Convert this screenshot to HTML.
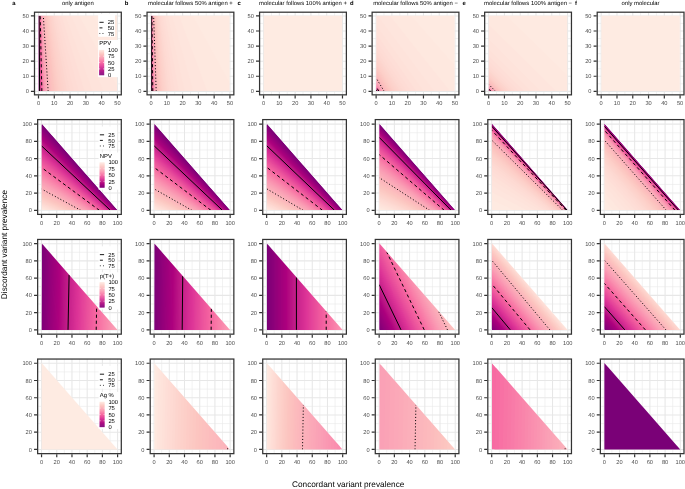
<!DOCTYPE html>
<html lang="en"><head><meta charset="utf-8"><title>Figure</title><style>html,body{margin:0;padding:0;background:#fff}svg{display:block;will-change:transform}</style></head><body>
<svg width="685" height="489" viewBox="0 0 685 489" font-family="'Liberation Sans', Arial, Helvetica, sans-serif" text-rendering="geometricPrecision">
<rect width="685" height="489" fill="#fff"/>
<g>
<path d="M46.39 12.2V94.85M62.17 12.2V94.85M77.95 12.2V94.85M93.73 12.2V94.85M109.51 12.2V94.85M34.5 83.8H121.3M34.5 68.72H121.3M34.5 53.62H121.3M34.5 38.54H121.3M34.5 23.45H121.3" stroke="#e9e9e9" stroke-width=".6" fill="none"/>
<path d="M38.5 12.2V94.85M54.28 12.2V94.85M70.06 12.2V94.85M85.84 12.2V94.85M101.62 12.2V94.85M117.4 12.2V94.85M34.5 91.35H121.3M34.5 76.26H121.3M34.5 61.17H121.3M34.5 46.08H121.3M34.5 30.99H121.3M34.5 15.9H121.3" stroke="#e7e7e7" stroke-width="1.05" fill="none"/>
<mask id="c1" maskUnits="userSpaceOnUse" x="34.5" y="12.2" width="86.8" height="82.65"><path d="M38.65 90.9L117.1 90.9L117.1 15.65L38.65 15.65z" fill="#fff"/></mask>
<g mask="url(#c1)">
<path d="M38.65 90.9L117.1 90.9L117.1 15.65L38.65 15.65z" fill="#7c0177"/>
<path d="M38.5 106.4L133.2 106.4L133.2 0.8L38.5 0.8z" fill="#7f0178"/>
<path d="M38.6 106.4L133.2 106.4L133.2 0.8L38.5 0.8z" fill="#820178"/>
<path d="M38.6 106.4L133.2 106.4L133.2 0.8L38.5 0.8z" fill="#850178"/>
<path d="M38.7 106.4L133.2 106.4L133.2 0.8L38.6 0.8z" fill="#880179"/>
<path d="M38.7 106.4L133.2 106.4L133.2 0.8L38.6 0.8z" fill="#8b0179"/>
<path d="M38.7 106.4L133.2 106.4L133.2 0.8L38.6 0.8z" fill="#8e017a"/>
<path d="M38.8 106.4L133.2 106.4L133.2 0.8L38.6 0.8z" fill="#92017a"/>
<path d="M38.8 106.4L133.2 106.4L133.2 0.8L38.6 0.8z" fill="#95007b"/>
<path d="M38.9 106.4L133.2 106.4L133.2 0.8L38.6 0.8z" fill="#98007b"/>
<path d="M38.9 106.4L133.2 106.4L133.2 0.8L38.7 0.8z" fill="#9b017b"/>
<path d="M39 106.4L133.2 106.4L133.2 0.8L38.7 0.8z" fill="#9e017c"/>
<path d="M39 106.4L133.2 106.4L133.2 0.8L38.7 0.8z" fill="#a1017c"/>
<path d="M39.1 106.4L133.2 106.4L133.2 0.8L38.7 0.8z" fill="#a4017d"/>
<path d="M39.1 106.4L133.2 106.4L133.2 0.8L38.7 0.8z" fill="#a7017d"/>
<path d="M39.2 106.4L133.2 106.4L133.2 0.8L38.7 0.8z" fill="#aa017e"/>
<path d="M39.2 106.4L133.2 106.4L133.2 0.8L38.8 0.8z" fill="#ad017e"/>
<path d="M39.3 106.4L133.2 106.4L133.2 0.8L38.8 0.8z" fill="#b0057f"/>
<path d="M39.3 106.4L133.2 106.4L133.2 0.8L38.8 0.8z" fill="#b30a81"/>
<path d="M39.4 106.4L133.2 106.4L133.2 0.8L38.8 0.8z" fill="#b60e82"/>
<path d="M39.4 106.4L133.2 106.4L133.2 0.8L38.8 0.8z" fill="#b91284"/>
<path d="M39.5 106.4L133.2 106.4L133.2 0.8L38.9 0.8z" fill="#bb1685"/>
<path d="M39.6 106.4L133.2 106.4L133.2 0.8L38.9 0.8z" fill="#be1987"/>
<path d="M39.6 106.4L133.2 106.4L133.2 0.8L38.9 0.8z" fill="#c11c88"/>
<path d="M39.7 106.4L133.2 106.4L133.2 0.8L38.9 0.8z" fill="#c41f8a"/>
<path d="M39.7 106.4L133.2 106.4L133.2 0.8L39 0.8z" fill="#c7218b"/>
<path d="M39.8 106.4L133.2 106.4L133.2 0.8L39 0.8z" fill="#ca248d"/>
<path d="M39.9 106.4L133.2 106.4L133.2 0.8L39 0.8z" fill="#cc268e"/>
<path d="M40 106.4L133.2 106.4L133.2 0.8L39 0.8z" fill="#cf2990"/>
<path d="M40 106.4L133.2 106.4L133.2 0.8L39.1 0.8z" fill="#d22b91"/>
<path d="M40.1 106.4L133.2 106.4L133.2 0.8L39.1 0.8z" fill="#d52e93"/>
<path d="M40.2 106.4L133.2 106.4L133.2 0.8L39.1 0.8z" fill="#d83094"/>
<path d="M40.3 106.4L133.2 106.4L133.2 0.8L39.1 0.8z" fill="#db3296"/>
<path d="M40.3 106.4L133.2 106.4L133.2 0.8L39.2 0.8z" fill="#dd3597"/>
<path d="M40.4 106.4L133.2 106.4L133.2 0.8L39.2 0.8z" fill="#df3898"/>
<path d="M40.5 106.4L133.2 106.4L133.2 0.8L39.2 0.8z" fill="#e03c98"/>
<path d="M40.6 106.4L133.2 106.4L133.2 0.8L39.3 0.8z" fill="#e24099"/>
<path d="M40.7 106.4L133.2 106.4L133.2 0.8L39.3 0.8z" fill="#e4439a"/>
<path d="M40.8 106.4L133.2 106.4L133.2 0.8L39.3 0.8z" fill="#e5469a"/>
<path d="M40.9 106.4L133.2 106.4L133.2 0.8L39.4 0.8z" fill="#e7499b"/>
<path d="M41 106.4L133.2 106.4L133.2 0.8L39.4 0.8z" fill="#e84d9b"/>
<path d="M41.1 106.4L133.2 106.4L133.2 0.8L39.4 0.8z" fill="#ea509c"/>
<path d="M41.2 106.4L133.2 106.4L133.2 0.8L39.5 0.8z" fill="#eb539d"/>
<path d="M41.3 106.4L133.2 106.4L133.2 0.8L39.5 0.8z" fill="#ed569d"/>
<path d="M41.4 106.4L133.2 106.4L133.2 0.8L39.6 0.8z" fill="#ef599e"/>
<path d="M41.5 106.4L133.2 106.4L133.2 0.8L39.6 0.8z" fill="#f05b9e"/>
<path d="M41.7 106.4L133.2 106.4L133.2 0.8L39.6 0.8z" fill="#f25e9f"/>
<path d="M41.8 106.4L133.2 106.4L133.2 0.8L39.7 0.8z" fill="#f361a0"/>
<path d="M41.9 106.4L133.2 106.4L133.2 0.8L39.7 0.8z" fill="#f564a0"/>
<path d="M42.1 106.4L133.2 106.4L133.2 0.8L39.8 0.8z" fill="#f667a1"/>
<path d="M42.2 106.4L133.2 106.4L133.2 0.8L39.8 0.8z" fill="#f76aa2"/>
<path d="M42.3 106.4L133.2 106.4L133.2 0.8L39.9 0.8z" fill="#f76da3"/>
<path d="M42.5 106.4L133.2 106.4L133.2 0.8L40 0.8z" fill="#f871a4"/>
<path d="M42.7 106.4L133.2 106.4L133.2 0.8L40 0.8z" fill="#f875a5"/>
<path d="M42.8 106.4L133.2 106.4L133.2 0.8L40.1 0.8z" fill="#f878a6"/>
<path d="M43 106.4L133.2 106.4L133.2 0.8L40.1 0.8z" fill="#f87ba8"/>
<path d="M43.2 106.4L133.2 106.4L133.2 0.8L40.2 0.8z" fill="#f97fa9"/>
<path d="M43.4 106.4L133.2 106.4L133.2 0.8L40.3 0.8z" fill="#f982aa"/>
<path d="M43.6 106.4L133.2 106.4L133.2 0.8L40.3 0.8z" fill="#f985ab"/>
<path d="M43.8 106.4L133.2 106.4L133.2 0.8L40.4 0.8z" fill="#f989ac"/>
<path d="M44 106.4L133.2 106.4L133.2 0.8L40.5 0.8z" fill="#f98cae"/>
<path d="M44.2 106.4L133.2 106.4L133.2 0.8L40.6 0.8z" fill="#fa8faf"/>
<path d="M44.4 106.4L133.2 106.4L133.2 0.8L40.7 0.8z" fill="#fa92b0"/>
<path d="M44.7 106.4L133.2 106.4L133.2 0.8L40.8 0.8z" fill="#fa95b1"/>
<path d="M45 106.4L133.2 106.4L133.2 0.8L40.8 0.8z" fill="#fa98b2"/>
<path d="M45.2 106.4L133.2 106.4L133.2 0.8L40.9 0.8z" fill="#fa9bb4"/>
<path d="M45.5 106.4L133.2 106.4L133.2 0.8L41.1 0.8z" fill="#fa9eb5"/>
<path d="M45.8 106.4L133.2 106.4L133.2 0.8L41.2 0.8z" fill="#faa1b6"/>
<path d="M46.2 106.4L133.2 106.4L133.2 0.8L41.3 0.8z" fill="#faa3b6"/>
<path d="M46.5 106.4L133.2 106.4L133.2 0.8L41.4 0.8z" fill="#fba6b7"/>
<path d="M46.9 106.4L133.2 106.4L133.2 0.8L41.5 0.8z" fill="#fba8b8"/>
<path d="M47.3 106.4L133.2 106.4L133.2 0.8L41.7 0.8z" fill="#fbaab8"/>
<path d="M47.7 106.4L133.2 106.4L133.2 0.8L41.8 0.8z" fill="#fbadb9"/>
<path d="M48.1 106.4L133.2 106.4L133.2 0.8L42 0.8z" fill="#fbafba"/>
<path d="M48.6 106.4L133.2 106.4L133.2 0.8L42.2 0.8z" fill="#fbb1ba"/>
<path d="M49.1 106.4L133.2 106.4L133.2 0.8L42.4 0.8z" fill="#fbb3bb"/>
<path d="M49.7 106.4L133.2 106.4L133.2 0.8L42.6 0.8z" fill="#fbb6bc"/>
<path d="M50.3 106.4L133.2 106.4L133.2 0.8L42.8 0.8z" fill="#fcb8bc"/>
<path d="M50.9 106.4L133.2 106.4L133.2 0.8L43 0.8z" fill="#fcbabd"/>
<path d="M51.6 106.4L133.2 106.4L133.2 0.8L43.3 0.8z" fill="#fcbcbd"/>
<path d="M52.4 106.4L133.2 106.4L133.2 0.8L43.5 0.8z" fill="#fcbfbe"/>
<path d="M53.2 106.4L133.2 106.4L133.2 0.8L43.9 0.8z" fill="#fcc1bf"/>
<path d="M54.1 106.4L133.2 106.4L133.2 0.8L44.2 0.8z" fill="#fcc3bf"/>
<path d="M55.2 106.4L133.2 106.4L133.2 0.8L44.6 0.8z" fill="#fcc5c0"/>
<path d="M56.3 106.4L133.2 106.4L133.2 0.8L45 0.8z" fill="#fcc8c2"/>
<path d="M57.5 106.4L133.2 106.4L133.2 0.8L45.4 0.8z" fill="#fccac4"/>
<path d="M58.9 106.4L133.2 106.4L133.2 0.8L45.9 0.8z" fill="#fdccc6"/>
<path d="M60.5 106.4L133.2 106.4L133.2 0.8L46.5 0.8z" fill="#fdcfc8"/>
<path d="M62.4 106.4L133.2 106.4L133.2 0.8L47.2 0.8z" fill="#fdd1ca"/>
<path d="M64.5 106.4L133.2 106.4L133.2 0.8L47.9 0.8z" fill="#fdd3cc"/>
<path d="M66.9 106.4L133.2 106.4L133.2 0.8L48.8 0.8z" fill="#fdd5ce"/>
<path d="M69.8 106.4L133.2 106.4L133.2 0.8L49.9 0.8z" fill="#fdd8d1"/>
<path d="M73.2 106.4L133.2 106.4L133.2 0.8L51.1 0.8z" fill="#fedad3"/>
<path d="M77.4 106.4L133.2 106.4L133.2 0.8L52.6 0.8z" fill="#fedcd5"/>
<path d="M82.6 106.4L133.2 106.4L133.2 0.8L54.5 0.8z" fill="#feded7"/>
<path d="M89.2 106.4L133.2 106.4L133.2 0.8L57 0.8z" fill="#fee1d9"/>
<path d="M98 106.4L133.2 106.4L133.2 0.8L60.1 0.8z" fill="#fee3db"/>
<path d="M110.1 106.4L133.2 106.4L133.2 0.8L64.6 0.8z" fill="#fee5dd"/>
<path d="M128 106.4L133.2 106.4L133.2 0.8L71.1 0.8z" fill="#fee8df"/>
<path d="M133.2 73.1L133.2 0.8L81.6 0.8z" fill="#feeae1"/>
</g>
<g mask="url(#c1)" stroke="#000" stroke-width="1" fill="none">
<path d="M39.64 91.35L39.07 15.9"/>
<path d="M41.86 91.35L40.18 15.9" stroke-dasharray="3.2 2.8"/>
<path d="M48.16 91.35L43.33 15.9" stroke-dasharray="1.05 2.1"/>
</g>
<path d="M38.5 95.35v3.1M54.28 95.35v3.1M70.06 95.35v3.1M85.84 95.35v3.1M101.62 95.35v3.1M117.4 95.35v3.1M34 91.35h-3.1M34 76.26h-3.1M34 61.17h-3.1M34 46.08h-3.1M34 30.99h-3.1M34 15.9h-3.1" stroke="#333" stroke-width="1.2" fill="none"/>
<g font-size="5.7" fill="#4d4d4d">
<g text-anchor="middle">
<text x="38.5" y="105.45">0</text>
<text x="54.28" y="105.45">10</text>
<text x="70.06" y="105.45">20</text>
<text x="85.84" y="105.45">30</text>
<text x="101.62" y="105.45">40</text>
<text x="117.4" y="105.45">50</text>
</g><g text-anchor="end">
<text x="28.8" y="93.4">0</text>
<text x="28.8" y="78.31">10</text>
<text x="28.8" y="63.22">20</text>
<text x="28.8" y="48.13">30</text>
<text x="28.8" y="33.04">40</text>
<text x="28.8" y="17.95">50</text>
</g></g>
<text x="77.9" y="4.5" font-size="5.9" text-anchor="middle">only antigen</text>
<text x="12.3" y="4.7" font-size="5.9" font-weight="bold">a</text>
<rect x="98.16" y="14.01" width="16.8" height="22.75" fill="#fff"/>
<rect x="98.16" y="39.96" width="23.14" height="37.2" fill="#fff"/>
<g stroke="#000" stroke-width=".9">
<path d="M99.46 22.31h4.2"/>
<path d="M99.46 27.89h4.2" stroke-dasharray="3 3"/>
<path d="M99.46 33.47h4.2" stroke-dasharray=".8 2.3"/>
</g>
<g font-size="5.8">
<text x="107.76" y="24.41">25</text>
<text x="107.76" y="29.99">50</text>
<text x="107.76" y="35.57">75</text>
<text x="99.36" y="45.46" font-size="5.9">PPV</text>
<text x="107.96" y="51.96">100</text>
<text x="107.96" y="58.31">75</text>
<text x="107.96" y="64.66">50</text>
<text x="107.96" y="71.01">25</text>
<text x="107.96" y="77.36">0</text>
</g>
<rect x="99.16" y="49.86" width="5" height="1.32" fill="#fee6de"/>
<rect x="99.16" y="50.88" width="5" height="1.32" fill="#feddd6"/>
<rect x="99.16" y="51.89" width="5" height="1.32" fill="#fdd4cd"/>
<rect x="99.16" y="52.91" width="5" height="1.32" fill="#fdcbc5"/>
<rect x="99.16" y="53.92" width="5" height="1.32" fill="#fcc2bf"/>
<rect x="99.16" y="54.94" width="5" height="1.32" fill="#fcb9bc"/>
<rect x="99.16" y="55.96" width="5" height="1.32" fill="#fbb0ba"/>
<rect x="99.16" y="56.97" width="5" height="1.32" fill="#fba7b7"/>
<rect x="99.16" y="57.99" width="5" height="1.32" fill="#fa9db4"/>
<rect x="99.16" y="59" width="5" height="1.32" fill="#fa91af"/>
<rect x="99.16" y="60.02" width="5" height="1.32" fill="#f984ab"/>
<rect x="99.16" y="61.04" width="5" height="1.32" fill="#f876a6"/>
<rect x="99.16" y="62.05" width="5" height="1.32" fill="#f768a1"/>
<rect x="99.16" y="63.07" width="5" height="1.32" fill="#f15d9f"/>
<rect x="99.16" y="64.08" width="5" height="1.32" fill="#eb519c"/>
<rect x="99.16" y="65.1" width="5" height="1.32" fill="#e4459a"/>
<rect x="99.16" y="66.12" width="5" height="1.32" fill="#de3797"/>
<rect x="99.16" y="67.13" width="5" height="1.32" fill="#d32c92"/>
<rect x="99.16" y="68.15" width="5" height="1.32" fill="#c8238c"/>
<rect x="99.16" y="69.16" width="5" height="1.32" fill="#bd1786"/>
<rect x="99.16" y="70.18" width="5" height="1.32" fill="#b20780"/>
<rect x="99.16" y="71.2" width="5" height="1.32" fill="#a6017d"/>
<rect x="99.16" y="72.21" width="5" height="1.32" fill="#99017b"/>
<rect x="99.16" y="73.23" width="5" height="1.32" fill="#8d017a"/>
<rect x="99.16" y="74.24" width="5" height="1.02" fill="#800178"/>
<path d="M99.16 56.21h1M103.16 56.21h1M99.16 62.56h1M103.16 62.56h1M99.16 68.91h1M103.16 68.91h1" stroke="#fff" stroke-width=".6"/>
<rect x="34.5" y="12.2" width="86.8" height="82.65" fill="none" stroke="#333" stroke-width="1.25"/>
</g>
<g>
<path d="M158.93 12.2V94.85M174.71 12.2V94.85M190.49 12.2V94.85M206.27 12.2V94.85M222.05 12.2V94.85M147.04 83.8H233.84M147.04 68.72H233.84M147.04 53.62H233.84M147.04 38.54H233.84M147.04 23.45H233.84" stroke="#e9e9e9" stroke-width=".6" fill="none"/>
<path d="M151.04 12.2V94.85M166.82 12.2V94.85M182.6 12.2V94.85M198.38 12.2V94.85M214.16 12.2V94.85M229.94 12.2V94.85M147.04 91.35H233.84M147.04 76.26H233.84M147.04 61.17H233.84M147.04 46.08H233.84M147.04 30.99H233.84M147.04 15.9H233.84" stroke="#e7e7e7" stroke-width="1.05" fill="none"/>
<mask id="c2" maskUnits="userSpaceOnUse" x="147.04" y="12.2" width="86.8" height="82.65"><path d="M151.19 90.9L229.64 90.9L229.64 15.65L151.19 15.65z" fill="#fff"/></mask>
<g mask="url(#c2)">
<path d="M151.19 90.9L229.64 90.9L229.64 15.65L151.19 15.65z" fill="#7c0177"/>
<path d="M151.1 106.4L245.7 106.4L245.7 0.8L151 0.8z" fill="#7f0178"/>
<path d="M151.1 106.4L245.7 106.4L245.7 0.8L151.1 0.8z" fill="#820178"/>
<path d="M151.1 106.4L245.7 106.4L245.7 0.8L151.1 0.8z" fill="#850178"/>
<path d="M151.1 106.4L245.7 106.4L245.7 0.8L151.1 0.8z" fill="#880179"/>
<path d="M151.1 106.4L245.7 106.4L245.7 0.8L151.1 0.8z" fill="#8b0179"/>
<path d="M151.2 106.4L245.7 106.4L245.7 0.8L151.1 0.8z" fill="#8e017a"/>
<path d="M151.2 106.4L245.7 106.4L245.7 0.8L151.1 0.8z" fill="#92017a"/>
<path d="M151.2 106.4L245.7 106.4L245.7 0.8L151.1 0.8z" fill="#95007b"/>
<path d="M151.2 106.4L245.7 106.4L245.7 0.8L151.1 0.8z" fill="#98007b"/>
<path d="M151.3 106.4L245.7 106.4L245.7 0.8L151.1 0.8z" fill="#9b017b"/>
<path d="M151.3 106.4L245.7 106.4L245.7 0.8L151.1 0.8z" fill="#9e017c"/>
<path d="M151.3 106.4L245.7 106.4L245.7 0.8L151.1 0.8z" fill="#a1017c"/>
<path d="M151.3 106.4L245.7 106.4L245.7 0.8L151.1 0.8z" fill="#a4017d"/>
<path d="M151.4 106.4L245.7 106.4L245.7 0.8L151.2 0.8z" fill="#a7017d"/>
<path d="M151.4 106.4L245.7 106.4L245.7 0.8L151.2 0.8z" fill="#aa017e"/>
<path d="M151.4 106.4L245.7 106.4L245.7 0.8L151.2 0.8z" fill="#ad017e"/>
<path d="M151.4 106.4L245.7 106.4L245.7 0.8L151.2 0.8z" fill="#b0057f"/>
<path d="M151.5 106.4L245.7 106.4L245.7 0.8L151.2 0.8z" fill="#b30a81"/>
<path d="M151.5 106.4L245.7 106.4L245.7 0.8L151.2 0.8z" fill="#b60e82"/>
<path d="M151.5 106.4L245.7 106.4L245.7 0.8L151.2 0.8z" fill="#b91284"/>
<path d="M151.6 106.4L245.7 106.4L245.7 0.8L151.2 0.8z" fill="#bb1685"/>
<path d="M151.6 106.4L245.7 106.4L245.7 0.8L151.2 0.8z" fill="#be1987"/>
<path d="M151.6 106.4L245.7 106.4L245.7 0.8L151.3 0.8z" fill="#c11c88"/>
<path d="M151.7 106.4L245.7 106.4L245.7 0.8L151.3 0.8z" fill="#c41f8a"/>
<path d="M151.7 106.4L245.7 106.4L245.7 0.8L151.3 0.8z" fill="#c7218b"/>
<path d="M151.7 106.4L245.7 106.4L245.7 0.8L151.3 0.8z" fill="#ca248d"/>
<path d="M151.8 106.4L245.7 106.4L245.7 0.8L151.3 0.8z" fill="#cc268e"/>
<path d="M151.8 106.4L245.7 106.4L245.7 0.8L151.3 0.8z" fill="#cf2990"/>
<path d="M151.8 106.4L245.7 106.4L245.7 0.8L151.3 0.8z" fill="#d22b91"/>
<path d="M151.9 106.4L245.7 106.4L245.7 0.8L151.3 0.8z" fill="#d52e93"/>
<path d="M151.9 106.4L245.7 106.4L245.7 0.8L151.4 0.8z" fill="#d83094"/>
<path d="M152 106.4L245.7 106.4L245.7 0.8L151.4 0.8z" fill="#db3296"/>
<path d="M152 106.4L245.7 106.4L245.7 0.8L151.4 0.8z" fill="#dd3597"/>
<path d="M152 106.4L245.7 106.4L245.7 0.8L151.4 0.8z" fill="#df3898"/>
<path d="M152.1 106.4L245.7 106.4L245.7 0.8L151.4 0.8z" fill="#e03c98"/>
<path d="M152.1 106.4L245.7 106.4L245.7 0.8L151.4 0.8z" fill="#e24099"/>
<path d="M152.2 106.4L245.7 106.4L245.7 0.8L151.5 0.8z" fill="#e4439a"/>
<path d="M152.2 106.4L245.7 106.4L245.7 0.8L151.5 0.8z" fill="#e5469a"/>
<path d="M152.3 106.4L245.7 106.4L245.7 0.8L151.5 0.8z" fill="#e7499b"/>
<path d="M152.3 106.4L245.7 106.4L245.7 0.8L151.5 0.8z" fill="#e84d9b"/>
<path d="M152.4 106.4L245.7 106.4L245.7 0.8L151.5 0.8z" fill="#ea509c"/>
<path d="M152.4 106.4L245.7 106.4L245.7 0.8L151.6 0.8z" fill="#eb539d"/>
<path d="M152.5 106.4L245.7 106.4L245.7 0.8L151.6 0.8z" fill="#ed569d"/>
<path d="M152.6 106.4L245.7 106.4L245.7 0.8L151.6 0.8z" fill="#ef599e"/>
<path d="M152.6 106.4L245.7 106.4L245.7 0.8L151.6 0.8z" fill="#f05b9e"/>
<path d="M152.7 106.4L245.7 106.4L245.7 0.8L151.6 0.8z" fill="#f25e9f"/>
<path d="M152.8 106.4L245.7 106.4L245.7 0.8L151.7 0.8z" fill="#f361a0"/>
<path d="M152.8 106.4L245.7 106.4L245.7 0.8L151.7 0.8z" fill="#f564a0"/>
<path d="M152.9 106.4L245.7 106.4L245.7 0.8L151.7 0.8z" fill="#f667a1"/>
<path d="M153 106.4L245.7 106.4L245.7 0.8L151.7 0.8z" fill="#f76aa2"/>
<path d="M153.1 106.4L245.7 106.4L245.7 0.8L151.8 0.8z" fill="#f76da3"/>
<path d="M153.1 106.4L245.7 106.4L245.7 0.8L151.8 0.8z" fill="#f871a4"/>
<path d="M153.2 106.4L245.7 106.4L245.7 0.8L151.8 0.8z" fill="#f875a5"/>
<path d="M153.3 106.4L245.7 106.4L245.7 0.8L151.9 0.8z" fill="#f878a6"/>
<path d="M153.4 106.4L245.7 106.4L245.7 0.8L151.9 0.8z" fill="#f87ba8"/>
<path d="M153.5 106.4L245.7 106.4L245.7 0.8L151.9 0.8z" fill="#f97fa9"/>
<path d="M153.6 106.4L245.7 106.4L245.7 0.8L152 0.8z" fill="#f982aa"/>
<path d="M153.7 106.4L245.7 106.4L245.7 0.8L152 0.8z" fill="#f985ab"/>
<path d="M153.8 106.4L245.7 106.4L245.7 0.8L152 0.8z" fill="#f989ac"/>
<path d="M153.9 106.4L245.7 106.4L245.7 0.8L152.1 0.8z" fill="#f98cae"/>
<path d="M154.1 106.4L245.7 106.4L245.7 0.8L152.1 0.8z" fill="#fa8faf"/>
<path d="M154.2 106.4L245.7 106.4L245.7 0.8L152.2 0.8z" fill="#fa92b0"/>
<path d="M154.3 106.4L245.7 106.4L245.7 0.8L152.2 0.8z" fill="#fa95b1"/>
<path d="M154.5 106.4L245.7 106.4L245.7 0.8L152.3 0.8z" fill="#fa98b2"/>
<path d="M154.6 106.4L245.7 106.4L245.7 0.8L152.3 0.8z" fill="#fa9bb4"/>
<path d="M154.8 106.4L245.7 106.4L245.7 0.8L152.4 0.8z" fill="#fa9eb5"/>
<path d="M154.9 106.4L245.7 106.4L245.7 0.8L152.5 0.8z" fill="#faa1b6"/>
<path d="M155.1 106.4L245.7 106.4L245.7 0.8L152.5 0.8z" fill="#faa3b6"/>
<path d="M155.3 106.4L245.7 106.4L245.7 0.8L152.6 0.8z" fill="#fba6b7"/>
<path d="M155.5 106.4L245.7 106.4L245.7 0.8L152.7 0.8z" fill="#fba8b8"/>
<path d="M155.7 106.4L245.7 106.4L245.7 0.8L152.7 0.8z" fill="#fbaab8"/>
<path d="M155.9 106.4L245.7 106.4L245.7 0.8L152.8 0.8z" fill="#fbadb9"/>
<path d="M156.2 106.4L245.7 106.4L245.7 0.8L152.9 0.8z" fill="#fbafba"/>
<path d="M156.4 106.4L245.7 106.4L245.7 0.8L153 0.8z" fill="#fbb1ba"/>
<path d="M156.7 106.4L245.7 106.4L245.7 0.8L153.1 0.8z" fill="#fbb3bb"/>
<path d="M157 106.4L245.7 106.4L245.7 0.8L153.2 0.8z" fill="#fbb6bc"/>
<path d="M157.4 106.4L245.7 106.4L245.7 0.8L153.3 0.8z" fill="#fcb8bc"/>
<path d="M157.7 106.4L245.7 106.4L245.7 0.8L153.5 0.8z" fill="#fcbabd"/>
<path d="M158.1 106.4L245.7 106.4L245.7 0.8L153.6 0.8z" fill="#fcbcbd"/>
<path d="M158.5 106.4L245.7 106.4L245.7 0.8L153.8 0.8z" fill="#fcbfbe"/>
<path d="M159 106.4L245.7 106.4L245.7 0.8L153.9 0.8z" fill="#fcc1bf"/>
<path d="M159.5 106.4L245.7 106.4L245.7 0.8L154.1 0.8z" fill="#fcc3bf"/>
<path d="M160.1 106.4L245.7 106.4L245.7 0.8L154.3 0.8z" fill="#fcc5c0"/>
<path d="M160.8 106.4L245.7 106.4L245.7 0.8L154.6 0.8z" fill="#fcc8c2"/>
<path d="M161.5 106.4L245.7 106.4L245.7 0.8L154.8 0.8z" fill="#fccac4"/>
<path d="M162.3 106.4L245.7 106.4L245.7 0.8L155.1 0.8z" fill="#fdccc6"/>
<path d="M163.2 106.4L245.7 106.4L245.7 0.8L155.5 0.8z" fill="#fdcfc8"/>
<path d="M164.3 106.4L245.7 106.4L245.7 0.8L155.9 0.8z" fill="#fdd1ca"/>
<path d="M165.6 106.4L245.7 106.4L245.7 0.8L156.3 0.8z" fill="#fdd3cc"/>
<path d="M167.1 106.4L245.7 106.4L245.7 0.8L156.9 0.8z" fill="#fdd5ce"/>
<path d="M168.8 106.4L245.7 106.4L245.7 0.8L157.5 0.8z" fill="#fdd8d1"/>
<path d="M171 106.4L245.7 106.4L245.7 0.8L158.3 0.8z" fill="#fedad3"/>
<path d="M173.7 106.4L245.7 106.4L245.7 0.8L159.3 0.8z" fill="#fedcd5"/>
<path d="M177.1 106.4L245.7 106.4L245.7 0.8L160.5 0.8z" fill="#feded7"/>
<path d="M181.7 106.4L245.7 106.4L245.7 0.8L162.2 0.8z" fill="#fee1d9"/>
<path d="M188.1 106.4L245.7 106.4L245.7 0.8L164.5 0.8z" fill="#fee3db"/>
<path d="M197.5 106.4L245.7 106.4L245.7 0.8L167.9 0.8z" fill="#fee5dd"/>
<path d="M212.9 106.4L245.7 106.4L245.7 0.8L173.5 0.8z" fill="#fee8df"/>
<path d="M242.7 106.4L245.7 106.4L245.7 0.8L184.4 0.8z" fill="#feeae1"/>
</g>
<g mask="url(#c2)" stroke="#000" stroke-width="1" fill="none">
<path d="M151.63 91.35L151.34 15.9"/>
<path d="M152.8 91.35L151.92 15.9" stroke-dasharray="3.2 2.8"/>
<path d="M156.21 91.35L153.63 15.9" stroke-dasharray="1.05 2.1"/>
</g>
<path d="M151.04 95.35v3.1M166.82 95.35v3.1M182.6 95.35v3.1M198.38 95.35v3.1M214.16 95.35v3.1M229.94 95.35v3.1M146.54 91.35h-3.1M146.54 76.26h-3.1M146.54 61.17h-3.1M146.54 46.08h-3.1M146.54 30.99h-3.1M146.54 15.9h-3.1" stroke="#333" stroke-width="1.2" fill="none"/>
<g font-size="5.7" fill="#4d4d4d">
<g text-anchor="middle">
<text x="151.04" y="105.45">0</text>
<text x="166.82" y="105.45">10</text>
<text x="182.6" y="105.45">20</text>
<text x="198.38" y="105.45">30</text>
<text x="214.16" y="105.45">40</text>
<text x="229.94" y="105.45">50</text>
</g><g text-anchor="end">
<text x="141.34" y="93.4">0</text>
<text x="141.34" y="78.31">10</text>
<text x="141.34" y="63.22">20</text>
<text x="141.34" y="48.13">30</text>
<text x="141.34" y="33.04">40</text>
<text x="141.34" y="17.95">50</text>
</g></g>
<text x="190.44" y="4.5" font-size="5.9" text-anchor="middle">molecular follows 50% antigen +</text>
<text x="124.84" y="4.7" font-size="5.9" font-weight="bold">b</text>
<rect x="147.04" y="12.2" width="86.8" height="82.65" fill="none" stroke="#333" stroke-width="1.25"/>
</g>
<g>
<path d="M271.47 12.2V94.85M287.25 12.2V94.85M303.03 12.2V94.85M318.81 12.2V94.85M334.59 12.2V94.85M259.58 83.8H346.38M259.58 68.72H346.38M259.58 53.62H346.38M259.58 38.54H346.38M259.58 23.45H346.38" stroke="#e9e9e9" stroke-width=".6" fill="none"/>
<path d="M263.58 12.2V94.85M279.36 12.2V94.85M295.14 12.2V94.85M310.92 12.2V94.85M326.7 12.2V94.85M342.48 12.2V94.85M259.58 91.35H346.38M259.58 76.26H346.38M259.58 61.17H346.38M259.58 46.08H346.38M259.58 30.99H346.38M259.58 15.9H346.38" stroke="#e7e7e7" stroke-width="1.05" fill="none"/>
<path d="M263.73 90.9L342.18 90.9L342.18 15.65L263.73 15.65z" fill="#feebe2"/>
<path d="M263.58 95.35v3.1M279.36 95.35v3.1M295.14 95.35v3.1M310.92 95.35v3.1M326.7 95.35v3.1M342.48 95.35v3.1M259.08 91.35h-3.1M259.08 76.26h-3.1M259.08 61.17h-3.1M259.08 46.08h-3.1M259.08 30.99h-3.1M259.08 15.9h-3.1" stroke="#333" stroke-width="1.2" fill="none"/>
<g font-size="5.7" fill="#4d4d4d">
<g text-anchor="middle">
<text x="263.58" y="105.45">0</text>
<text x="279.36" y="105.45">10</text>
<text x="295.14" y="105.45">20</text>
<text x="310.92" y="105.45">30</text>
<text x="326.7" y="105.45">40</text>
<text x="342.48" y="105.45">50</text>
</g><g text-anchor="end">
<text x="253.88" y="93.4">0</text>
<text x="253.88" y="78.31">10</text>
<text x="253.88" y="63.22">20</text>
<text x="253.88" y="48.13">30</text>
<text x="253.88" y="33.04">40</text>
<text x="253.88" y="17.95">50</text>
</g></g>
<text x="302.98" y="4.5" font-size="5.9" text-anchor="middle">molecular follows 100% antigen +</text>
<text x="237.38" y="4.7" font-size="5.9" font-weight="bold">c</text>
<rect x="259.58" y="12.2" width="86.8" height="82.65" fill="none" stroke="#333" stroke-width="1.25"/>
</g>
<g>
<path d="M384.01 12.2V94.85M399.79 12.2V94.85M415.57 12.2V94.85M431.35 12.2V94.85M447.13 12.2V94.85M372.12 83.8H458.92M372.12 68.72H458.92M372.12 53.62H458.92M372.12 38.54H458.92M372.12 23.45H458.92" stroke="#e9e9e9" stroke-width=".6" fill="none"/>
<path d="M376.12 12.2V94.85M391.9 12.2V94.85M407.68 12.2V94.85M423.46 12.2V94.85M439.24 12.2V94.85M455.02 12.2V94.85M372.12 91.35H458.92M372.12 76.26H458.92M372.12 61.17H458.92M372.12 46.08H458.92M372.12 30.99H458.92M372.12 15.9H458.92" stroke="#e7e7e7" stroke-width="1.05" fill="none"/>
<mask id="c3" maskUnits="userSpaceOnUse" x="372.12" y="12.2" width="86.8" height="82.65"><path d="M376.27 90.9L454.72 90.9L454.72 15.65L376.27 15.65z" fill="#fff"/></mask>
<g mask="url(#c3)">
<path d="M376.27 90.9L454.72 90.9L454.72 15.65L376.27 15.65z" fill="#7c0177"/>
<path d="M384.9 106.4L470.8 106.4L470.8 0.8L360.3 0.8L360.3 64.1z" fill="#7f0178"/>
<path d="M384.9 106.4L470.8 106.4L470.8 0.8L360.3 0.8L360.3 64.1z" fill="#820178"/>
<path d="M385 106.4L470.8 106.4L470.8 0.8L360.3 0.8L360.3 64z" fill="#850178"/>
<path d="M385 106.4L470.8 106.4L470.8 0.8L360.3 0.8L360.3 64z" fill="#880179"/>
<path d="M385 106.4L470.8 106.4L470.8 0.8L360.3 0.8L360.3 63.9z" fill="#8b0179"/>
<path d="M385.1 106.4L470.8 106.4L470.8 0.8L360.3 0.8L360.3 63.9z" fill="#8e017a"/>
<path d="M385.1 106.4L470.8 106.4L470.8 0.8L360.3 0.8L360.3 63.8z" fill="#92017a"/>
<path d="M385.1 106.4L470.8 106.4L470.8 0.8L360.3 0.8L360.3 63.8z" fill="#95007b"/>
<path d="M385.2 106.4L470.8 106.4L470.8 0.8L360.3 0.8L360.3 63.7z" fill="#98007b"/>
<path d="M385.2 106.4L470.8 106.4L470.8 0.8L360.3 0.8L360.3 63.7z" fill="#9b017b"/>
<path d="M385.2 106.4L470.8 106.4L470.8 0.8L360.3 0.8L360.3 63.6z" fill="#9e017c"/>
<path d="M385.3 106.4L470.8 106.4L470.8 0.8L360.3 0.8L360.3 63.5z" fill="#a1017c"/>
<path d="M385.3 106.4L470.8 106.4L470.8 0.8L360.3 0.8L360.3 63.5z" fill="#a4017d"/>
<path d="M385.4 106.4L470.8 106.4L470.8 0.8L360.3 0.8L360.3 63.4z" fill="#a7017d"/>
<path d="M385.4 106.4L470.8 106.4L470.8 0.8L360.3 0.8L360.3 63.4z" fill="#aa017e"/>
<path d="M385.4 106.4L470.8 106.4L470.8 0.8L360.3 0.8L360.3 63.3z" fill="#ad017e"/>
<path d="M385.5 106.4L470.8 106.4L470.8 0.8L360.3 0.8L360.3 63.2z" fill="#b0057f"/>
<path d="M385.5 106.4L470.8 106.4L470.8 0.8L360.3 0.8L360.3 63.2z" fill="#b30a81"/>
<path d="M385.6 106.4L470.8 106.4L470.8 0.8L360.3 0.8L360.3 63.1z" fill="#b60e82"/>
<path d="M385.6 106.4L470.8 106.4L470.8 0.8L360.3 0.8L360.3 63z" fill="#b91284"/>
<path d="M385.7 106.4L470.8 106.4L470.8 0.8L360.3 0.8L360.3 63z" fill="#bb1685"/>
<path d="M385.7 106.4L470.8 106.4L470.8 0.8L360.3 0.8L360.3 62.9z" fill="#be1987"/>
<path d="M385.8 106.4L470.8 106.4L470.8 0.8L360.3 0.8L360.3 62.8z" fill="#c11c88"/>
<path d="M385.8 106.4L470.8 106.4L470.8 0.8L360.3 0.8L360.3 62.8z" fill="#c41f8a"/>
<path d="M385.9 106.4L470.8 106.4L470.8 0.8L360.3 0.8L360.3 62.7z" fill="#c7218b"/>
<path d="M385.9 106.4L470.8 106.4L470.8 0.8L360.3 0.8L360.3 62.6z" fill="#ca248d"/>
<path d="M386 106.4L470.8 106.4L470.8 0.8L360.3 0.8L360.3 62.5z" fill="#cc268e"/>
<path d="M386 106.4L470.8 106.4L470.8 0.8L360.3 0.8L360.3 62.4z" fill="#cf2990"/>
<path d="M386.1 106.4L470.8 106.4L470.8 0.8L360.3 0.8L360.3 62.3z" fill="#d22b91"/>
<path d="M386.1 106.4L470.8 106.4L470.8 0.8L360.3 0.8L360.3 62.3z" fill="#d52e93"/>
<path d="M386.2 106.4L470.8 106.4L470.8 0.8L360.3 0.8L360.3 62.2z" fill="#d83094"/>
<path d="M386.3 106.4L470.8 106.4L470.8 0.8L360.3 0.8L360.3 62.1z" fill="#db3296"/>
<path d="M386.3 106.4L470.8 106.4L470.8 0.8L360.3 0.8L360.3 62z" fill="#dd3597"/>
<path d="M386.4 106.4L470.8 106.4L470.8 0.8L360.3 0.8L360.3 61.9z" fill="#df3898"/>
<path d="M386.5 106.4L470.8 106.4L470.8 0.8L360.3 0.8L360.3 61.8z" fill="#e03c98"/>
<path d="M386.5 106.4L470.8 106.4L470.8 0.8L360.3 0.8L360.3 61.7z" fill="#e24099"/>
<path d="M386.6 106.4L470.8 106.4L470.8 0.8L360.3 0.8L360.3 61.6z" fill="#e4439a"/>
<path d="M386.7 106.4L470.8 106.4L470.8 0.8L360.3 0.8L360.3 61.5z" fill="#e5469a"/>
<path d="M386.8 106.4L470.8 106.4L470.8 0.8L360.3 0.8L360.3 61.3z" fill="#e7499b"/>
<path d="M386.8 106.4L470.8 106.4L470.8 0.8L360.3 0.8L360.3 61.2z" fill="#e84d9b"/>
<path d="M386.9 106.4L470.8 106.4L470.8 0.8L360.3 0.8L360.3 61.1z" fill="#ea509c"/>
<path d="M387 106.4L470.8 106.4L470.8 0.8L360.3 0.8L360.3 61z" fill="#eb539d"/>
<path d="M387.1 106.4L470.8 106.4L470.8 0.8L360.3 0.8L360.3 60.8z" fill="#ed569d"/>
<path d="M387.2 106.4L470.8 106.4L470.8 0.8L360.3 0.8L360.3 60.7z" fill="#ef599e"/>
<path d="M387.3 106.4L470.8 106.4L470.8 0.8L360.3 0.8L360.3 60.6z" fill="#f05b9e"/>
<path d="M387.4 106.4L470.8 106.4L470.8 0.8L360.3 0.8L360.3 60.4z" fill="#f25e9f"/>
<path d="M387.5 106.4L470.8 106.4L470.8 0.8L360.3 0.8L360.3 60.3z" fill="#f361a0"/>
<path d="M387.6 106.4L470.8 106.4L470.8 0.8L360.3 0.8L360.3 60.1z" fill="#f564a0"/>
<path d="M387.7 106.4L470.8 106.4L470.8 0.8L360.3 0.8L360.3 60z" fill="#f667a1"/>
<path d="M387.8 106.4L470.8 106.4L470.8 0.8L360.3 0.8L360.3 59.8z" fill="#f76aa2"/>
<path d="M387.9 106.4L470.8 106.4L470.8 0.8L360.3 0.8L360.3 59.6z" fill="#f76da3"/>
<path d="M388 106.4L470.8 106.4L470.8 0.8L360.3 0.8L360.3 59.4z" fill="#f871a4"/>
<path d="M388.2 106.4L470.8 106.4L470.8 0.8L360.3 0.8L360.3 59.3z" fill="#f875a5"/>
<path d="M388.3 106.4L470.8 106.4L470.8 0.8L360.3 0.8L360.3 59.1z" fill="#f878a6"/>
<path d="M388.4 106.4L470.8 106.4L470.8 0.8L360.3 0.8L360.3 58.9z" fill="#f87ba8"/>
<path d="M388.6 106.4L470.8 106.4L470.8 0.8L360.3 0.8L360.3 58.7z" fill="#f97fa9"/>
<path d="M388.7 106.4L470.8 106.4L470.8 0.8L360.3 0.8L360.3 58.4z" fill="#f982aa"/>
<path d="M388.9 106.4L470.8 106.4L470.8 0.8L360.3 0.8L360.3 58.2z" fill="#f985ab"/>
<path d="M389 106.4L470.8 106.4L470.8 0.8L360.3 0.8L360.3 58z" fill="#f989ac"/>
<path d="M389.2 106.4L470.8 106.4L470.8 0.8L360.3 0.8L360.3 57.7z" fill="#f98cae"/>
<path d="M389.4 106.4L470.8 106.4L470.8 0.8L360.3 0.8L360.3 57.5z" fill="#fa8faf"/>
<path d="M389.6 106.4L470.8 106.4L470.8 0.8L360.3 0.8L360.3 57.2z" fill="#fa92b0"/>
<path d="M389.8 106.4L470.8 106.4L470.8 0.8L360.3 0.8L360.3 56.9z" fill="#fa95b1"/>
<path d="M390 106.4L470.8 106.4L470.8 0.8L360.3 0.8L360.3 56.6z" fill="#fa98b2"/>
<path d="M390.2 106.4L470.8 106.4L470.8 0.8L360.3 0.8L360.3 56.3z" fill="#fa9bb4"/>
<path d="M390.4 106.4L470.8 106.4L470.8 0.8L360.3 0.8L360.3 55.9z" fill="#fa9eb5"/>
<path d="M390.7 106.4L470.8 106.4L470.8 0.8L360.3 0.8L360.3 55.6z" fill="#faa1b6"/>
<path d="M390.9 106.4L470.8 106.4L470.8 0.8L360.3 0.8L360.3 55.2z" fill="#faa3b6"/>
<path d="M391.2 106.4L470.8 106.4L470.8 0.8L360.3 0.8L360.3 54.8z" fill="#fba6b7"/>
<path d="M391.5 106.4L470.8 106.4L470.8 0.8L360.3 0.8L360.3 54.4z" fill="#fba8b8"/>
<path d="M391.8 106.4L470.8 106.4L470.8 0.8L360.3 0.8L360.3 53.9z" fill="#fbaab8"/>
<path d="M392.2 106.4L470.8 106.4L470.8 0.8L360.3 0.8L360.3 53.5z" fill="#fbadb9"/>
<path d="M392.5 106.4L470.8 106.4L470.8 0.8L360.3 0.8L360.3 53z" fill="#fbafba"/>
<path d="M392.9 106.4L470.8 106.4L470.8 0.8L360.3 0.8L360.3 52.4z" fill="#fbb1ba"/>
<path d="M393.3 106.4L470.8 106.4L470.8 0.8L360.3 0.8L360.3 51.9z" fill="#fbb3bb"/>
<path d="M393.8 106.4L470.8 106.4L470.8 0.8L360.3 0.8L360.3 51.2z" fill="#fbb6bc"/>
<path d="M394.2 106.4L470.8 106.4L470.8 0.8L360.3 0.8L360.3 50.6z" fill="#fcb8bc"/>
<path d="M394.8 106.4L470.8 106.4L470.8 0.8L360.3 0.8L360.3 49.8z" fill="#fcbabd"/>
<path d="M395.3 106.4L470.8 106.4L470.8 0.8L360.3 0.8L360.3 49.1z" fill="#fcbcbd"/>
<path d="M395.9 106.4L470.8 106.4L470.8 0.8L360.3 0.8L360.3 48.2z" fill="#fcbfbe"/>
<path d="M396.6 106.4L470.8 106.4L470.8 0.8L360.3 0.8L360.3 47.3z" fill="#fcc1bf"/>
<path d="M397.4 106.4L470.8 106.4L470.8 0.8L360.3 0.8L360.3 46.3z" fill="#fcc3bf"/>
<path d="M398.2 106.4L470.8 106.4L470.8 0.8L360.3 0.8L360.3 45.2z" fill="#fcc5c0"/>
<path d="M399.1 106.4L470.8 106.4L470.8 0.8L360.3 0.8L360.3 44z" fill="#fcc8c2"/>
<path d="M400.1 106.4L470.8 106.4L470.8 0.8L360.3 0.8L360.3 42.6z" fill="#fccac4"/>
<path d="M401.3 106.4L470.8 106.4L470.8 0.8L360.3 0.8L360.3 41.1z" fill="#fdccc6"/>
<path d="M402.6 106.4L470.8 106.4L470.8 0.8L360.3 0.8L360.3 39.4z" fill="#fdcfc8"/>
<path d="M404.1 106.4L470.8 106.4L470.8 0.8L360.3 0.8L360.3 37.5z" fill="#fdd1ca"/>
<path d="M405.8 106.4L470.8 106.4L470.8 0.8L360.3 0.8L360.3 35.3z" fill="#fdd3cc"/>
<path d="M407.9 106.4L470.8 106.4L470.8 0.8L360.3 0.8L360.3 32.8z" fill="#fdd5ce"/>
<path d="M410.3 106.4L470.8 106.4L470.8 0.8L360.3 0.8L360.3 29.9z" fill="#fdd8d1"/>
<path d="M413.1 106.4L470.8 106.4L470.8 0.8L360.3 0.8L360.3 26.5z" fill="#fedad3"/>
<path d="M416.7 106.4L470.8 106.4L470.8 0.8L360.3 0.8L360.3 22.4z" fill="#fedcd5"/>
<path d="M421.1 106.4L470.8 106.4L470.8 0.8L360.3 0.8L360.3 17.4z" fill="#feded7"/>
<path d="M426.9 106.4L470.8 106.4L470.8 0.8L360.3 0.8L360.3 11.2z" fill="#fee1d9"/>
<path d="M434.6 106.4L470.8 106.4L470.8 0.8L360.3 0.8L360.3 3.4z" fill="#fee3db"/>
<path d="M445.5 106.4L470.8 106.4L470.8 0.8L366.1 0.8z" fill="#fee5dd"/>
<path d="M462.1 106.4L470.8 106.4L470.8 0.8L377.8 0.8z" fill="#fee8df"/>
<path d="M470.8 84.1L470.8 0.8L397.7 0.8z" fill="#feeae1"/>
</g>
<g mask="url(#c3)" stroke="#000" stroke-width="1" fill="none">
<path d="M377.06 91.35L376.12 89.74"/>
<path d="M378.91 91.35L376.12 86.61" stroke-dasharray="3.2 2.8"/>
<path d="M384.2 91.35L376.12 77.97" stroke-dasharray="1.05 2.1"/>
</g>
<path d="M376.12 95.35v3.1M391.9 95.35v3.1M407.68 95.35v3.1M423.46 95.35v3.1M439.24 95.35v3.1M455.02 95.35v3.1M371.62 91.35h-3.1M371.62 76.26h-3.1M371.62 61.17h-3.1M371.62 46.08h-3.1M371.62 30.99h-3.1M371.62 15.9h-3.1" stroke="#333" stroke-width="1.2" fill="none"/>
<g font-size="5.7" fill="#4d4d4d">
<g text-anchor="middle">
<text x="376.12" y="105.45">0</text>
<text x="391.9" y="105.45">10</text>
<text x="407.68" y="105.45">20</text>
<text x="423.46" y="105.45">30</text>
<text x="439.24" y="105.45">40</text>
<text x="455.02" y="105.45">50</text>
</g><g text-anchor="end">
<text x="366.42" y="93.4">0</text>
<text x="366.42" y="78.31">10</text>
<text x="366.42" y="63.22">20</text>
<text x="366.42" y="48.13">30</text>
<text x="366.42" y="33.04">40</text>
<text x="366.42" y="17.95">50</text>
</g></g>
<text x="415.52" y="4.5" font-size="5.9" text-anchor="middle">molecular follows 50% antigen −</text>
<text x="349.92" y="4.7" font-size="5.9" font-weight="bold">d</text>
<rect x="372.12" y="12.2" width="86.8" height="82.65" fill="none" stroke="#333" stroke-width="1.25"/>
</g>
<g>
<path d="M496.55 12.2V94.85M512.33 12.2V94.85M528.11 12.2V94.85M543.89 12.2V94.85M559.67 12.2V94.85M484.66 83.8H571.46M484.66 68.72H571.46M484.66 53.62H571.46M484.66 38.54H571.46M484.66 23.45H571.46" stroke="#e9e9e9" stroke-width=".6" fill="none"/>
<path d="M488.66 12.2V94.85M504.44 12.2V94.85M520.22 12.2V94.85M536 12.2V94.85M551.78 12.2V94.85M567.56 12.2V94.85M484.66 91.35H571.46M484.66 76.26H571.46M484.66 61.17H571.46M484.66 46.08H571.46M484.66 30.99H571.46M484.66 15.9H571.46" stroke="#e7e7e7" stroke-width="1.05" fill="none"/>
<mask id="c4" maskUnits="userSpaceOnUse" x="484.66" y="12.2" width="86.8" height="82.65"><path d="M488.81 90.9L567.26 90.9L567.26 15.65L488.81 15.65z" fill="#fff"/></mask>
<g mask="url(#c4)">
<path d="M488.81 90.9L567.26 90.9L567.26 15.65L488.81 15.65z" fill="#7c0177"/>
<path d="M503.6 106.4L583.3 106.4L583.3 0.8L472.9 0.8L472.9 75.4z" fill="#7f0178"/>
<path d="M503.7 106.4L583.3 106.4L583.3 0.8L472.9 0.8L472.9 75.4z" fill="#820178"/>
<path d="M503.7 106.4L583.3 106.4L583.3 0.8L472.9 0.8L472.9 75.3z" fill="#850178"/>
<path d="M503.7 106.4L583.3 106.4L583.3 0.8L472.9 0.8L472.9 75.3z" fill="#880179"/>
<path d="M503.7 106.4L583.3 106.4L583.3 0.8L472.9 0.8L472.9 75.3z" fill="#8b0179"/>
<path d="M503.8 106.4L583.3 106.4L583.3 0.8L472.9 0.8L472.9 75.3z" fill="#8e017a"/>
<path d="M503.8 106.4L583.3 106.4L583.3 0.8L472.9 0.8L472.9 75.2z" fill="#92017a"/>
<path d="M503.8 106.4L583.3 106.4L583.3 0.8L472.9 0.8L472.9 75.2z" fill="#95007b"/>
<path d="M503.8 106.4L583.3 106.4L583.3 0.8L472.9 0.8L472.9 75.2z" fill="#98007b"/>
<path d="M503.9 106.4L583.3 106.4L583.3 0.8L472.9 0.8L472.9 75.1z" fill="#9b017b"/>
<path d="M503.9 106.4L583.3 106.4L583.3 0.8L472.9 0.8L472.9 75.1z" fill="#9e017c"/>
<path d="M503.9 106.4L583.3 106.4L583.3 0.8L472.9 0.8L472.9 75.1z" fill="#a1017c"/>
<path d="M504 106.4L583.3 106.4L583.3 0.8L472.9 0.8L472.9 75.1z" fill="#a4017d"/>
<path d="M504 106.4L583.3 106.4L583.3 0.8L472.9 0.8L472.9 75z" fill="#a7017d"/>
<path d="M504 106.4L583.3 106.4L583.3 0.8L472.9 0.8L472.9 75z" fill="#aa017e"/>
<path d="M504.1 106.4L583.3 106.4L583.3 0.8L472.9 0.8L472.9 75z" fill="#ad017e"/>
<path d="M504.1 106.4L583.3 106.4L583.3 0.8L472.9 0.8L472.9 74.9z" fill="#b0057f"/>
<path d="M504.1 106.4L583.3 106.4L583.3 0.8L472.9 0.8L472.9 74.9z" fill="#b30a81"/>
<path d="M504.2 106.4L583.3 106.4L583.3 0.8L472.9 0.8L472.9 74.8z" fill="#b60e82"/>
<path d="M504.2 106.4L583.3 106.4L583.3 0.8L472.9 0.8L472.9 74.8z" fill="#b91284"/>
<path d="M504.2 106.4L583.3 106.4L583.3 0.8L472.9 0.8L472.9 74.8z" fill="#bb1685"/>
<path d="M504.3 106.4L583.3 106.4L583.3 0.8L472.9 0.8L472.9 74.7z" fill="#be1987"/>
<path d="M504.3 106.4L583.3 106.4L583.3 0.8L472.9 0.8L472.9 74.7z" fill="#c11c88"/>
<path d="M504.4 106.4L583.3 106.4L583.3 0.8L472.9 0.8L472.9 74.7z" fill="#c41f8a"/>
<path d="M504.4 106.4L583.3 106.4L583.3 0.8L472.9 0.8L472.9 74.6z" fill="#c7218b"/>
<path d="M504.5 106.4L583.3 106.4L583.3 0.8L472.9 0.8L472.9 74.6z" fill="#ca248d"/>
<path d="M504.5 106.4L583.3 106.4L583.3 0.8L472.9 0.8L472.9 74.5z" fill="#cc268e"/>
<path d="M504.5 106.4L583.3 106.4L583.3 0.8L472.9 0.8L472.9 74.5z" fill="#cf2990"/>
<path d="M504.6 106.4L583.3 106.4L583.3 0.8L472.9 0.8L472.9 74.4z" fill="#d22b91"/>
<path d="M504.6 106.4L583.3 106.4L583.3 0.8L472.9 0.8L472.9 74.4z" fill="#d52e93"/>
<path d="M504.7 106.4L583.3 106.4L583.3 0.8L472.9 0.8L472.9 74.3z" fill="#d83094"/>
<path d="M504.7 106.4L583.3 106.4L583.3 0.8L472.9 0.8L472.9 74.3z" fill="#db3296"/>
<path d="M504.8 106.4L583.3 106.4L583.3 0.8L472.9 0.8L472.9 74.2z" fill="#dd3597"/>
<path d="M504.8 106.4L583.3 106.4L583.3 0.8L472.9 0.8L472.9 74.2z" fill="#df3898"/>
<path d="M504.9 106.4L583.3 106.4L583.3 0.8L472.9 0.8L472.9 74.1z" fill="#e03c98"/>
<path d="M505 106.4L583.3 106.4L583.3 0.8L472.9 0.8L472.9 74.1z" fill="#e24099"/>
<path d="M505 106.4L583.3 106.4L583.3 0.8L472.9 0.8L472.9 74z" fill="#e4439a"/>
<path d="M505.1 106.4L583.3 106.4L583.3 0.8L472.9 0.8L472.9 73.9z" fill="#e5469a"/>
<path d="M505.1 106.4L583.3 106.4L583.3 0.8L472.9 0.8L472.9 73.9z" fill="#e7499b"/>
<path d="M505.2 106.4L583.3 106.4L583.3 0.8L472.9 0.8L472.9 73.8z" fill="#e84d9b"/>
<path d="M505.3 106.4L583.3 106.4L583.3 0.8L472.9 0.8L472.9 73.7z" fill="#ea509c"/>
<path d="M505.3 106.4L583.3 106.4L583.3 0.8L472.9 0.8L472.9 73.7z" fill="#eb539d"/>
<path d="M505.4 106.4L583.3 106.4L583.3 0.8L472.9 0.8L472.9 73.6z" fill="#ed569d"/>
<path d="M505.5 106.4L583.3 106.4L583.3 0.8L472.9 0.8L472.9 73.5z" fill="#ef599e"/>
<path d="M505.6 106.4L583.3 106.4L583.3 0.8L472.9 0.8L472.9 73.5z" fill="#f05b9e"/>
<path d="M505.7 106.4L583.3 106.4L583.3 0.8L472.9 0.8L472.9 73.4z" fill="#f25e9f"/>
<path d="M505.7 106.4L583.3 106.4L583.3 0.8L472.9 0.8L472.9 73.3z" fill="#f361a0"/>
<path d="M505.8 106.4L583.3 106.4L583.3 0.8L472.9 0.8L472.9 73.2z" fill="#f564a0"/>
<path d="M505.9 106.4L583.3 106.4L583.3 0.8L472.9 0.8L472.9 73.1z" fill="#f667a1"/>
<path d="M506 106.4L583.3 106.4L583.3 0.8L472.9 0.8L472.9 73z" fill="#f76aa2"/>
<path d="M506.1 106.4L583.3 106.4L583.3 0.8L472.9 0.8L472.9 72.9z" fill="#f76da3"/>
<path d="M506.2 106.4L583.3 106.4L583.3 0.8L472.9 0.8L472.9 72.8z" fill="#f871a4"/>
<path d="M506.3 106.4L583.3 106.4L583.3 0.8L472.9 0.8L472.9 72.7z" fill="#f875a5"/>
<path d="M506.4 106.4L583.3 106.4L583.3 0.8L472.9 0.8L472.9 72.6z" fill="#f878a6"/>
<path d="M506.5 106.4L583.3 106.4L583.3 0.8L472.9 0.8L472.9 72.5z" fill="#f87ba8"/>
<path d="M506.6 106.4L583.3 106.4L583.3 0.8L472.9 0.8L472.9 72.4z" fill="#f97fa9"/>
<path d="M506.8 106.4L583.3 106.4L583.3 0.8L472.9 0.8L472.9 72.3z" fill="#f982aa"/>
<path d="M506.9 106.4L583.3 106.4L583.3 0.8L472.9 0.8L472.9 72.1z" fill="#f985ab"/>
<path d="M507 106.4L583.3 106.4L583.3 0.8L472.9 0.8L472.9 72z" fill="#f989ac"/>
<path d="M507.2 106.4L583.3 106.4L583.3 0.8L472.9 0.8L472.9 71.9z" fill="#f98cae"/>
<path d="M507.3 106.4L583.3 106.4L583.3 0.8L472.9 0.8L472.9 71.7z" fill="#fa8faf"/>
<path d="M507.5 106.4L583.3 106.4L583.3 0.8L472.9 0.8L472.9 71.5z" fill="#fa92b0"/>
<path d="M507.6 106.4L583.3 106.4L583.3 0.8L472.9 0.8L472.9 71.4z" fill="#fa95b1"/>
<path d="M507.8 106.4L583.3 106.4L583.3 0.8L472.9 0.8L472.9 71.2z" fill="#fa98b2"/>
<path d="M508 106.4L583.3 106.4L583.3 0.8L472.9 0.8L472.9 71z" fill="#fa9bb4"/>
<path d="M508.2 106.4L583.3 106.4L583.3 0.8L472.9 0.8L472.9 70.8z" fill="#fa9eb5"/>
<path d="M508.4 106.4L583.3 106.4L583.3 0.8L472.9 0.8L472.9 70.6z" fill="#faa1b6"/>
<path d="M508.6 106.4L583.3 106.4L583.3 0.8L472.9 0.8L472.9 70.4z" fill="#faa3b6"/>
<path d="M508.8 106.4L583.3 106.4L583.3 0.8L472.9 0.8L472.9 70.2z" fill="#fba6b7"/>
<path d="M509.1 106.4L583.3 106.4L583.3 0.8L472.9 0.8L472.9 69.9z" fill="#fba8b8"/>
<path d="M509.4 106.4L583.3 106.4L583.3 0.8L472.9 0.8L472.9 69.7z" fill="#fbaab8"/>
<path d="M509.6 106.4L583.3 106.4L583.3 0.8L472.9 0.8L472.9 69.4z" fill="#fbadb9"/>
<path d="M509.9 106.4L583.3 106.4L583.3 0.8L472.9 0.8L472.9 69.1z" fill="#fbafba"/>
<path d="M510.2 106.4L583.3 106.4L583.3 0.8L472.9 0.8L472.9 68.8z" fill="#fbb1ba"/>
<path d="M510.6 106.4L583.3 106.4L583.3 0.8L472.9 0.8L472.9 68.5z" fill="#fbb3bb"/>
<path d="M511 106.4L583.3 106.4L583.3 0.8L472.9 0.8L472.9 68.1z" fill="#fbb6bc"/>
<path d="M511.4 106.4L583.3 106.4L583.3 0.8L472.9 0.8L472.9 67.7z" fill="#fcb8bc"/>
<path d="M511.8 106.4L583.3 106.4L583.3 0.8L472.9 0.8L472.9 67.3z" fill="#fcbabd"/>
<path d="M512.3 106.4L583.3 106.4L583.3 0.8L472.9 0.8L472.9 66.8z" fill="#fcbcbd"/>
<path d="M512.8 106.4L583.3 106.4L583.3 0.8L472.9 0.8L472.9 66.3z" fill="#fcbfbe"/>
<path d="M513.4 106.4L583.3 106.4L583.3 0.8L472.9 0.8L472.9 65.7z" fill="#fcc1bf"/>
<path d="M514 106.4L583.3 106.4L583.3 0.8L472.9 0.8L472.9 65.1z" fill="#fcc3bf"/>
<path d="M514.7 106.4L583.3 106.4L583.3 0.8L472.9 0.8L472.9 64.4z" fill="#fcc5c0"/>
<path d="M515.4 106.4L583.3 106.4L583.3 0.8L472.9 0.8L472.9 63.6z" fill="#fcc8c2"/>
<path d="M516.3 106.4L583.3 106.4L583.3 0.8L472.9 0.8L472.9 62.8z" fill="#fccac4"/>
<path d="M517.3 106.4L583.3 106.4L583.3 0.8L472.9 0.8L472.9 61.8z" fill="#fdccc6"/>
<path d="M518.4 106.4L583.3 106.4L583.3 0.8L472.9 0.8L472.9 60.7z" fill="#fdcfc8"/>
<path d="M519.7 106.4L583.3 106.4L583.3 0.8L472.9 0.8L472.9 59.5z" fill="#fdd1ca"/>
<path d="M521.1 106.4L583.3 106.4L583.3 0.8L472.9 0.8L472.9 58z" fill="#fdd3cc"/>
<path d="M522.9 106.4L583.3 106.4L583.3 0.8L472.9 0.8L472.9 56.3z" fill="#fdd5ce"/>
<path d="M524.9 106.4L583.3 106.4L583.3 0.8L472.9 0.8L472.9 54.3z" fill="#fdd8d1"/>
<path d="M527.4 106.4L583.3 106.4L583.3 0.8L472.9 0.8L472.9 51.8z" fill="#fedad3"/>
<path d="M530.5 106.4L583.3 106.4L583.3 0.8L472.9 0.8L472.9 48.8z" fill="#fedcd5"/>
<path d="M534.4 106.4L583.3 106.4L583.3 0.8L472.9 0.8L472.9 45z" fill="#feded7"/>
<path d="M539.4 106.4L583.3 106.4L583.3 0.8L472.9 0.8L472.9 40.1z" fill="#fee1d9"/>
<path d="M546.3 106.4L583.3 106.4L583.3 0.8L472.9 0.8L472.9 33.4z" fill="#fee3db"/>
<path d="M556.2 106.4L583.3 106.4L583.3 0.8L472.9 0.8L472.9 23.8z" fill="#fee5dd"/>
<path d="M571.7 106.4L583.3 106.4L583.3 0.8L472.9 0.8L472.9 9z" fill="#fee8df"/>
<path d="M583.3 90.9L583.3 0.8L491.2 0.8z" fill="#feeae1"/>
</g>
<g mask="url(#c4)" stroke="#000" stroke-width="1" fill="none">
<path d="M489.46 91.35L488.66 90.54"/>
<path d="M491.05 91.35L488.66 88.94" stroke-dasharray="3.2 2.8"/>
<path d="M495.61 91.35L488.66 84.35" stroke-dasharray="1.05 2.1"/>
</g>
<path d="M488.66 95.35v3.1M504.44 95.35v3.1M520.22 95.35v3.1M536 95.35v3.1M551.78 95.35v3.1M567.56 95.35v3.1M484.16 91.35h-3.1M484.16 76.26h-3.1M484.16 61.17h-3.1M484.16 46.08h-3.1M484.16 30.99h-3.1M484.16 15.9h-3.1" stroke="#333" stroke-width="1.2" fill="none"/>
<g font-size="5.7" fill="#4d4d4d">
<g text-anchor="middle">
<text x="488.66" y="105.45">0</text>
<text x="504.44" y="105.45">10</text>
<text x="520.22" y="105.45">20</text>
<text x="536" y="105.45">30</text>
<text x="551.78" y="105.45">40</text>
<text x="567.56" y="105.45">50</text>
</g><g text-anchor="end">
<text x="478.96" y="93.4">0</text>
<text x="478.96" y="78.31">10</text>
<text x="478.96" y="63.22">20</text>
<text x="478.96" y="48.13">30</text>
<text x="478.96" y="33.04">40</text>
<text x="478.96" y="17.95">50</text>
</g></g>
<text x="528.06" y="4.5" font-size="5.9" text-anchor="middle">molecular follows 100% antigen −</text>
<text x="462.46" y="4.7" font-size="5.9" font-weight="bold">e</text>
<rect x="484.66" y="12.2" width="86.8" height="82.65" fill="none" stroke="#333" stroke-width="1.25"/>
</g>
<g>
<path d="M609.09 12.2V94.85M624.87 12.2V94.85M640.65 12.2V94.85M656.43 12.2V94.85M672.21 12.2V94.85M597.2 83.8H684M597.2 68.72H684M597.2 53.62H684M597.2 38.54H684M597.2 23.45H684" stroke="#e9e9e9" stroke-width=".6" fill="none"/>
<path d="M601.2 12.2V94.85M616.98 12.2V94.85M632.76 12.2V94.85M648.54 12.2V94.85M664.32 12.2V94.85M680.1 12.2V94.85M597.2 91.35H684M597.2 76.26H684M597.2 61.17H684M597.2 46.08H684M597.2 30.99H684M597.2 15.9H684" stroke="#e7e7e7" stroke-width="1.05" fill="none"/>
<path d="M601.35 90.9L679.8 90.9L679.8 15.65L601.35 15.65z" fill="#feebe2"/>
<path d="M601.2 95.35v3.1M616.98 95.35v3.1M632.76 95.35v3.1M648.54 95.35v3.1M664.32 95.35v3.1M680.1 95.35v3.1M596.7 91.35h-3.1M596.7 76.26h-3.1M596.7 61.17h-3.1M596.7 46.08h-3.1M596.7 30.99h-3.1M596.7 15.9h-3.1" stroke="#333" stroke-width="1.2" fill="none"/>
<g font-size="5.7" fill="#4d4d4d">
<g text-anchor="middle">
<text x="601.2" y="105.45">0</text>
<text x="616.98" y="105.45">10</text>
<text x="632.76" y="105.45">20</text>
<text x="648.54" y="105.45">30</text>
<text x="664.32" y="105.45">40</text>
<text x="680.1" y="105.45">50</text>
</g><g text-anchor="end">
<text x="591.5" y="93.4">0</text>
<text x="591.5" y="78.31">10</text>
<text x="591.5" y="63.22">20</text>
<text x="591.5" y="48.13">30</text>
<text x="591.5" y="33.04">40</text>
<text x="591.5" y="17.95">50</text>
</g></g>
<text x="640.6" y="4.5" font-size="5.9" text-anchor="middle">only molecular</text>
<text x="575" y="4.7" font-size="5.9" font-weight="bold">f</text>
<rect x="597.2" y="12.2" width="86.8" height="82.65" fill="none" stroke="#333" stroke-width="1.25"/>
</g>
<g>
<path d="M49.15 119.6V214.4M64.36 119.6V214.4M79.57 119.6V214.4M94.78 119.6V214.4M109.99 119.6V214.4M37.65 201.68H121.3M37.65 184.44H121.3M37.65 167.2H121.3M37.65 149.96H121.3M37.65 132.72H121.3" stroke="#e9e9e9" stroke-width=".6" fill="none"/>
<path d="M41.55 119.6V214.4M56.76 119.6V214.4M71.97 119.6V214.4M87.18 119.6V214.4M102.39 119.6V214.4M117.6 119.6V214.4M37.65 210.3H121.3M37.65 193.06H121.3M37.65 175.82H121.3M37.65 158.58H121.3M37.65 141.34H121.3M37.65 124.1H121.3" stroke="#e7e7e7" stroke-width="1.05" fill="none"/>
<mask id="c5" maskUnits="userSpaceOnUse" x="37.65" y="119.6" width="83.65" height="94.8"><path d="M41.7 210L117.54 210L41.7 123.4z" fill="#fff"/></mask>
<g mask="url(#c5)">
<path d="M41.7 210L117.54 210L41.7 123.4z" fill="#7c0177"/>
<path d="M33.9 218.9L125 218.9L33.9 116.4z" fill="#7f0178"/>
<path d="M33.9 218.9L124.8 218.9L33.9 117.4z" fill="#820178"/>
<path d="M33.9 218.9L124.6 218.9L33.9 118.3z" fill="#850178"/>
<path d="M33.9 218.9L124.4 218.9L33.9 119.2z" fill="#880179"/>
<path d="M33.9 218.9L124.2 218.9L33.9 120.2z" fill="#8b0179"/>
<path d="M33.9 218.9L124 218.9L33.9 121.1z" fill="#8e017a"/>
<path d="M33.9 218.9L123.8 218.9L33.9 122z" fill="#92017a"/>
<path d="M33.9 218.9L123.6 218.9L33.9 123z" fill="#95007b"/>
<path d="M33.9 218.9L123.4 218.9L33.9 123.9z" fill="#98007b"/>
<path d="M33.9 218.9L123.2 218.9L33.9 124.8z" fill="#9b017b"/>
<path d="M33.9 218.9L123 218.9L33.9 125.8z" fill="#9e017c"/>
<path d="M33.9 218.9L122.8 218.9L33.9 126.7z" fill="#a1017c"/>
<path d="M33.9 218.9L122.5 218.9L33.9 127.6z" fill="#a4017d"/>
<path d="M33.9 218.9L122.3 218.9L33.9 128.5z" fill="#a7017d"/>
<path d="M33.9 218.9L122.1 218.9L33.9 129.5z" fill="#aa017e"/>
<path d="M33.9 218.9L121.9 218.9L33.9 130.4z" fill="#ad017e"/>
<path d="M33.9 218.9L121.6 218.9L33.9 131.3z" fill="#b0057f"/>
<path d="M33.9 218.9L121.4 218.9L33.9 132.3z" fill="#b30a81"/>
<path d="M33.9 218.9L121.1 218.9L33.9 133.2z" fill="#b60e82"/>
<path d="M33.9 218.9L120.9 218.9L33.9 134.1z" fill="#b91284"/>
<path d="M33.9 218.9L120.6 218.9L33.9 135.1z" fill="#bb1685"/>
<path d="M33.9 218.9L120.4 218.9L33.9 136z" fill="#be1987"/>
<path d="M33.9 218.9L120.1 218.9L33.9 136.9z" fill="#c11c88"/>
<path d="M33.9 218.9L119.9 218.9L33.9 137.9z" fill="#c41f8a"/>
<path d="M33.9 218.9L119.6 218.9L33.9 138.8z" fill="#c7218b"/>
<path d="M33.9 218.9L119.3 218.9L33.9 139.7z" fill="#ca248d"/>
<path d="M33.9 218.9L119 218.9L33.9 140.6z" fill="#cc268e"/>
<path d="M33.9 218.9L118.8 218.9L33.9 141.6z" fill="#cf2990"/>
<path d="M33.9 218.9L118.5 218.9L33.9 142.5z" fill="#d22b91"/>
<path d="M33.9 218.9L118.2 218.9L33.9 143.4z" fill="#d52e93"/>
<path d="M33.9 218.9L117.9 218.9L33.9 144.3z" fill="#d83094"/>
<path d="M33.9 218.9L117.6 218.9L33.9 145.3z" fill="#db3296"/>
<path d="M33.9 218.9L117.3 218.9L33.9 146.2z" fill="#dd3597"/>
<path d="M33.9 218.9L117 218.9L33.9 147.1z" fill="#df3898"/>
<path d="M33.9 218.9L116.6 218.9L33.9 148z" fill="#e03c98"/>
<path d="M33.9 218.9L116.3 218.9L33.9 149z" fill="#e24099"/>
<path d="M33.9 218.9L116 218.9L33.9 149.9z" fill="#e4439a"/>
<path d="M33.9 218.9L115.6 218.9L33.9 150.8z" fill="#e5469a"/>
<path d="M33.9 218.9L115.3 218.9L33.9 151.7z" fill="#e7499b"/>
<path d="M33.9 218.9L115 218.9L33.9 152.7z" fill="#e84d9b"/>
<path d="M33.9 218.9L114.6 218.9L33.9 153.6z" fill="#ea509c"/>
<path d="M33.9 218.9L114.2 218.9L33.9 154.5z" fill="#eb539d"/>
<path d="M33.9 218.9L113.9 218.9L33.9 155.4z" fill="#ed569d"/>
<path d="M33.9 218.9L113.5 218.9L33.9 156.4z" fill="#ef599e"/>
<path d="M33.9 218.9L113.1 218.9L33.9 157.3z" fill="#f05b9e"/>
<path d="M33.9 218.9L112.7 218.9L33.9 158.2z" fill="#f25e9f"/>
<path d="M33.9 218.9L112.3 218.9L33.9 159.1z" fill="#f361a0"/>
<path d="M33.9 218.9L111.9 218.9L33.9 160.1z" fill="#f564a0"/>
<path d="M33.9 218.9L111.5 218.9L33.9 161z" fill="#f667a1"/>
<path d="M33.9 218.9L111.1 218.9L33.9 161.9z" fill="#f76aa2"/>
<path d="M33.9 218.9L110.6 218.9L33.9 162.8z" fill="#f76da3"/>
<path d="M33.9 218.9L110.2 218.9L33.9 163.7z" fill="#f871a4"/>
<path d="M33.9 218.9L109.7 218.9L33.9 164.7z" fill="#f875a5"/>
<path d="M33.9 218.9L109.3 218.9L33.9 165.6z" fill="#f878a6"/>
<path d="M33.9 218.9L108.8 218.9L33.9 166.5z" fill="#f87ba8"/>
<path d="M33.9 218.9L108.3 218.9L33.9 167.4z" fill="#f97fa9"/>
<path d="M33.9 218.9L107.8 218.9L33.9 168.3z" fill="#f982aa"/>
<path d="M33.9 218.9L107.3 218.9L33.9 169.3z" fill="#f985ab"/>
<path d="M33.9 218.9L106.8 218.9L33.9 170.2z" fill="#f989ac"/>
<path d="M33.9 218.9L106.2 218.9L33.9 171.1z" fill="#f98cae"/>
<path d="M33.9 218.9L105.7 218.9L33.9 172z" fill="#fa8faf"/>
<path d="M33.9 218.9L105.1 218.9L33.9 172.9z" fill="#fa92b0"/>
<path d="M33.9 218.9L104.6 218.9L33.9 173.9z" fill="#fa95b1"/>
<path d="M33.9 218.9L104 218.9L33.9 174.8z" fill="#fa98b2"/>
<path d="M33.9 218.9L103.4 218.9L33.9 175.7z" fill="#fa9bb4"/>
<path d="M33.9 218.9L102.8 218.9L33.9 176.6z" fill="#fa9eb5"/>
<path d="M33.9 218.9L102.2 218.9L33.9 177.5z" fill="#faa1b6"/>
<path d="M33.9 218.9L101.5 218.9L33.9 178.4z" fill="#faa3b6"/>
<path d="M33.9 218.9L100.8 218.9L33.9 179.4z" fill="#fba6b7"/>
<path d="M33.9 218.9L100.2 218.9L33.9 180.3z" fill="#fba8b8"/>
<path d="M33.9 218.9L99.5 218.9L33.9 181.2z" fill="#fbaab8"/>
<path d="M33.9 218.9L98.8 218.9L33.9 182.1z" fill="#fbadb9"/>
<path d="M33.9 218.9L98 218.9L33.9 183z" fill="#fbafba"/>
<path d="M33.9 218.9L97.3 218.9L33.9 183.9z" fill="#fbb1ba"/>
<path d="M33.9 218.9L96.5 218.9L33.9 184.9z" fill="#fbb3bb"/>
<path d="M33.9 218.9L95.7 218.9L33.9 185.8z" fill="#fbb6bc"/>
<path d="M33.9 218.9L94.9 218.9L33.9 186.7z" fill="#fcb8bc"/>
<path d="M33.9 218.9L94 218.9L33.9 187.6z" fill="#fcbabd"/>
<path d="M33.9 218.9L93.2 218.9L33.9 188.5z" fill="#fcbcbd"/>
<path d="M33.9 218.9L92.3 218.9L33.9 189.4z" fill="#fcbfbe"/>
<path d="M33.9 218.9L91.3 218.9L33.9 190.3z" fill="#fcc1bf"/>
<path d="M33.9 218.9L90.4 218.9L33.9 191.2z" fill="#fcc3bf"/>
<path d="M33.9 218.9L89.4 218.9L33.9 192.2z" fill="#fcc5c0"/>
<path d="M33.9 218.9L88.4 218.9L33.9 193.1z" fill="#fcc8c2"/>
<path d="M33.9 218.9L87.3 218.9L33.9 194z" fill="#fccac4"/>
<path d="M33.9 218.9L86.2 218.9L33.9 194.9z" fill="#fdccc6"/>
<path d="M33.9 218.9L85.1 218.9L33.9 195.8z" fill="#fdcfc8"/>
<path d="M33.9 218.9L84 218.9L33.9 196.7z" fill="#fdd1ca"/>
<path d="M33.9 218.9L82.8 218.9L33.9 197.6z" fill="#fdd3cc"/>
<path d="M33.9 218.9L81.5 218.9L33.9 198.5z" fill="#fdd5ce"/>
<path d="M33.9 218.9L80.2 218.9L33.9 199.4z" fill="#fdd8d1"/>
<path d="M33.9 218.9L78.9 218.9L33.9 200.4z" fill="#fedad3"/>
<path d="M33.9 218.9L77.5 218.9L33.9 201.3z" fill="#fedcd5"/>
<path d="M33.9 218.9L76.1 218.9L33.9 202.2z" fill="#feded7"/>
<path d="M33.9 218.9L74.6 218.9L33.9 203.1z" fill="#fee1d9"/>
<path d="M33.9 218.9L73 218.9L33.9 204z" fill="#fee3db"/>
<path d="M33.9 218.9L71.4 218.9L33.9 204.9z" fill="#fee5dd"/>
<path d="M33.9 218.9L69.7 218.9L33.9 205.8z" fill="#fee8df"/>
<path d="M33.9 218.9L67.9 218.9L33.9 206.7z" fill="#feeae1"/>
</g>
<g mask="url(#c5)" stroke="#000" stroke-width="1" fill="none">
<path d="M110.38 210.3L41.55 145.9"/>
<path d="M99.39 210.3L41.55 167.53" stroke-dasharray="3.2 2.8"/>
<path d="M80.67 210.3L41.55 188.99" stroke-dasharray="1.05 2.1"/>
</g>
<path d="M41.55 214.9v3.1M56.76 214.9v3.1M71.97 214.9v3.1M87.18 214.9v3.1M102.39 214.9v3.1M117.6 214.9v3.1M37.15 210.3h-3.1M37.15 193.06h-3.1M37.15 175.82h-3.1M37.15 158.58h-3.1M37.15 141.34h-3.1M37.15 124.1h-3.1" stroke="#333" stroke-width="1.2" fill="none"/>
<g font-size="5.7" fill="#4d4d4d">
<g text-anchor="middle">
<text x="41.55" y="225">0</text>
<text x="56.76" y="225">20</text>
<text x="71.97" y="225">40</text>
<text x="87.18" y="225">60</text>
<text x="102.39" y="225">80</text>
<text x="117.6" y="225">100</text>
</g><g text-anchor="end">
<text x="31.95" y="212.35">0</text>
<text x="31.95" y="195.11">20</text>
<text x="31.95" y="177.87">40</text>
<text x="31.95" y="160.63">60</text>
<text x="31.95" y="143.39">80</text>
<text x="31.95" y="126.15">100</text>
</g></g>
<rect x="98.59" y="126.52" width="18.6" height="22.75" fill="#fff"/>
<rect x="98.59" y="152.47" width="22.71" height="37.2" fill="#fff"/>
<g stroke="#000" stroke-width=".9">
<path d="M99.89 134.82h4.2"/>
<path d="M99.89 140.4h4.2" stroke-dasharray="3 3"/>
<path d="M99.89 145.98h4.2" stroke-dasharray=".8 2.3"/>
</g>
<g font-size="5.8">
<text x="108.19" y="136.92">25</text>
<text x="108.19" y="142.5">50</text>
<text x="108.19" y="148.08">75</text>
<text x="99.79" y="157.97" font-size="5.9">NPV</text>
<text x="108.39" y="164.47">100</text>
<text x="108.39" y="170.82">75</text>
<text x="108.39" y="177.17">50</text>
<text x="108.39" y="183.52">25</text>
<text x="108.39" y="189.87">0</text>
</g>
<rect x="99.59" y="162.37" width="5" height="1.32" fill="#fee6de"/>
<rect x="99.59" y="163.39" width="5" height="1.32" fill="#feddd6"/>
<rect x="99.59" y="164.4" width="5" height="1.32" fill="#fdd4cd"/>
<rect x="99.59" y="165.42" width="5" height="1.32" fill="#fdcbc5"/>
<rect x="99.59" y="166.43" width="5" height="1.32" fill="#fcc2bf"/>
<rect x="99.59" y="167.45" width="5" height="1.32" fill="#fcb9bc"/>
<rect x="99.59" y="168.47" width="5" height="1.32" fill="#fbb0ba"/>
<rect x="99.59" y="169.48" width="5" height="1.32" fill="#fba7b7"/>
<rect x="99.59" y="170.5" width="5" height="1.32" fill="#fa9db4"/>
<rect x="99.59" y="171.51" width="5" height="1.32" fill="#fa91af"/>
<rect x="99.59" y="172.53" width="5" height="1.32" fill="#f984ab"/>
<rect x="99.59" y="173.55" width="5" height="1.32" fill="#f876a6"/>
<rect x="99.59" y="174.56" width="5" height="1.32" fill="#f768a1"/>
<rect x="99.59" y="175.58" width="5" height="1.32" fill="#f15d9f"/>
<rect x="99.59" y="176.59" width="5" height="1.32" fill="#eb519c"/>
<rect x="99.59" y="177.61" width="5" height="1.32" fill="#e4459a"/>
<rect x="99.59" y="178.63" width="5" height="1.32" fill="#de3797"/>
<rect x="99.59" y="179.64" width="5" height="1.32" fill="#d32c92"/>
<rect x="99.59" y="180.66" width="5" height="1.32" fill="#c8238c"/>
<rect x="99.59" y="181.67" width="5" height="1.32" fill="#bd1786"/>
<rect x="99.59" y="182.69" width="5" height="1.32" fill="#b20780"/>
<rect x="99.59" y="183.71" width="5" height="1.32" fill="#a6017d"/>
<rect x="99.59" y="184.72" width="5" height="1.32" fill="#99017b"/>
<rect x="99.59" y="185.74" width="5" height="1.32" fill="#8d017a"/>
<rect x="99.59" y="186.75" width="5" height="1.02" fill="#800178"/>
<path d="M99.59 168.72h1M103.59 168.72h1M99.59 175.07h1M103.59 175.07h1M99.59 181.42h1M103.59 181.42h1" stroke="#fff" stroke-width=".6"/>
<rect x="37.65" y="119.6" width="83.65" height="94.8" fill="none" stroke="#333" stroke-width="1.25"/>
</g>
<g>
<path d="M161.69 119.6V214.4M176.91 119.6V214.4M192.12 119.6V214.4M207.32 119.6V214.4M222.53 119.6V214.4M150.19 201.68H233.84M150.19 184.44H233.84M150.19 167.2H233.84M150.19 149.96H233.84M150.19 132.72H233.84" stroke="#e9e9e9" stroke-width=".6" fill="none"/>
<path d="M154.09 119.6V214.4M169.3 119.6V214.4M184.51 119.6V214.4M199.72 119.6V214.4M214.93 119.6V214.4M230.14 119.6V214.4M150.19 210.3H233.84M150.19 193.06H233.84M150.19 175.82H233.84M150.19 158.58H233.84M150.19 141.34H233.84M150.19 124.1H233.84" stroke="#e7e7e7" stroke-width="1.05" fill="none"/>
<mask id="c6" maskUnits="userSpaceOnUse" x="150.19" y="119.6" width="83.65" height="94.8"><path d="M154.24 210L230.08 210L154.24 123.4z" fill="#fff"/></mask>
<g mask="url(#c6)">
<path d="M154.24 210L230.08 210L154.24 123.4z" fill="#7c0177"/>
<path d="M146.5 218.9L237.5 218.9L146.5 116.4z" fill="#7f0178"/>
<path d="M146.5 218.9L237.3 218.9L146.5 117.3z" fill="#820178"/>
<path d="M146.5 218.9L237.1 218.9L146.5 118.3z" fill="#850178"/>
<path d="M146.5 218.9L236.9 218.9L146.5 119.2z" fill="#880179"/>
<path d="M146.5 218.9L236.7 218.9L146.5 120.1z" fill="#8b0179"/>
<path d="M146.5 218.9L236.5 218.9L146.5 121z" fill="#8e017a"/>
<path d="M146.5 218.9L236.2 218.9L146.5 122z" fill="#92017a"/>
<path d="M146.5 218.9L236 218.9L146.5 122.9z" fill="#95007b"/>
<path d="M146.5 218.9L235.8 218.9L146.5 123.8z" fill="#98007b"/>
<path d="M146.5 218.9L235.5 218.9L146.5 124.7z" fill="#9b017b"/>
<path d="M146.5 218.9L235.3 218.9L146.5 125.7z" fill="#9e017c"/>
<path d="M146.5 218.9L235.1 218.9L146.5 126.6z" fill="#a1017c"/>
<path d="M146.5 218.9L234.8 218.9L146.5 127.5z" fill="#a4017d"/>
<path d="M146.5 218.9L234.6 218.9L146.5 128.4z" fill="#a7017d"/>
<path d="M146.5 218.9L234.3 218.9L146.5 129.4z" fill="#aa017e"/>
<path d="M146.5 218.9L234.1 218.9L146.5 130.3z" fill="#ad017e"/>
<path d="M146.5 218.9L233.8 218.9L146.5 131.2z" fill="#b0057f"/>
<path d="M146.5 218.9L233.5 218.9L146.5 132.1z" fill="#b30a81"/>
<path d="M146.5 218.9L233.3 218.9L146.5 133.1z" fill="#b60e82"/>
<path d="M146.5 218.9L233 218.9L146.5 134z" fill="#b91284"/>
<path d="M146.5 218.9L232.7 218.9L146.5 134.9z" fill="#bb1685"/>
<path d="M146.5 218.9L232.4 218.9L146.5 135.8z" fill="#be1987"/>
<path d="M146.5 218.9L232.1 218.9L146.5 136.7z" fill="#c11c88"/>
<path d="M146.5 218.9L231.9 218.9L146.5 137.7z" fill="#c41f8a"/>
<path d="M146.5 218.9L231.6 218.9L146.5 138.6z" fill="#c7218b"/>
<path d="M146.5 218.9L231.3 218.9L146.5 139.5z" fill="#ca248d"/>
<path d="M146.5 218.9L231 218.9L146.5 140.4z" fill="#cc268e"/>
<path d="M146.5 218.9L230.6 218.9L146.5 141.4z" fill="#cf2990"/>
<path d="M146.5 218.9L230.3 218.9L146.5 142.3z" fill="#d22b91"/>
<path d="M146.5 218.9L230 218.9L146.5 143.2z" fill="#d52e93"/>
<path d="M146.5 218.9L229.7 218.9L146.5 144.1z" fill="#d83094"/>
<path d="M146.5 218.9L229.4 218.9L146.5 145z" fill="#db3296"/>
<path d="M146.5 218.9L229 218.9L146.5 146z" fill="#dd3597"/>
<path d="M146.5 218.9L228.7 218.9L146.5 146.9z" fill="#df3898"/>
<path d="M146.5 218.9L228.3 218.9L146.5 147.8z" fill="#e03c98"/>
<path d="M146.5 218.9L228 218.9L146.5 148.7z" fill="#e24099"/>
<path d="M146.5 218.9L227.6 218.9L146.5 149.7z" fill="#e4439a"/>
<path d="M146.5 218.9L227.3 218.9L146.5 150.6z" fill="#e5469a"/>
<path d="M146.5 218.9L226.9 218.9L146.5 151.5z" fill="#e7499b"/>
<path d="M146.5 218.9L226.5 218.9L146.5 152.4z" fill="#e84d9b"/>
<path d="M146.5 218.9L226.1 218.9L146.5 153.3z" fill="#ea509c"/>
<path d="M146.5 218.9L225.7 218.9L146.5 154.3z" fill="#eb539d"/>
<path d="M146.5 218.9L225.3 218.9L146.5 155.2z" fill="#ed569d"/>
<path d="M146.5 218.9L224.9 218.9L146.5 156.1z" fill="#ef599e"/>
<path d="M146.5 218.9L224.5 218.9L146.5 157z" fill="#f05b9e"/>
<path d="M146.5 218.9L224.1 218.9L146.5 157.9z" fill="#f25e9f"/>
<path d="M146.5 218.9L223.7 218.9L146.5 158.9z" fill="#f361a0"/>
<path d="M146.5 218.9L223.2 218.9L146.5 159.8z" fill="#f564a0"/>
<path d="M146.5 218.9L222.8 218.9L146.5 160.7z" fill="#f667a1"/>
<path d="M146.5 218.9L222.3 218.9L146.5 161.6z" fill="#f76aa2"/>
<path d="M146.5 218.9L221.9 218.9L146.5 162.5z" fill="#f76da3"/>
<path d="M146.5 218.9L221.4 218.9L146.5 163.5z" fill="#f871a4"/>
<path d="M146.5 218.9L220.9 218.9L146.5 164.4z" fill="#f875a5"/>
<path d="M146.5 218.9L220.4 218.9L146.5 165.3z" fill="#f878a6"/>
<path d="M146.5 218.9L219.9 218.9L146.5 166.2z" fill="#f87ba8"/>
<path d="M146.5 218.9L219.4 218.9L146.5 167.1z" fill="#f97fa9"/>
<path d="M146.5 218.9L218.9 218.9L146.5 168z" fill="#f982aa"/>
<path d="M146.5 218.9L218.3 218.9L146.5 169z" fill="#f985ab"/>
<path d="M146.5 218.9L217.8 218.9L146.5 169.9z" fill="#f989ac"/>
<path d="M146.5 218.9L217.2 218.9L146.5 170.8z" fill="#f98cae"/>
<path d="M146.5 218.9L216.6 218.9L146.5 171.7z" fill="#fa8faf"/>
<path d="M146.5 218.9L216 218.9L146.5 172.6z" fill="#fa92b0"/>
<path d="M146.5 218.9L215.4 218.9L146.5 173.6z" fill="#fa95b1"/>
<path d="M146.5 218.9L214.8 218.9L146.5 174.5z" fill="#fa98b2"/>
<path d="M146.5 218.9L214.2 218.9L146.5 175.4z" fill="#fa9bb4"/>
<path d="M146.5 218.9L213.6 218.9L146.5 176.3z" fill="#fa9eb5"/>
<path d="M146.5 218.9L212.9 218.9L146.5 177.2z" fill="#faa1b6"/>
<path d="M146.5 218.9L212.2 218.9L146.5 178.1z" fill="#faa3b6"/>
<path d="M146.5 218.9L211.5 218.9L146.5 179.1z" fill="#fba6b7"/>
<path d="M146.5 218.9L210.8 218.9L146.5 180z" fill="#fba8b8"/>
<path d="M146.5 218.9L210.1 218.9L146.5 180.9z" fill="#fbaab8"/>
<path d="M146.5 218.9L209.4 218.9L146.5 181.8z" fill="#fbadb9"/>
<path d="M146.5 218.9L208.6 218.9L146.5 182.7z" fill="#fbafba"/>
<path d="M146.5 218.9L207.8 218.9L146.5 183.6z" fill="#fbb1ba"/>
<path d="M146.5 218.9L207 218.9L146.5 184.6z" fill="#fbb3bb"/>
<path d="M146.5 218.9L206.2 218.9L146.5 185.5z" fill="#fbb6bc"/>
<path d="M146.5 218.9L205.3 218.9L146.5 186.4z" fill="#fcb8bc"/>
<path d="M146.5 218.9L204.5 218.9L146.5 187.3z" fill="#fcbabd"/>
<path d="M146.5 218.9L203.6 218.9L146.5 188.2z" fill="#fcbcbd"/>
<path d="M146.5 218.9L202.7 218.9L146.5 189.1z" fill="#fcbfbe"/>
<path d="M146.5 218.9L201.7 218.9L146.5 190z" fill="#fcc1bf"/>
<path d="M146.5 218.9L200.7 218.9L146.5 191z" fill="#fcc3bf"/>
<path d="M146.5 218.9L199.7 218.9L146.5 191.9z" fill="#fcc5c0"/>
<path d="M146.5 218.9L198.7 218.9L146.5 192.8z" fill="#fcc8c2"/>
<path d="M146.5 218.9L197.6 218.9L146.5 193.7z" fill="#fccac4"/>
<path d="M146.5 218.9L196.5 218.9L146.5 194.6z" fill="#fdccc6"/>
<path d="M146.5 218.9L195.4 218.9L146.5 195.5z" fill="#fdcfc8"/>
<path d="M146.5 218.9L194.3 218.9L146.5 196.4z" fill="#fdd1ca"/>
<path d="M146.5 218.9L193.1 218.9L146.5 197.4z" fill="#fdd3cc"/>
<path d="M146.5 218.9L191.8 218.9L146.5 198.3z" fill="#fdd5ce"/>
<path d="M146.5 218.9L190.5 218.9L146.5 199.2z" fill="#fdd8d1"/>
<path d="M146.5 218.9L189.2 218.9L146.5 200.1z" fill="#fedad3"/>
<path d="M146.5 218.9L187.8 218.9L146.5 201z" fill="#fedcd5"/>
<path d="M146.5 218.9L186.4 218.9L146.5 201.9z" fill="#feded7"/>
<path d="M146.5 218.9L184.9 218.9L146.5 202.8z" fill="#fee1d9"/>
<path d="M146.5 218.9L183.4 218.9L146.5 203.8z" fill="#fee3db"/>
<path d="M146.5 218.9L181.8 218.9L146.5 204.7z" fill="#fee5dd"/>
<path d="M146.5 218.9L180.2 218.9L146.5 205.6z" fill="#fee8df"/>
<path d="M146.5 218.9L178.5 218.9L146.5 206.5z" fill="#feeae1"/>
</g>
<g mask="url(#c6)" stroke="#000" stroke-width="1" fill="none">
<path d="M222.43 210.3L154.09 145.77"/>
<path d="M210.91 210.3L154.09 167.36" stroke-dasharray="3.2 2.8"/>
<path d="M191.83 210.3L154.09 188.87" stroke-dasharray="1.05 2.1"/>
</g>
<path d="M154.09 214.9v3.1M169.3 214.9v3.1M184.51 214.9v3.1M199.72 214.9v3.1M214.93 214.9v3.1M230.14 214.9v3.1M149.69 210.3h-3.1M149.69 193.06h-3.1M149.69 175.82h-3.1M149.69 158.58h-3.1M149.69 141.34h-3.1M149.69 124.1h-3.1" stroke="#333" stroke-width="1.2" fill="none"/>
<g font-size="5.7" fill="#4d4d4d">
<g text-anchor="middle">
<text x="154.09" y="225">0</text>
<text x="169.3" y="225">20</text>
<text x="184.51" y="225">40</text>
<text x="199.72" y="225">60</text>
<text x="214.93" y="225">80</text>
<text x="230.14" y="225">100</text>
</g><g text-anchor="end">
<text x="144.49" y="212.35">0</text>
<text x="144.49" y="195.11">20</text>
<text x="144.49" y="177.87">40</text>
<text x="144.49" y="160.63">60</text>
<text x="144.49" y="143.39">80</text>
<text x="144.49" y="126.15">100</text>
</g></g>
<rect x="150.19" y="119.6" width="83.65" height="94.8" fill="none" stroke="#333" stroke-width="1.25"/>
</g>
<g>
<path d="M274.24 119.6V214.4M289.44 119.6V214.4M304.65 119.6V214.4M319.87 119.6V214.4M335.07 119.6V214.4M262.73 201.68H346.38M262.73 184.44H346.38M262.73 167.2H346.38M262.73 149.96H346.38M262.73 132.72H346.38" stroke="#e9e9e9" stroke-width=".6" fill="none"/>
<path d="M266.63 119.6V214.4M281.84 119.6V214.4M297.05 119.6V214.4M312.26 119.6V214.4M327.47 119.6V214.4M342.68 119.6V214.4M262.73 210.3H346.38M262.73 193.06H346.38M262.73 175.82H346.38M262.73 158.58H346.38M262.73 141.34H346.38M262.73 124.1H346.38" stroke="#e7e7e7" stroke-width="1.05" fill="none"/>
<mask id="c7" maskUnits="userSpaceOnUse" x="262.73" y="119.6" width="83.65" height="94.8"><path d="M266.78 210L342.62 210L266.78 123.4z" fill="#fff"/></mask>
<g mask="url(#c7)">
<path d="M266.78 210L342.62 210L266.78 123.4z" fill="#7c0177"/>
<path d="M259 218.9L350.1 218.9L259 116.4z" fill="#7f0178"/>
<path d="M259 218.9L349.8 218.9L259 117.3z" fill="#820178"/>
<path d="M259 218.9L349.6 218.9L259 118.2z" fill="#850178"/>
<path d="M259 218.9L349.4 218.9L259 119.1z" fill="#880179"/>
<path d="M259 218.9L349.1 218.9L259 120.1z" fill="#8b0179"/>
<path d="M259 218.9L348.9 218.9L259 121z" fill="#8e017a"/>
<path d="M259 218.9L348.6 218.9L259 121.9z" fill="#92017a"/>
<path d="M259 218.9L348.4 218.9L259 122.8z" fill="#95007b"/>
<path d="M259 218.9L348.1 218.9L259 123.7z" fill="#98007b"/>
<path d="M259 218.9L347.9 218.9L259 124.7z" fill="#9b017b"/>
<path d="M259 218.9L347.6 218.9L259 125.6z" fill="#9e017c"/>
<path d="M259 218.9L347.3 218.9L259 126.5z" fill="#a1017c"/>
<path d="M259 218.9L347.1 218.9L259 127.4z" fill="#a4017d"/>
<path d="M259 218.9L346.8 218.9L259 128.3z" fill="#a7017d"/>
<path d="M259 218.9L346.5 218.9L259 129.2z" fill="#aa017e"/>
<path d="M259 218.9L346.2 218.9L259 130.2z" fill="#ad017e"/>
<path d="M259 218.9L346 218.9L259 131.1z" fill="#b0057f"/>
<path d="M259 218.9L345.7 218.9L259 132z" fill="#b30a81"/>
<path d="M259 218.9L345.4 218.9L259 132.9z" fill="#b60e82"/>
<path d="M259 218.9L345.1 218.9L259 133.8z" fill="#b91284"/>
<path d="M259 218.9L344.8 218.9L259 134.7z" fill="#bb1685"/>
<path d="M259 218.9L344.5 218.9L259 135.7z" fill="#be1987"/>
<path d="M259 218.9L344.2 218.9L259 136.6z" fill="#c11c88"/>
<path d="M259 218.9L343.9 218.9L259 137.5z" fill="#c41f8a"/>
<path d="M259 218.9L343.5 218.9L259 138.4z" fill="#c7218b"/>
<path d="M259 218.9L343.2 218.9L259 139.3z" fill="#ca248d"/>
<path d="M259 218.9L342.9 218.9L259 140.2z" fill="#cc268e"/>
<path d="M259 218.9L342.6 218.9L259 141.2z" fill="#cf2990"/>
<path d="M259 218.9L342.2 218.9L259 142.1z" fill="#d22b91"/>
<path d="M259 218.9L341.9 218.9L259 143z" fill="#d52e93"/>
<path d="M259 218.9L341.5 218.9L259 143.9z" fill="#d83094"/>
<path d="M259 218.9L341.2 218.9L259 144.8z" fill="#db3296"/>
<path d="M259 218.9L340.8 218.9L259 145.7z" fill="#dd3597"/>
<path d="M259 218.9L340.4 218.9L259 146.7z" fill="#df3898"/>
<path d="M259 218.9L340.1 218.9L259 147.6z" fill="#e03c98"/>
<path d="M259 218.9L339.7 218.9L259 148.5z" fill="#e24099"/>
<path d="M259 218.9L339.3 218.9L259 149.4z" fill="#e4439a"/>
<path d="M259 218.9L338.9 218.9L259 150.3z" fill="#e5469a"/>
<path d="M259 218.9L338.5 218.9L259 151.2z" fill="#e7499b"/>
<path d="M259 218.9L338.1 218.9L259 152.2z" fill="#e84d9b"/>
<path d="M259 218.9L337.7 218.9L259 153.1z" fill="#ea509c"/>
<path d="M259 218.9L337.3 218.9L259 154z" fill="#eb539d"/>
<path d="M259 218.9L336.9 218.9L259 154.9z" fill="#ed569d"/>
<path d="M259 218.9L336.4 218.9L259 155.8z" fill="#ef599e"/>
<path d="M259 218.9L336 218.9L259 156.7z" fill="#f05b9e"/>
<path d="M259 218.9L335.5 218.9L259 157.7z" fill="#f25e9f"/>
<path d="M259 218.9L335.1 218.9L259 158.6z" fill="#f361a0"/>
<path d="M259 218.9L334.6 218.9L259 159.5z" fill="#f564a0"/>
<path d="M259 218.9L334.1 218.9L259 160.4z" fill="#f667a1"/>
<path d="M259 218.9L333.6 218.9L259 161.3z" fill="#f76aa2"/>
<path d="M259 218.9L333.2 218.9L259 162.2z" fill="#f76da3"/>
<path d="M259 218.9L332.7 218.9L259 163.2z" fill="#f871a4"/>
<path d="M259 218.9L332.1 218.9L259 164.1z" fill="#f875a5"/>
<path d="M259 218.9L331.6 218.9L259 165z" fill="#f878a6"/>
<path d="M259 218.9L331.1 218.9L259 165.9z" fill="#f87ba8"/>
<path d="M259 218.9L330.5 218.9L259 166.8z" fill="#f97fa9"/>
<path d="M259 218.9L330 218.9L259 167.7z" fill="#f982aa"/>
<path d="M259 218.9L329.4 218.9L259 168.7z" fill="#f985ab"/>
<path d="M259 218.9L328.8 218.9L259 169.6z" fill="#f989ac"/>
<path d="M259 218.9L328.3 218.9L259 170.5z" fill="#f98cae"/>
<path d="M259 218.9L327.7 218.9L259 171.4z" fill="#fa8faf"/>
<path d="M259 218.9L327 218.9L259 172.3z" fill="#fa92b0"/>
<path d="M259 218.9L326.4 218.9L259 173.3z" fill="#fa95b1"/>
<path d="M259 218.9L325.8 218.9L259 174.2z" fill="#fa98b2"/>
<path d="M259 218.9L325.1 218.9L259 175.1z" fill="#fa9bb4"/>
<path d="M259 218.9L324.4 218.9L259 176z" fill="#fa9eb5"/>
<path d="M259 218.9L323.8 218.9L259 176.9z" fill="#faa1b6"/>
<path d="M259 218.9L323.1 218.9L259 177.8z" fill="#faa3b6"/>
<path d="M259 218.9L322.3 218.9L259 178.8z" fill="#fba6b7"/>
<path d="M259 218.9L321.6 218.9L259 179.7z" fill="#fba8b8"/>
<path d="M259 218.9L320.9 218.9L259 180.6z" fill="#fbaab8"/>
<path d="M259 218.9L320.1 218.9L259 181.5z" fill="#fbadb9"/>
<path d="M259 218.9L319.3 218.9L259 182.4z" fill="#fbafba"/>
<path d="M259 218.9L318.5 218.9L259 183.3z" fill="#fbb1ba"/>
<path d="M259 218.9L317.7 218.9L259 184.3z" fill="#fbb3bb"/>
<path d="M259 218.9L316.8 218.9L259 185.2z" fill="#fbb6bc"/>
<path d="M259 218.9L316 218.9L259 186.1z" fill="#fcb8bc"/>
<path d="M259 218.9L315.1 218.9L259 187z" fill="#fcbabd"/>
<path d="M259 218.9L314.2 218.9L259 187.9z" fill="#fcbcbd"/>
<path d="M259 218.9L313.2 218.9L259 188.8z" fill="#fcbfbe"/>
<path d="M259 218.9L312.3 218.9L259 189.8z" fill="#fcc1bf"/>
<path d="M259 218.9L311.3 218.9L259 190.7z" fill="#fcc3bf"/>
<path d="M259 218.9L310.3 218.9L259 191.6z" fill="#fcc5c0"/>
<path d="M259 218.9L309.3 218.9L259 192.5z" fill="#fcc8c2"/>
<path d="M259 218.9L308.2 218.9L259 193.4z" fill="#fccac4"/>
<path d="M259 218.9L307.1 218.9L259 194.3z" fill="#fdccc6"/>
<path d="M259 218.9L306 218.9L259 195.3z" fill="#fdcfc8"/>
<path d="M259 218.9L304.8 218.9L259 196.2z" fill="#fdd1ca"/>
<path d="M259 218.9L303.6 218.9L259 197.1z" fill="#fdd3cc"/>
<path d="M259 218.9L302.4 218.9L259 198z" fill="#fdd5ce"/>
<path d="M259 218.9L301.1 218.9L259 198.9z" fill="#fdd8d1"/>
<path d="M259 218.9L299.8 218.9L259 199.8z" fill="#fedad3"/>
<path d="M259 218.9L298.4 218.9L259 200.8z" fill="#fedcd5"/>
<path d="M259 218.9L297 218.9L259 201.7z" fill="#feded7"/>
<path d="M259 218.9L295.6 218.9L259 202.6z" fill="#fee1d9"/>
<path d="M259 218.9L294.1 218.9L259 203.5z" fill="#fee3db"/>
<path d="M259 218.9L292.6 218.9L259 204.4z" fill="#fee5dd"/>
<path d="M259 218.9L291 218.9L259 205.3z" fill="#fee8df"/>
<path d="M259 218.9L289.4 218.9L259 206.3z" fill="#feeae1"/>
</g>
<g mask="url(#c7)" stroke="#000" stroke-width="1" fill="none">
<path d="M334.5 210.3L266.63 145.65"/>
<path d="M322.48 210.3L266.63 167.2" stroke-dasharray="3.2 2.8"/>
<path d="M303.1 210.3L266.63 188.75" stroke-dasharray="1.05 2.1"/>
</g>
<path d="M266.63 214.9v3.1M281.84 214.9v3.1M297.05 214.9v3.1M312.26 214.9v3.1M327.47 214.9v3.1M342.68 214.9v3.1M262.23 210.3h-3.1M262.23 193.06h-3.1M262.23 175.82h-3.1M262.23 158.58h-3.1M262.23 141.34h-3.1M262.23 124.1h-3.1" stroke="#333" stroke-width="1.2" fill="none"/>
<g font-size="5.7" fill="#4d4d4d">
<g text-anchor="middle">
<text x="266.63" y="225">0</text>
<text x="281.84" y="225">20</text>
<text x="297.05" y="225">40</text>
<text x="312.26" y="225">60</text>
<text x="327.47" y="225">80</text>
<text x="342.68" y="225">100</text>
</g><g text-anchor="end">
<text x="257.03" y="212.35">0</text>
<text x="257.03" y="195.11">20</text>
<text x="257.03" y="177.87">40</text>
<text x="257.03" y="160.63">60</text>
<text x="257.03" y="143.39">80</text>
<text x="257.03" y="126.15">100</text>
</g></g>
<rect x="262.73" y="119.6" width="83.65" height="94.8" fill="none" stroke="#333" stroke-width="1.25"/>
</g>
<g>
<path d="M386.78 119.6V214.4M401.99 119.6V214.4M417.19 119.6V214.4M432.41 119.6V214.4M447.62 119.6V214.4M375.27 201.68H458.92M375.27 184.44H458.92M375.27 167.2H458.92M375.27 149.96H458.92M375.27 132.72H458.92" stroke="#e9e9e9" stroke-width=".6" fill="none"/>
<path d="M379.17 119.6V214.4M394.38 119.6V214.4M409.59 119.6V214.4M424.8 119.6V214.4M440.01 119.6V214.4M455.22 119.6V214.4M375.27 210.3H458.92M375.27 193.06H458.92M375.27 175.82H458.92M375.27 158.58H458.92M375.27 141.34H458.92M375.27 124.1H458.92" stroke="#e7e7e7" stroke-width="1.05" fill="none"/>
<mask id="c8" maskUnits="userSpaceOnUse" x="375.27" y="119.6" width="83.65" height="94.8"><path d="M379.32 210L455.16 210L379.32 123.4z" fill="#fff"/></mask>
<g mask="url(#c8)">
<path d="M379.32 210L455.16 210L379.32 123.4z" fill="#7c0177"/>
<path d="M371.6 218.9L462.7 218.9L371.6 116z" fill="#7f0178"/>
<path d="M371.6 218.9L462.6 218.9L371.6 116.5z" fill="#820178"/>
<path d="M371.6 218.9L462.5 218.9L371.6 117z" fill="#850178"/>
<path d="M371.6 218.9L462.4 218.9L371.6 117.5z" fill="#880179"/>
<path d="M371.6 218.9L462.3 218.9L371.6 118.1z" fill="#8b0179"/>
<path d="M371.6 218.9L462.2 218.9L371.6 118.6z" fill="#8e017a"/>
<path d="M371.6 218.9L462.1 218.9L371.6 119.1z" fill="#92017a"/>
<path d="M371.6 218.9L462 218.9L371.6 119.7z" fill="#95007b"/>
<path d="M371.6 218.9L461.9 218.9L371.6 120.2z" fill="#98007b"/>
<path d="M371.6 218.9L461.7 218.9L371.6 120.7z" fill="#9b017b"/>
<path d="M371.6 218.9L461.6 218.9L371.6 121.3z" fill="#9e017c"/>
<path d="M371.6 218.9L461.5 218.9L371.6 121.9z" fill="#a1017c"/>
<path d="M371.6 218.9L461.4 218.9L371.6 122.4z" fill="#a4017d"/>
<path d="M371.6 218.9L461.2 218.9L371.6 123z" fill="#a7017d"/>
<path d="M371.6 218.9L461.1 218.9L371.6 123.6z" fill="#aa017e"/>
<path d="M371.6 218.9L461 218.9L371.6 124.2z" fill="#ad017e"/>
<path d="M371.6 218.9L460.8 218.9L371.6 124.7z" fill="#b0057f"/>
<path d="M371.6 218.9L460.7 218.9L371.6 125.3z" fill="#b30a81"/>
<path d="M371.6 218.9L460.6 218.9L371.6 125.9z" fill="#b60e82"/>
<path d="M371.6 218.9L460.4 218.9L371.6 126.5z" fill="#b91284"/>
<path d="M371.6 218.9L460.3 218.9L371.6 127.2z" fill="#bb1685"/>
<path d="M371.6 218.9L460.1 218.9L371.6 127.8z" fill="#be1987"/>
<path d="M371.6 218.9L460 218.9L371.6 128.4z" fill="#c11c88"/>
<path d="M371.6 218.9L459.8 218.9L371.6 129z" fill="#c41f8a"/>
<path d="M371.6 218.9L459.7 218.9L371.6 129.7z" fill="#c7218b"/>
<path d="M371.6 218.9L459.5 218.9L371.6 130.3z" fill="#ca248d"/>
<path d="M371.6 218.9L459.3 218.9L371.6 131z" fill="#cc268e"/>
<path d="M371.6 218.9L459.2 218.9L371.6 131.6z" fill="#cf2990"/>
<path d="M371.6 218.9L459 218.9L371.6 132.3z" fill="#d22b91"/>
<path d="M371.6 218.9L458.8 218.9L371.6 132.9z" fill="#d52e93"/>
<path d="M371.6 218.9L458.6 218.9L371.6 133.6z" fill="#d83094"/>
<path d="M371.6 218.9L458.5 218.9L371.6 134.3z" fill="#db3296"/>
<path d="M371.6 218.9L458.3 218.9L371.6 135z" fill="#dd3597"/>
<path d="M371.6 218.9L458.1 218.9L371.6 135.7z" fill="#df3898"/>
<path d="M371.6 218.9L457.9 218.9L371.6 136.4z" fill="#e03c98"/>
<path d="M371.6 218.9L457.7 218.9L371.6 137.1z" fill="#e24099"/>
<path d="M371.6 218.9L457.5 218.9L371.6 137.8z" fill="#e4439a"/>
<path d="M371.6 218.9L457.3 218.9L371.6 138.6z" fill="#e5469a"/>
<path d="M371.6 218.9L457.1 218.9L371.6 139.3z" fill="#e7499b"/>
<path d="M371.6 218.9L456.8 218.9L371.6 140.1z" fill="#e84d9b"/>
<path d="M371.6 218.9L456.6 218.9L371.6 140.8z" fill="#ea509c"/>
<path d="M371.6 218.9L456.4 218.9L371.6 141.6z" fill="#eb539d"/>
<path d="M371.6 218.9L456.1 218.9L371.6 142.4z" fill="#ed569d"/>
<path d="M371.6 218.9L455.9 218.9L371.6 143.1z" fill="#ef599e"/>
<path d="M371.6 218.9L455.6 218.9L371.6 143.9z" fill="#f05b9e"/>
<path d="M371.6 218.9L455.4 218.9L371.6 144.7z" fill="#f25e9f"/>
<path d="M371.6 218.9L455.1 218.9L371.6 145.5z" fill="#f361a0"/>
<path d="M371.6 218.9L454.8 218.9L371.6 146.3z" fill="#f564a0"/>
<path d="M371.6 218.9L454.6 218.9L371.6 147.2z" fill="#f667a1"/>
<path d="M371.6 218.9L454.3 218.9L371.6 148z" fill="#f76aa2"/>
<path d="M371.6 218.9L454 218.9L371.6 148.9z" fill="#f76da3"/>
<path d="M371.6 218.9L453.7 218.9L371.6 149.7z" fill="#f871a4"/>
<path d="M371.6 218.9L453.4 218.9L371.6 150.6z" fill="#f875a5"/>
<path d="M371.6 218.9L453 218.9L371.6 151.5z" fill="#f878a6"/>
<path d="M371.6 218.9L452.7 218.9L371.6 152.3z" fill="#f87ba8"/>
<path d="M371.6 218.9L452.4 218.9L371.6 153.2z" fill="#f97fa9"/>
<path d="M371.6 218.9L452 218.9L371.6 154.2z" fill="#f982aa"/>
<path d="M371.6 218.9L451.6 218.9L371.6 155.1z" fill="#f985ab"/>
<path d="M371.6 218.9L451.3 218.9L371.6 156z" fill="#f989ac"/>
<path d="M371.6 218.9L450.9 218.9L371.6 157z" fill="#f98cae"/>
<path d="M371.6 218.9L450.5 218.9L371.6 157.9z" fill="#fa8faf"/>
<path d="M371.6 218.9L450 218.9L371.6 158.9z" fill="#fa92b0"/>
<path d="M371.6 218.9L449.6 218.9L371.6 159.9z" fill="#fa95b1"/>
<path d="M371.6 218.9L449.2 218.9L371.6 160.9z" fill="#fa98b2"/>
<path d="M371.6 218.9L448.7 218.9L371.6 161.9z" fill="#fa9bb4"/>
<path d="M371.6 218.9L448.2 218.9L371.6 162.9z" fill="#fa9eb5"/>
<path d="M371.6 218.9L447.7 218.9L371.6 163.9z" fill="#faa1b6"/>
<path d="M371.6 218.9L447.2 218.9L371.6 165z" fill="#faa3b6"/>
<path d="M371.6 218.9L446.7 218.9L371.6 166z" fill="#fba6b7"/>
<path d="M371.6 218.9L446.1 218.9L371.6 167.1z" fill="#fba8b8"/>
<path d="M371.6 218.9L445.5 218.9L371.6 168.2z" fill="#fbaab8"/>
<path d="M371.6 218.9L444.9 218.9L371.6 169.3z" fill="#fbadb9"/>
<path d="M371.6 218.9L444.3 218.9L371.6 170.4z" fill="#fbafba"/>
<path d="M371.6 218.9L443.6 218.9L371.6 171.5z" fill="#fbb1ba"/>
<path d="M371.6 218.9L442.9 218.9L371.6 172.7z" fill="#fbb3bb"/>
<path d="M371.6 218.9L442.2 218.9L371.6 173.8z" fill="#fbb6bc"/>
<path d="M371.6 218.9L441.4 218.9L371.6 175z" fill="#fcb8bc"/>
<path d="M371.6 218.9L440.7 218.9L371.6 176.2z" fill="#fcbabd"/>
<path d="M371.6 218.9L439.8 218.9L371.6 177.4z" fill="#fcbcbd"/>
<path d="M371.6 218.9L439 218.9L371.6 178.7z" fill="#fcbfbe"/>
<path d="M371.6 218.9L438.1 218.9L371.6 179.9z" fill="#fcc1bf"/>
<path d="M371.6 218.9L437.1 218.9L371.6 181.2z" fill="#fcc3bf"/>
<path d="M371.6 218.9L436.1 218.9L371.6 182.5z" fill="#fcc5c0"/>
<path d="M371.6 218.9L435 218.9L371.6 183.8z" fill="#fcc8c2"/>
<path d="M371.6 218.9L433.9 218.9L371.6 185.1z" fill="#fccac4"/>
<path d="M371.6 218.9L432.7 218.9L371.6 186.5z" fill="#fdccc6"/>
<path d="M371.6 218.9L431.4 218.9L371.6 187.8z" fill="#fdcfc8"/>
<path d="M371.6 218.9L430.1 218.9L371.6 189.2z" fill="#fdd1ca"/>
<path d="M371.6 218.9L428.7 218.9L371.6 190.6z" fill="#fdd3cc"/>
<path d="M371.6 218.9L427.1 218.9L371.6 192z" fill="#fdd5ce"/>
<path d="M371.6 218.9L425.5 218.9L371.6 193.5z" fill="#fdd8d1"/>
<path d="M371.6 218.9L423.8 218.9L371.6 195z" fill="#fedad3"/>
<path d="M371.6 218.9L421.9 218.9L371.6 196.5z" fill="#fedcd5"/>
<path d="M371.6 218.9L419.9 218.9L371.6 198z" fill="#feded7"/>
<path d="M371.6 218.9L417.7 218.9L371.6 199.5z" fill="#fee1d9"/>
<path d="M371.6 218.9L415.4 218.9L371.6 201.1z" fill="#fee3db"/>
<path d="M371.6 218.9L412.8 218.9L371.6 202.7z" fill="#fee5dd"/>
<path d="M371.6 218.9L410.1 218.9L371.6 204.3z" fill="#fee8df"/>
<path d="M371.6 218.9L407 218.9L371.6 206z" fill="#feeae1"/>
</g>
<g mask="url(#c8)" stroke="#000" stroke-width="1" fill="none">
<path d="M451.16 210.3L379.17 137.37"/>
<path d="M444.22 210.3L379.17 154.53" stroke-dasharray="3.2 2.8"/>
<path d="M429.62 210.3L379.17 177.61" stroke-dasharray="1.05 2.1"/>
</g>
<path d="M379.17 214.9v3.1M394.38 214.9v3.1M409.59 214.9v3.1M424.8 214.9v3.1M440.01 214.9v3.1M455.22 214.9v3.1M374.77 210.3h-3.1M374.77 193.06h-3.1M374.77 175.82h-3.1M374.77 158.58h-3.1M374.77 141.34h-3.1M374.77 124.1h-3.1" stroke="#333" stroke-width="1.2" fill="none"/>
<g font-size="5.7" fill="#4d4d4d">
<g text-anchor="middle">
<text x="379.17" y="225">0</text>
<text x="394.38" y="225">20</text>
<text x="409.59" y="225">40</text>
<text x="424.8" y="225">60</text>
<text x="440.01" y="225">80</text>
<text x="455.22" y="225">100</text>
</g><g text-anchor="end">
<text x="369.57" y="212.35">0</text>
<text x="369.57" y="195.11">20</text>
<text x="369.57" y="177.87">40</text>
<text x="369.57" y="160.63">60</text>
<text x="369.57" y="143.39">80</text>
<text x="369.57" y="126.15">100</text>
</g></g>
<rect x="375.27" y="119.6" width="83.65" height="94.8" fill="none" stroke="#333" stroke-width="1.25"/>
</g>
<g>
<path d="M499.32 119.6V214.4M514.53 119.6V214.4M529.74 119.6V214.4M544.95 119.6V214.4M560.15 119.6V214.4M487.81 201.68H571.46M487.81 184.44H571.46M487.81 167.2H571.46M487.81 149.96H571.46M487.81 132.72H571.46" stroke="#e9e9e9" stroke-width=".6" fill="none"/>
<path d="M491.71 119.6V214.4M506.92 119.6V214.4M522.13 119.6V214.4M537.34 119.6V214.4M552.55 119.6V214.4M567.76 119.6V214.4M487.81 210.3H571.46M487.81 193.06H571.46M487.81 175.82H571.46M487.81 158.58H571.46M487.81 141.34H571.46M487.81 124.1H571.46" stroke="#e7e7e7" stroke-width="1.05" fill="none"/>
<mask id="c9" maskUnits="userSpaceOnUse" x="487.81" y="119.6" width="83.65" height="94.8"><path d="M491.86 210L567.7 210L491.86 123.4z" fill="#fff"/></mask>
<g mask="url(#c9)">
<path d="M491.86 210L567.7 210L491.86 123.4z" fill="#7c0177"/>
<path d="M484.1 218.9L575.4 218.9L484.1 115.6z" fill="#7f0178"/>
<path d="M484.1 218.9L575.3 218.9L484.1 115.6z" fill="#820178"/>
<path d="M484.1 218.9L575.3 218.9L484.1 115.7z" fill="#850178"/>
<path d="M484.1 218.9L575.3 218.9L484.1 115.8z" fill="#880179"/>
<path d="M484.1 218.9L575.3 218.9L484.1 115.8z" fill="#8b0179"/>
<path d="M484.1 218.9L575.3 218.9L484.1 115.9z" fill="#8e017a"/>
<path d="M484.1 218.9L575.3 218.9L484.1 116z" fill="#92017a"/>
<path d="M484.1 218.9L575.2 218.9L484.1 116.1z" fill="#95007b"/>
<path d="M484.1 218.9L575.2 218.9L484.1 116.2z" fill="#98007b"/>
<path d="M484.1 218.9L575.2 218.9L484.1 116.3z" fill="#9b017b"/>
<path d="M484.1 218.9L575.2 218.9L484.1 116.3z" fill="#9e017c"/>
<path d="M484.1 218.9L575.2 218.9L484.1 116.4z" fill="#a1017c"/>
<path d="M484.1 218.9L575.2 218.9L484.1 116.5z" fill="#a4017d"/>
<path d="M484.1 218.9L575.1 218.9L484.1 116.6z" fill="#a7017d"/>
<path d="M484.1 218.9L575.1 218.9L484.1 116.7z" fill="#aa017e"/>
<path d="M484.1 218.9L575.1 218.9L484.1 116.8z" fill="#ad017e"/>
<path d="M484.1 218.9L575.1 218.9L484.1 116.9z" fill="#b0057f"/>
<path d="M484.1 218.9L575.1 218.9L484.1 117z" fill="#b30a81"/>
<path d="M484.1 218.9L575 218.9L484.1 117.1z" fill="#b60e82"/>
<path d="M484.1 218.9L575 218.9L484.1 117.2z" fill="#b91284"/>
<path d="M484.1 218.9L575 218.9L484.1 117.3z" fill="#bb1685"/>
<path d="M484.1 218.9L575 218.9L484.1 117.4z" fill="#be1987"/>
<path d="M484.1 218.9L575 218.9L484.1 117.5z" fill="#c11c88"/>
<path d="M484.1 218.9L574.9 218.9L484.1 117.6z" fill="#c41f8a"/>
<path d="M484.1 218.9L574.9 218.9L484.1 117.8z" fill="#c7218b"/>
<path d="M484.1 218.9L574.9 218.9L484.1 117.9z" fill="#ca248d"/>
<path d="M484.1 218.9L574.9 218.9L484.1 118z" fill="#cc268e"/>
<path d="M484.1 218.9L574.8 218.9L484.1 118.1z" fill="#cf2990"/>
<path d="M484.1 218.9L574.8 218.9L484.1 118.3z" fill="#d22b91"/>
<path d="M484.1 218.9L574.8 218.9L484.1 118.4z" fill="#d52e93"/>
<path d="M484.1 218.9L574.7 218.9L484.1 118.5z" fill="#d83094"/>
<path d="M484.1 218.9L574.7 218.9L484.1 118.7z" fill="#db3296"/>
<path d="M484.1 218.9L574.7 218.9L484.1 118.8z" fill="#dd3597"/>
<path d="M484.1 218.9L574.7 218.9L484.1 119z" fill="#df3898"/>
<path d="M484.1 218.9L574.6 218.9L484.1 119.1z" fill="#e03c98"/>
<path d="M484.1 218.9L574.6 218.9L484.1 119.3z" fill="#e24099"/>
<path d="M484.1 218.9L574.6 218.9L484.1 119.4z" fill="#e4439a"/>
<path d="M484.1 218.9L574.5 218.9L484.1 119.6z" fill="#e5469a"/>
<path d="M484.1 218.9L574.5 218.9L484.1 119.8z" fill="#e7499b"/>
<path d="M484.1 218.9L574.4 218.9L484.1 119.9z" fill="#e84d9b"/>
<path d="M484.1 218.9L574.4 218.9L484.1 120.1z" fill="#ea509c"/>
<path d="M484.1 218.9L574.4 218.9L484.1 120.3z" fill="#eb539d"/>
<path d="M484.1 218.9L574.3 218.9L484.1 120.5z" fill="#ed569d"/>
<path d="M484.1 218.9L574.3 218.9L484.1 120.7z" fill="#ef599e"/>
<path d="M484.1 218.9L574.2 218.9L484.1 120.9z" fill="#f05b9e"/>
<path d="M484.1 218.9L574.2 218.9L484.1 121.1z" fill="#f25e9f"/>
<path d="M484.1 218.9L574.2 218.9L484.1 121.3z" fill="#f361a0"/>
<path d="M484.1 218.9L574.1 218.9L484.1 121.5z" fill="#f564a0"/>
<path d="M484.1 218.9L574.1 218.9L484.1 121.8z" fill="#f667a1"/>
<path d="M484.1 218.9L574 218.9L484.1 122z" fill="#f76aa2"/>
<path d="M484.1 218.9L573.9 218.9L484.1 122.2z" fill="#f76da3"/>
<path d="M484.1 218.9L573.9 218.9L484.1 122.5z" fill="#f871a4"/>
<path d="M484.1 218.9L573.8 218.9L484.1 122.8z" fill="#f875a5"/>
<path d="M484.1 218.9L573.8 218.9L484.1 123z" fill="#f878a6"/>
<path d="M484.1 218.9L573.7 218.9L484.1 123.3z" fill="#f87ba8"/>
<path d="M484.1 218.9L573.6 218.9L484.1 123.6z" fill="#f97fa9"/>
<path d="M484.1 218.9L573.6 218.9L484.1 123.9z" fill="#f982aa"/>
<path d="M484.1 218.9L573.5 218.9L484.1 124.2z" fill="#f985ab"/>
<path d="M484.1 218.9L573.4 218.9L484.1 124.6z" fill="#f989ac"/>
<path d="M484.1 218.9L573.3 218.9L484.1 124.9z" fill="#f98cae"/>
<path d="M484.1 218.9L573.3 218.9L484.1 125.3z" fill="#fa8faf"/>
<path d="M484.1 218.9L573.2 218.9L484.1 125.7z" fill="#fa92b0"/>
<path d="M484.1 218.9L573.1 218.9L484.1 126.1z" fill="#fa95b1"/>
<path d="M484.1 218.9L573 218.9L484.1 126.5z" fill="#fa98b2"/>
<path d="M484.1 218.9L572.9 218.9L484.1 126.9z" fill="#fa9bb4"/>
<path d="M484.1 218.9L572.8 218.9L484.1 127.3z" fill="#fa9eb5"/>
<path d="M484.1 218.9L572.7 218.9L484.1 127.8z" fill="#faa1b6"/>
<path d="M484.1 218.9L572.5 218.9L484.1 128.3z" fill="#faa3b6"/>
<path d="M484.1 218.9L572.4 218.9L484.1 128.8z" fill="#fba6b7"/>
<path d="M484.1 218.9L572.3 218.9L484.1 129.4z" fill="#fba8b8"/>
<path d="M484.1 218.9L572.1 218.9L484.1 130z" fill="#fbaab8"/>
<path d="M484.1 218.9L572 218.9L484.1 130.6z" fill="#fbadb9"/>
<path d="M484.1 218.9L571.8 218.9L484.1 131.2z" fill="#fbafba"/>
<path d="M484.1 218.9L571.6 218.9L484.1 131.9z" fill="#fbb1ba"/>
<path d="M484.1 218.9L571.5 218.9L484.1 132.6z" fill="#fbb3bb"/>
<path d="M484.1 218.9L571.3 218.9L484.1 133.4z" fill="#fbb6bc"/>
<path d="M484.1 218.9L571 218.9L484.1 134.2z" fill="#fcb8bc"/>
<path d="M484.1 218.9L570.8 218.9L484.1 135.1z" fill="#fcbabd"/>
<path d="M484.1 218.9L570.5 218.9L484.1 136z" fill="#fcbcbd"/>
<path d="M484.1 218.9L570.3 218.9L484.1 137z" fill="#fcbfbe"/>
<path d="M484.1 218.9L570 218.9L484.1 138.1z" fill="#fcc1bf"/>
<path d="M484.1 218.9L569.6 218.9L484.1 139.2z" fill="#fcc3bf"/>
<path d="M484.1 218.9L569.3 218.9L484.1 140.5z" fill="#fcc5c0"/>
<path d="M484.1 218.9L568.8 218.9L484.1 141.8z" fill="#fcc8c2"/>
<path d="M484.1 218.9L568.4 218.9L484.1 143.3z" fill="#fccac4"/>
<path d="M484.1 218.9L567.9 218.9L484.1 144.8z" fill="#fdccc6"/>
<path d="M484.1 218.9L567.3 218.9L484.1 146.6z" fill="#fdcfc8"/>
<path d="M484.1 218.9L566.6 218.9L484.1 148.5z" fill="#fdd1ca"/>
<path d="M484.1 218.9L565.9 218.9L484.1 150.6z" fill="#fdd3cc"/>
<path d="M484.1 218.9L565 218.9L484.1 152.9z" fill="#fdd5ce"/>
<path d="M484.1 218.9L564 218.9L484.1 155.6z" fill="#fdd8d1"/>
<path d="M484.1 218.9L562.7 218.9L484.1 158.5z" fill="#fedad3"/>
<path d="M484.1 218.9L561.3 218.9L484.1 161.8z" fill="#fedcd5"/>
<path d="M484.1 218.9L559.4 218.9L484.1 165.6z" fill="#feded7"/>
<path d="M484.1 218.9L557.1 218.9L484.1 170z" fill="#fee1d9"/>
<path d="M484.1 218.9L554 218.9L484.1 175z" fill="#fee3db"/>
<path d="M484.1 218.9L549.8 218.9L484.1 181z" fill="#fee5dd"/>
<path d="M484.1 218.9L543.7 218.9L484.1 188.2z" fill="#fee8df"/>
<path d="M484.1 218.9L534 218.9L484.1 196.8z" fill="#feeae1"/>
</g>
<g mask="url(#c9)" stroke="#000" stroke-width="1" fill="none">
<path d="M567.17 210.3L491.71 126.23"/>
<path d="M566.01 210.3L491.71 130.2" stroke-dasharray="3.2 2.8"/>
<path d="M562.73 210.3L491.71 140.13" stroke-dasharray="1.05 2.1"/>
</g>
<path d="M491.71 214.9v3.1M506.92 214.9v3.1M522.13 214.9v3.1M537.34 214.9v3.1M552.55 214.9v3.1M567.76 214.9v3.1M487.31 210.3h-3.1M487.31 193.06h-3.1M487.31 175.82h-3.1M487.31 158.58h-3.1M487.31 141.34h-3.1M487.31 124.1h-3.1" stroke="#333" stroke-width="1.2" fill="none"/>
<g font-size="5.7" fill="#4d4d4d">
<g text-anchor="middle">
<text x="491.71" y="225">0</text>
<text x="506.92" y="225">20</text>
<text x="522.13" y="225">40</text>
<text x="537.34" y="225">60</text>
<text x="552.55" y="225">80</text>
<text x="567.76" y="225">100</text>
</g><g text-anchor="end">
<text x="482.11" y="212.35">0</text>
<text x="482.11" y="195.11">20</text>
<text x="482.11" y="177.87">40</text>
<text x="482.11" y="160.63">60</text>
<text x="482.11" y="143.39">80</text>
<text x="482.11" y="126.15">100</text>
</g></g>
<rect x="487.81" y="119.6" width="83.65" height="94.8" fill="none" stroke="#333" stroke-width="1.25"/>
</g>
<g>
<path d="M611.86 119.6V214.4M627.07 119.6V214.4M642.27 119.6V214.4M657.49 119.6V214.4M672.69 119.6V214.4M600.35 201.68H684M600.35 184.44H684M600.35 167.2H684M600.35 149.96H684M600.35 132.72H684" stroke="#e9e9e9" stroke-width=".6" fill="none"/>
<path d="M604.25 119.6V214.4M619.46 119.6V214.4M634.67 119.6V214.4M649.88 119.6V214.4M665.09 119.6V214.4M680.3 119.6V214.4M600.35 210.3H684M600.35 193.06H684M600.35 175.82H684M600.35 158.58H684M600.35 141.34H684M600.35 124.1H684" stroke="#e7e7e7" stroke-width="1.05" fill="none"/>
<mask id="c10" maskUnits="userSpaceOnUse" x="600.35" y="119.6" width="83.65" height="94.8"><path d="M604.4 210L680.24 210L604.4 123.4z" fill="#fff"/></mask>
<g mask="url(#c10)">
<path d="M604.4 210L680.24 210L604.4 123.4z" fill="#7c0177"/>
<path d="M596.6 218.9L687.8 218.9L596.6 115.5z" fill="#7f0178"/>
<path d="M596.6 218.9L687.8 218.9L596.6 115.6z" fill="#820178"/>
<path d="M596.6 218.9L687.7 218.9L596.6 115.7z" fill="#850178"/>
<path d="M596.6 218.9L687.7 218.9L596.6 115.7z" fill="#880179"/>
<path d="M596.6 218.9L687.6 218.9L596.6 115.8z" fill="#8b0179"/>
<path d="M596.6 218.9L687.5 218.9L596.6 115.9z" fill="#8e017a"/>
<path d="M596.6 218.9L687.5 218.9L596.6 116z" fill="#92017a"/>
<path d="M596.6 218.9L687.4 218.9L596.6 116z" fill="#95007b"/>
<path d="M596.6 218.9L687.3 218.9L596.6 116.1z" fill="#98007b"/>
<path d="M596.6 218.9L687.3 218.9L596.6 116.2z" fill="#9b017b"/>
<path d="M596.6 218.9L687.2 218.9L596.6 116.3z" fill="#9e017c"/>
<path d="M596.6 218.9L687.1 218.9L596.6 116.4z" fill="#a1017c"/>
<path d="M596.6 218.9L687.1 218.9L596.6 116.4z" fill="#a4017d"/>
<path d="M596.6 218.9L687 218.9L596.6 116.5z" fill="#a7017d"/>
<path d="M596.6 218.9L686.9 218.9L596.6 116.6z" fill="#aa017e"/>
<path d="M596.6 218.9L686.8 218.9L596.6 116.7z" fill="#ad017e"/>
<path d="M596.6 218.9L686.8 218.9L596.6 116.8z" fill="#b0057f"/>
<path d="M596.6 218.9L686.7 218.9L596.6 116.9z" fill="#b30a81"/>
<path d="M596.6 218.9L686.6 218.9L596.6 117z" fill="#b60e82"/>
<path d="M596.6 218.9L686.5 218.9L596.6 117.1z" fill="#b91284"/>
<path d="M596.6 218.9L686.4 218.9L596.6 117.2z" fill="#bb1685"/>
<path d="M596.6 218.9L686.3 218.9L596.6 117.3z" fill="#be1987"/>
<path d="M596.6 218.9L686.2 218.9L596.6 117.4z" fill="#c11c88"/>
<path d="M596.6 218.9L686.1 218.9L596.6 117.5z" fill="#c41f8a"/>
<path d="M596.6 218.9L686.1 218.9L596.6 117.6z" fill="#c7218b"/>
<path d="M596.6 218.9L686 218.9L596.6 117.7z" fill="#ca248d"/>
<path d="M596.6 218.9L685.9 218.9L596.6 117.8z" fill="#cc268e"/>
<path d="M596.6 218.9L685.7 218.9L596.6 117.9z" fill="#cf2990"/>
<path d="M596.6 218.9L685.6 218.9L596.6 118z" fill="#d22b91"/>
<path d="M596.6 218.9L685.5 218.9L596.6 118.2z" fill="#d52e93"/>
<path d="M596.6 218.9L685.4 218.9L596.6 118.3z" fill="#d83094"/>
<path d="M596.6 218.9L685.3 218.9L596.6 118.4z" fill="#db3296"/>
<path d="M596.6 218.9L685.2 218.9L596.6 118.6z" fill="#dd3597"/>
<path d="M596.6 218.9L685.1 218.9L596.6 118.7z" fill="#df3898"/>
<path d="M596.6 218.9L685 218.9L596.6 118.8z" fill="#e03c98"/>
<path d="M596.6 218.9L684.8 218.9L596.6 119z" fill="#e24099"/>
<path d="M596.6 218.9L684.7 218.9L596.6 119.1z" fill="#e4439a"/>
<path d="M596.6 218.9L684.6 218.9L596.6 119.3z" fill="#e5469a"/>
<path d="M596.6 218.9L684.4 218.9L596.6 119.4z" fill="#e7499b"/>
<path d="M596.6 218.9L684.3 218.9L596.6 119.6z" fill="#e84d9b"/>
<path d="M596.6 218.9L684.1 218.9L596.6 119.8z" fill="#ea509c"/>
<path d="M596.6 218.9L684 218.9L596.6 119.9z" fill="#eb539d"/>
<path d="M596.6 218.9L683.8 218.9L596.6 120.1z" fill="#ed569d"/>
<path d="M596.6 218.9L683.7 218.9L596.6 120.3z" fill="#ef599e"/>
<path d="M596.6 218.9L683.5 218.9L596.6 120.5z" fill="#f05b9e"/>
<path d="M596.6 218.9L683.3 218.9L596.6 120.7z" fill="#f25e9f"/>
<path d="M596.6 218.9L683.2 218.9L596.6 120.9z" fill="#f361a0"/>
<path d="M596.6 218.9L683 218.9L596.6 121.1z" fill="#f564a0"/>
<path d="M596.6 218.9L682.8 218.9L596.6 121.3z" fill="#f667a1"/>
<path d="M596.6 218.9L682.6 218.9L596.6 121.5z" fill="#f76aa2"/>
<path d="M596.6 218.9L682.4 218.9L596.6 121.7z" fill="#f76da3"/>
<path d="M596.6 218.9L682.2 218.9L596.6 122z" fill="#f871a4"/>
<path d="M596.6 218.9L682 218.9L596.6 122.2z" fill="#f875a5"/>
<path d="M596.6 218.9L681.8 218.9L596.6 122.5z" fill="#f878a6"/>
<path d="M596.6 218.9L681.5 218.9L596.6 122.7z" fill="#f87ba8"/>
<path d="M596.6 218.9L681.3 218.9L596.6 123z" fill="#f97fa9"/>
<path d="M596.6 218.9L681 218.9L596.6 123.3z" fill="#f982aa"/>
<path d="M596.6 218.9L680.8 218.9L596.6 123.6z" fill="#f985ab"/>
<path d="M596.6 218.9L680.5 218.9L596.6 123.9z" fill="#f989ac"/>
<path d="M596.6 218.9L680.2 218.9L596.6 124.2z" fill="#f98cae"/>
<path d="M596.6 218.9L679.9 218.9L596.6 124.5z" fill="#fa8faf"/>
<path d="M596.6 218.9L679.6 218.9L596.6 124.9z" fill="#fa92b0"/>
<path d="M596.6 218.9L679.3 218.9L596.6 125.2z" fill="#fa95b1"/>
<path d="M596.6 218.9L679 218.9L596.6 125.6z" fill="#fa98b2"/>
<path d="M596.6 218.9L678.6 218.9L596.6 126z" fill="#fa9bb4"/>
<path d="M596.6 218.9L678.2 218.9L596.6 126.4z" fill="#fa9eb5"/>
<path d="M596.6 218.9L677.9 218.9L596.6 126.9z" fill="#faa1b6"/>
<path d="M596.6 218.9L677.5 218.9L596.6 127.3z" fill="#faa3b6"/>
<path d="M596.6 218.9L677 218.9L596.6 127.8z" fill="#fba6b7"/>
<path d="M596.6 218.9L676.6 218.9L596.6 128.3z" fill="#fba8b8"/>
<path d="M596.6 218.9L676.1 218.9L596.6 128.9z" fill="#fbaab8"/>
<path d="M596.6 218.9L675.6 218.9L596.6 129.4z" fill="#fbadb9"/>
<path d="M596.6 218.9L675.1 218.9L596.6 130z" fill="#fbafba"/>
<path d="M596.6 218.9L674.5 218.9L596.6 130.6z" fill="#fbb1ba"/>
<path d="M596.6 218.9L673.9 218.9L596.6 131.3z" fill="#fbb3bb"/>
<path d="M596.6 218.9L673.3 218.9L596.6 132z" fill="#fbb6bc"/>
<path d="M596.6 218.9L672.6 218.9L596.6 132.8z" fill="#fcb8bc"/>
<path d="M596.6 218.9L671.9 218.9L596.6 133.6z" fill="#fcbabd"/>
<path d="M596.6 218.9L671.2 218.9L596.6 134.4z" fill="#fcbcbd"/>
<path d="M596.6 218.9L670.4 218.9L596.6 135.4z" fill="#fcbfbe"/>
<path d="M596.6 218.9L669.5 218.9L596.6 136.4z" fill="#fcc1bf"/>
<path d="M596.6 218.9L668.5 218.9L596.6 137.4z" fill="#fcc3bf"/>
<path d="M596.6 218.9L667.5 218.9L596.6 138.6z" fill="#fcc5c0"/>
<path d="M596.6 218.9L666.4 218.9L596.6 139.8z" fill="#fcc8c2"/>
<path d="M596.6 218.9L665.2 218.9L596.6 141.2z" fill="#fccac4"/>
<path d="M596.6 218.9L663.9 218.9L596.6 142.7z" fill="#fdccc6"/>
<path d="M596.6 218.9L662.5 218.9L596.6 144.3z" fill="#fdcfc8"/>
<path d="M596.6 218.9L660.9 218.9L596.6 146.1z" fill="#fdd1ca"/>
<path d="M596.6 218.9L659.2 218.9L596.6 148z" fill="#fdd3cc"/>
<path d="M596.6 218.9L657.3 218.9L596.6 150.2z" fill="#fdd5ce"/>
<path d="M596.6 218.9L655.1 218.9L596.6 152.7z" fill="#fdd8d1"/>
<path d="M596.6 218.9L652.7 218.9L596.6 155.4z" fill="#fedad3"/>
<path d="M596.6 218.9L649.9 218.9L596.6 158.5z" fill="#fedcd5"/>
<path d="M596.6 218.9L646.8 218.9L596.6 162z" fill="#feded7"/>
<path d="M596.6 218.9L643.2 218.9L596.6 166.1z" fill="#fee1d9"/>
<path d="M596.6 218.9L639 218.9L596.6 170.9z" fill="#fee3db"/>
<path d="M596.6 218.9L634.1 218.9L596.6 176.5z" fill="#fee5dd"/>
<path d="M596.6 218.9L628.1 218.9L596.6 183.2z" fill="#fee8df"/>
<path d="M596.6 218.9L620.9 218.9L596.6 191.4z" fill="#feeae1"/>
</g>
<g mask="url(#c10)" stroke="#000" stroke-width="1" fill="none">
<path d="M678.45 210.3L604.25 126.2"/>
<path d="M674.99 210.3L604.25 130.11" stroke-dasharray="3.2 2.8"/>
<path d="M666.33 210.3L604.25 139.93" stroke-dasharray="1.05 2.1"/>
</g>
<path d="M604.25 214.9v3.1M619.46 214.9v3.1M634.67 214.9v3.1M649.88 214.9v3.1M665.09 214.9v3.1M680.3 214.9v3.1M599.85 210.3h-3.1M599.85 193.06h-3.1M599.85 175.82h-3.1M599.85 158.58h-3.1M599.85 141.34h-3.1M599.85 124.1h-3.1" stroke="#333" stroke-width="1.2" fill="none"/>
<g font-size="5.7" fill="#4d4d4d">
<g text-anchor="middle">
<text x="604.25" y="225">0</text>
<text x="619.46" y="225">20</text>
<text x="634.67" y="225">40</text>
<text x="649.88" y="225">60</text>
<text x="665.09" y="225">80</text>
<text x="680.3" y="225">100</text>
</g><g text-anchor="end">
<text x="594.65" y="212.35">0</text>
<text x="594.65" y="195.11">20</text>
<text x="594.65" y="177.87">40</text>
<text x="594.65" y="160.63">60</text>
<text x="594.65" y="143.39">80</text>
<text x="594.65" y="126.15">100</text>
</g></g>
<rect x="600.35" y="119.6" width="83.65" height="94.8" fill="none" stroke="#333" stroke-width="1.25"/>
</g>
<g>
<path d="M49.15 239.45V334.15M64.36 239.45V334.15M79.57 239.45V334.15M94.78 239.45V334.15M109.99 239.45V334.15M37.65 321.23H121.3M37.65 303.99H121.3M37.65 286.75H121.3M37.65 269.51H121.3M37.65 252.27H121.3" stroke="#e9e9e9" stroke-width=".6" fill="none"/>
<path d="M41.55 239.45V334.15M56.76 239.45V334.15M71.97 239.45V334.15M87.18 239.45V334.15M102.39 239.45V334.15M117.6 239.45V334.15M37.65 329.85H121.3M37.65 312.61H121.3M37.65 295.37H121.3M37.65 278.13H121.3M37.65 260.89H121.3M37.65 243.65H121.3" stroke="#e7e7e7" stroke-width="1.05" fill="none"/>
<mask id="c11" maskUnits="userSpaceOnUse" x="37.65" y="239.45" width="83.65" height="94.7"><path d="M41.7 329.95L117.54 329.95L41.7 243.35z" fill="#fff"/></mask>
<g mask="url(#c11)">
<path d="M41.7 329.95L117.54 329.95L41.7 243.35z" fill="#7c0177"/>
<path d="M40.8 338.5L125.2 338.5L125.2 235L42.8 235z" fill="#7f0178"/>
<path d="M41.9 338.5L125.2 338.5L125.2 235L44 235z" fill="#820178"/>
<path d="M43.1 338.5L125.2 338.5L125.2 235L45.1 235z" fill="#850178"/>
<path d="M44.2 338.5L125.2 338.5L125.2 235L46.2 235z" fill="#880179"/>
<path d="M45.3 338.5L125.2 338.5L125.2 235L47.4 235z" fill="#8b0179"/>
<path d="M46.5 338.5L125.2 338.5L125.2 235L48.5 235z" fill="#8e017a"/>
<path d="M47.6 338.5L125.2 338.5L125.2 235L49.6 235z" fill="#92017a"/>
<path d="M48.7 338.5L125.2 338.5L125.2 235L50.7 235z" fill="#95007b"/>
<path d="M49.8 338.5L125.2 338.5L125.2 235L51.9 235z" fill="#98007b"/>
<path d="M51 338.5L125.2 338.5L125.2 235L53 235z" fill="#9b017b"/>
<path d="M52.1 338.5L125.2 338.5L125.2 235L54.1 235z" fill="#9e017c"/>
<path d="M53.2 338.5L125.2 338.5L125.2 235L55.2 235z" fill="#a1017c"/>
<path d="M54.3 338.5L125.2 338.5L125.2 235L56.4 235z" fill="#a4017d"/>
<path d="M55.5 338.5L125.2 338.5L125.2 235L57.5 235z" fill="#a7017d"/>
<path d="M56.6 338.5L125.2 338.5L125.2 235L58.6 235z" fill="#aa017e"/>
<path d="M57.7 338.5L125.2 338.5L125.2 235L59.7 235z" fill="#ad017e"/>
<path d="M58.8 338.5L125.2 338.5L125.2 235L60.9 235z" fill="#b0057f"/>
<path d="M60 338.5L125.2 338.5L125.2 235L62 235z" fill="#b30a81"/>
<path d="M61.1 338.5L125.2 338.5L125.2 235L63.1 235z" fill="#b60e82"/>
<path d="M62.2 338.5L125.2 338.5L125.2 235L64.3 235z" fill="#b91284"/>
<path d="M63.4 338.5L125.2 338.5L125.2 235L65.4 235z" fill="#bb1685"/>
<path d="M64.5 338.5L125.2 338.5L125.2 235L66.5 235z" fill="#be1987"/>
<path d="M65.6 338.5L125.2 338.5L125.2 235L67.6 235z" fill="#c11c88"/>
<path d="M66.7 338.5L125.2 338.5L125.2 235L68.8 235z" fill="#c41f8a"/>
<path d="M67.9 338.5L125.2 338.5L125.2 235L69.9 235z" fill="#c7218b"/>
<path d="M69 338.5L125.2 338.5L125.2 235L71 235z" fill="#ca248d"/>
<path d="M70.1 338.5L125.2 338.5L125.2 235L72.1 235z" fill="#cc268e"/>
<path d="M71.2 338.5L125.2 338.5L125.2 235L73.3 235z" fill="#cf2990"/>
<path d="M72.4 338.5L125.2 338.5L125.2 235L74.4 235z" fill="#d22b91"/>
<path d="M73.5 338.5L125.2 338.5L125.2 235L75.5 235z" fill="#d52e93"/>
<path d="M74.6 338.5L125.2 338.5L125.2 235L76.6 235z" fill="#d83094"/>
<path d="M75.7 338.5L125.2 338.5L125.2 235L77.8 235z" fill="#db3296"/>
<path d="M76.9 338.5L125.2 338.5L125.2 235L78.9 235z" fill="#dd3597"/>
<path d="M78 338.5L125.2 338.5L125.2 235L80 235z" fill="#df3898"/>
<path d="M79.1 338.5L125.2 338.5L125.2 235L81.2 235z" fill="#e03c98"/>
<path d="M80.3 338.5L125.2 338.5L125.2 235L82.3 235z" fill="#e24099"/>
<path d="M81.4 338.5L125.2 338.5L125.2 235L83.4 235z" fill="#e4439a"/>
<path d="M82.5 338.5L125.2 338.5L125.2 235L84.5 235z" fill="#e5469a"/>
<path d="M83.6 338.5L125.2 338.5L125.2 235L85.7 235z" fill="#e7499b"/>
<path d="M84.8 338.5L125.2 338.5L125.2 235L86.8 235z" fill="#e84d9b"/>
<path d="M85.9 338.5L125.2 338.5L125.2 235L87.9 235z" fill="#ea509c"/>
<path d="M87 338.5L125.2 338.5L125.2 235L89 235z" fill="#eb539d"/>
<path d="M88.1 338.5L125.2 338.5L125.2 235L90.2 235z" fill="#ed569d"/>
<path d="M89.3 338.5L125.2 338.5L125.2 235L91.3 235z" fill="#ef599e"/>
<path d="M90.4 338.5L125.2 338.5L125.2 235L92.4 235z" fill="#f05b9e"/>
<path d="M91.5 338.5L125.2 338.5L125.2 235L93.5 235z" fill="#f25e9f"/>
<path d="M92.6 338.5L125.2 338.5L125.2 235L94.7 235z" fill="#f361a0"/>
<path d="M93.8 338.5L125.2 338.5L125.2 235L95.8 235z" fill="#f564a0"/>
<path d="M94.9 338.5L125.2 338.5L125.2 235L96.9 235z" fill="#f667a1"/>
<path d="M96 338.5L125.2 338.5L125.2 235L98.1 235z" fill="#f76aa2"/>
<path d="M97.2 338.5L125.2 338.5L125.2 235L99.2 235z" fill="#f76da3"/>
<path d="M98.3 338.5L125.2 338.5L125.2 235L100.3 235z" fill="#f871a4"/>
<path d="M99.4 338.5L125.2 338.5L125.2 235L101.4 235z" fill="#f875a5"/>
<path d="M100.5 338.5L125.2 338.5L125.2 235L102.6 235z" fill="#f878a6"/>
<path d="M101.7 338.5L125.2 338.5L125.2 235L103.7 235z" fill="#f87ba8"/>
<path d="M102.8 338.5L125.2 338.5L125.2 235L104.8 235z" fill="#f97fa9"/>
<path d="M103.9 338.5L125.2 338.5L125.2 235L105.9 235z" fill="#f982aa"/>
<path d="M105 338.5L125.2 338.5L125.2 235L107.1 235z" fill="#f985ab"/>
<path d="M106.2 338.5L125.2 338.5L125.2 235L108.2 235z" fill="#f989ac"/>
<path d="M107.3 338.5L125.2 338.5L125.2 235L109.3 235z" fill="#f98cae"/>
<path d="M108.4 338.5L125.2 338.5L125.2 235L110.4 235z" fill="#fa8faf"/>
<path d="M109.5 338.5L125.2 338.5L125.2 235L111.6 235z" fill="#fa92b0"/>
<path d="M110.7 338.5L125.2 338.5L125.2 235L112.7 235z" fill="#fa95b1"/>
<path d="M111.8 338.5L125.2 338.5L125.2 235L113.8 235z" fill="#fa98b2"/>
<path d="M112.9 338.5L125.2 338.5L125.2 235L115 235z" fill="#fa9bb4"/>
<path d="M114.1 338.5L125.2 338.5L125.2 235L116.1 235z" fill="#fa9eb5"/>
<path d="M115.2 338.5L125.2 338.5L125.2 235L117.2 235z" fill="#faa1b6"/>
<path d="M116.3 338.5L125.2 338.5L125.2 235L118.3 235z" fill="#faa3b6"/>
</g>
<g mask="url(#c11)" stroke="#000" stroke-width="1" fill="none">
<path d="M68.03 329.85L69.1 274.88"/>
<path d="M96.19 329.85L96.66 306.11" stroke-dasharray="3.2 2.8"/>
</g>
<path d="M41.55 334.65v3.1M56.76 334.65v3.1M71.97 334.65v3.1M87.18 334.65v3.1M102.39 334.65v3.1M117.6 334.65v3.1M37.15 329.85h-3.1M37.15 312.61h-3.1M37.15 295.37h-3.1M37.15 278.13h-3.1M37.15 260.89h-3.1M37.15 243.65h-3.1" stroke="#333" stroke-width="1.2" fill="none"/>
<g font-size="5.7" fill="#4d4d4d">
<g text-anchor="middle">
<text x="41.55" y="344.75">0</text>
<text x="56.76" y="344.75">20</text>
<text x="71.97" y="344.75">40</text>
<text x="87.18" y="344.75">60</text>
<text x="102.39" y="344.75">80</text>
<text x="117.6" y="344.75">100</text>
</g><g text-anchor="end">
<text x="31.95" y="331.9">0</text>
<text x="31.95" y="314.66">20</text>
<text x="31.95" y="297.42">40</text>
<text x="31.95" y="280.18">60</text>
<text x="31.95" y="262.94">80</text>
<text x="31.95" y="245.7">100</text>
</g></g>
<rect x="98.59" y="246.33" width="18.6" height="22.75" fill="#fff"/>
<rect x="98.59" y="272.28" width="22.71" height="37.2" fill="#fff"/>
<g stroke="#000" stroke-width=".9">
<path d="M99.89 254.63h4.2"/>
<path d="M99.89 260.21h4.2" stroke-dasharray="3 3"/>
<path d="M99.89 265.79h4.2" stroke-dasharray=".8 2.3"/>
</g>
<g font-size="5.8">
<text x="108.19" y="256.73">25</text>
<text x="108.19" y="262.31">50</text>
<text x="108.19" y="267.89">75</text>
<text x="99.79" y="277.78" font-size="5.9">p(T+)</text>
<text x="108.39" y="284.28">100</text>
<text x="108.39" y="290.63">75</text>
<text x="108.39" y="296.98">50</text>
<text x="108.39" y="303.33">25</text>
<text x="108.39" y="309.68">0</text>
</g>
<rect x="99.59" y="282.18" width="5" height="1.32" fill="#fee6de"/>
<rect x="99.59" y="283.2" width="5" height="1.32" fill="#feddd6"/>
<rect x="99.59" y="284.21" width="5" height="1.32" fill="#fdd4cd"/>
<rect x="99.59" y="285.23" width="5" height="1.32" fill="#fdcbc5"/>
<rect x="99.59" y="286.24" width="5" height="1.32" fill="#fcc2bf"/>
<rect x="99.59" y="287.26" width="5" height="1.32" fill="#fcb9bc"/>
<rect x="99.59" y="288.28" width="5" height="1.32" fill="#fbb0ba"/>
<rect x="99.59" y="289.29" width="5" height="1.32" fill="#fba7b7"/>
<rect x="99.59" y="290.31" width="5" height="1.32" fill="#fa9db4"/>
<rect x="99.59" y="291.32" width="5" height="1.32" fill="#fa91af"/>
<rect x="99.59" y="292.34" width="5" height="1.32" fill="#f984ab"/>
<rect x="99.59" y="293.36" width="5" height="1.32" fill="#f876a6"/>
<rect x="99.59" y="294.37" width="5" height="1.32" fill="#f768a1"/>
<rect x="99.59" y="295.39" width="5" height="1.32" fill="#f15d9f"/>
<rect x="99.59" y="296.4" width="5" height="1.32" fill="#eb519c"/>
<rect x="99.59" y="297.42" width="5" height="1.32" fill="#e4459a"/>
<rect x="99.59" y="298.44" width="5" height="1.32" fill="#de3797"/>
<rect x="99.59" y="299.45" width="5" height="1.32" fill="#d32c92"/>
<rect x="99.59" y="300.47" width="5" height="1.32" fill="#c8238c"/>
<rect x="99.59" y="301.48" width="5" height="1.32" fill="#bd1786"/>
<rect x="99.59" y="302.5" width="5" height="1.32" fill="#b20780"/>
<rect x="99.59" y="303.52" width="5" height="1.32" fill="#a6017d"/>
<rect x="99.59" y="304.53" width="5" height="1.32" fill="#99017b"/>
<rect x="99.59" y="305.55" width="5" height="1.32" fill="#8d017a"/>
<rect x="99.59" y="306.56" width="5" height="1.02" fill="#800178"/>
<path d="M99.59 288.53h1M103.59 288.53h1M99.59 294.88h1M103.59 294.88h1M99.59 301.23h1M103.59 301.23h1" stroke="#fff" stroke-width=".6"/>
<rect x="37.65" y="239.45" width="83.65" height="94.7" fill="none" stroke="#333" stroke-width="1.25"/>
</g>
<g>
<path d="M161.69 239.45V334.15M176.91 239.45V334.15M192.12 239.45V334.15M207.32 239.45V334.15M222.53 239.45V334.15M150.19 321.23H233.84M150.19 303.99H233.84M150.19 286.75H233.84M150.19 269.51H233.84M150.19 252.27H233.84" stroke="#e9e9e9" stroke-width=".6" fill="none"/>
<path d="M154.09 239.45V334.15M169.3 239.45V334.15M184.51 239.45V334.15M199.72 239.45V334.15M214.93 239.45V334.15M230.14 239.45V334.15M150.19 329.85H233.84M150.19 312.61H233.84M150.19 295.37H233.84M150.19 278.13H233.84M150.19 260.89H233.84M150.19 243.65H233.84" stroke="#e7e7e7" stroke-width="1.05" fill="none"/>
<mask id="c12" maskUnits="userSpaceOnUse" x="150.19" y="239.45" width="83.65" height="94.7"><path d="M154.24 329.95L230.08 329.95L154.24 243.35z" fill="#fff"/></mask>
<g mask="url(#c12)">
<path d="M154.24 329.95L230.08 329.95L154.24 243.35z" fill="#7c0177"/>
<path d="M154.3 338.5L237.7 338.5L237.7 235L155.3 235z" fill="#7f0178"/>
<path d="M155.5 338.5L237.7 338.5L237.7 235L156.5 235z" fill="#820178"/>
<path d="M156.6 338.5L237.7 338.5L237.7 235L157.7 235z" fill="#850178"/>
<path d="M157.8 338.5L237.7 338.5L237.7 235L158.8 235z" fill="#880179"/>
<path d="M158.9 338.5L237.7 338.5L237.7 235L160 235z" fill="#8b0179"/>
<path d="M160.1 338.5L237.7 338.5L237.7 235L161.1 235z" fill="#8e017a"/>
<path d="M161.2 338.5L237.7 338.5L237.7 235L162.3 235z" fill="#92017a"/>
<path d="M162.4 338.5L237.7 338.5L237.7 235L163.4 235z" fill="#95007b"/>
<path d="M163.6 338.5L237.7 338.5L237.7 235L164.6 235z" fill="#98007b"/>
<path d="M164.7 338.5L237.7 338.5L237.7 235L165.8 235z" fill="#9b017b"/>
<path d="M165.9 338.5L237.7 338.5L237.7 235L166.9 235z" fill="#9e017c"/>
<path d="M167 338.5L237.7 338.5L237.7 235L168.1 235z" fill="#a1017c"/>
<path d="M168.2 338.5L237.7 338.5L237.7 235L169.2 235z" fill="#a4017d"/>
<path d="M169.3 338.5L237.7 338.5L237.7 235L170.4 235z" fill="#a7017d"/>
<path d="M170.5 338.5L237.7 338.5L237.7 235L171.5 235z" fill="#aa017e"/>
<path d="M171.7 338.5L237.7 338.5L237.7 235L172.7 235z" fill="#ad017e"/>
<path d="M172.8 338.5L237.7 338.5L237.7 235L173.9 235z" fill="#b0057f"/>
<path d="M174 338.5L237.7 338.5L237.7 235L175 235z" fill="#b30a81"/>
<path d="M175.1 338.5L237.7 338.5L237.7 235L176.2 235z" fill="#b60e82"/>
<path d="M176.3 338.5L237.7 338.5L237.7 235L177.3 235z" fill="#b91284"/>
<path d="M177.5 338.5L237.7 338.5L237.7 235L178.5 235z" fill="#bb1685"/>
<path d="M178.6 338.5L237.7 338.5L237.7 235L179.7 235z" fill="#be1987"/>
<path d="M179.8 338.5L237.7 338.5L237.7 235L180.8 235z" fill="#c11c88"/>
<path d="M180.9 338.5L237.7 338.5L237.7 235L182 235z" fill="#c41f8a"/>
<path d="M182.1 338.5L237.7 338.5L237.7 235L183.1 235z" fill="#c7218b"/>
<path d="M183.2 338.5L237.7 338.5L237.7 235L184.3 235z" fill="#ca248d"/>
<path d="M184.4 338.5L237.7 338.5L237.7 235L185.4 235z" fill="#cc268e"/>
<path d="M185.6 338.5L237.7 338.5L237.7 235L186.6 235z" fill="#cf2990"/>
<path d="M186.7 338.5L237.7 338.5L237.7 235L187.8 235z" fill="#d22b91"/>
<path d="M187.9 338.5L237.7 338.5L237.7 235L188.9 235z" fill="#d52e93"/>
<path d="M189 338.5L237.7 338.5L237.7 235L190.1 235z" fill="#d83094"/>
<path d="M190.2 338.5L237.7 338.5L237.7 235L191.2 235z" fill="#db3296"/>
<path d="M191.4 338.5L237.7 338.5L237.7 235L192.4 235z" fill="#dd3597"/>
<path d="M192.5 338.5L237.7 338.5L237.7 235L193.6 235z" fill="#df3898"/>
<path d="M193.7 338.5L237.7 338.5L237.7 235L194.7 235z" fill="#e03c98"/>
<path d="M194.8 338.5L237.7 338.5L237.7 235L195.9 235z" fill="#e24099"/>
<path d="M196 338.5L237.7 338.5L237.7 235L197 235z" fill="#e4439a"/>
<path d="M197.1 338.5L237.7 338.5L237.7 235L198.2 235z" fill="#e5469a"/>
<path d="M198.3 338.5L237.7 338.5L237.7 235L199.3 235z" fill="#e7499b"/>
<path d="M199.5 338.5L237.7 338.5L237.7 235L200.5 235z" fill="#e84d9b"/>
<path d="M200.6 338.5L237.7 338.5L237.7 235L201.7 235z" fill="#ea509c"/>
<path d="M201.8 338.5L237.7 338.5L237.7 235L202.8 235z" fill="#eb539d"/>
<path d="M202.9 338.5L237.7 338.5L237.7 235L204 235z" fill="#ed569d"/>
<path d="M204.1 338.5L237.7 338.5L237.7 235L205.1 235z" fill="#ef599e"/>
<path d="M205.3 338.5L237.7 338.5L237.7 235L206.3 235z" fill="#f05b9e"/>
<path d="M206.4 338.5L237.7 338.5L237.7 235L207.5 235z" fill="#f25e9f"/>
<path d="M207.6 338.5L237.7 338.5L237.7 235L208.6 235z" fill="#f361a0"/>
<path d="M208.7 338.5L237.7 338.5L237.7 235L209.8 235z" fill="#f564a0"/>
<path d="M209.9 338.5L237.7 338.5L237.7 235L210.9 235z" fill="#f667a1"/>
<path d="M211 338.5L237.7 338.5L237.7 235L212.1 235z" fill="#f76aa2"/>
<path d="M212.2 338.5L237.7 338.5L237.7 235L213.2 235z" fill="#f76da3"/>
<path d="M213.4 338.5L237.7 338.5L237.7 235L214.4 235z" fill="#f871a4"/>
<path d="M214.5 338.5L237.7 338.5L237.7 235L215.6 235z" fill="#f875a5"/>
<path d="M215.7 338.5L237.7 338.5L237.7 235L216.7 235z" fill="#f878a6"/>
<path d="M216.8 338.5L237.7 338.5L237.7 235L217.9 235z" fill="#f87ba8"/>
<path d="M218 338.5L237.7 338.5L237.7 235L219 235z" fill="#f97fa9"/>
<path d="M219.2 338.5L237.7 338.5L237.7 235L220.2 235z" fill="#f982aa"/>
<path d="M220.3 338.5L237.7 338.5L237.7 235L221.4 235z" fill="#f985ab"/>
<path d="M221.5 338.5L237.7 338.5L237.7 235L222.5 235z" fill="#f989ac"/>
<path d="M222.6 338.5L237.7 338.5L237.7 235L223.7 235z" fill="#f98cae"/>
<path d="M223.8 338.5L237.7 338.5L237.7 235L224.8 235z" fill="#fa8faf"/>
<path d="M224.9 338.5L237.7 338.5L237.7 235L226 235z" fill="#fa92b0"/>
<path d="M226.1 338.5L237.7 338.5L237.7 235L227.1 235z" fill="#fa95b1"/>
<path d="M227.3 338.5L237.7 338.5L237.7 235L228.3 235z" fill="#fa98b2"/>
<path d="M228.4 338.5L237.7 338.5L237.7 235L229.5 235z" fill="#fa9bb4"/>
<path d="M229.6 338.5L237.7 338.5L237.7 235L230.6 235z" fill="#fa9eb5"/>
</g>
<g mask="url(#c12)" stroke="#000" stroke-width="1" fill="none">
<path d="M182.18 329.85L182.72 276.1"/>
<path d="M211.13 329.85L211.35 308.55" stroke-dasharray="3.2 2.8"/>
</g>
<path d="M154.09 334.65v3.1M169.3 334.65v3.1M184.51 334.65v3.1M199.72 334.65v3.1M214.93 334.65v3.1M230.14 334.65v3.1M149.69 329.85h-3.1M149.69 312.61h-3.1M149.69 295.37h-3.1M149.69 278.13h-3.1M149.69 260.89h-3.1M149.69 243.65h-3.1" stroke="#333" stroke-width="1.2" fill="none"/>
<g font-size="5.7" fill="#4d4d4d">
<g text-anchor="middle">
<text x="154.09" y="344.75">0</text>
<text x="169.3" y="344.75">20</text>
<text x="184.51" y="344.75">40</text>
<text x="199.72" y="344.75">60</text>
<text x="214.93" y="344.75">80</text>
<text x="230.14" y="344.75">100</text>
</g><g text-anchor="end">
<text x="144.49" y="331.9">0</text>
<text x="144.49" y="314.66">20</text>
<text x="144.49" y="297.42">40</text>
<text x="144.49" y="280.18">60</text>
<text x="144.49" y="262.94">80</text>
<text x="144.49" y="245.7">100</text>
</g></g>
<rect x="150.19" y="239.45" width="83.65" height="94.7" fill="none" stroke="#333" stroke-width="1.25"/>
</g>
<g>
<path d="M274.24 239.45V334.15M289.44 239.45V334.15M304.65 239.45V334.15M319.87 239.45V334.15M335.07 239.45V334.15M262.73 321.23H346.38M262.73 303.99H346.38M262.73 286.75H346.38M262.73 269.51H346.38M262.73 252.27H346.38" stroke="#e9e9e9" stroke-width=".6" fill="none"/>
<path d="M266.63 239.45V334.15M281.84 239.45V334.15M297.05 239.45V334.15M312.26 239.45V334.15M327.47 239.45V334.15M342.68 239.45V334.15M262.73 329.85H346.38M262.73 312.61H346.38M262.73 295.37H346.38M262.73 278.13H346.38M262.73 260.89H346.38M262.73 243.65H346.38" stroke="#e7e7e7" stroke-width="1.05" fill="none"/>
<mask id="c13" maskUnits="userSpaceOnUse" x="262.73" y="239.45" width="83.65" height="94.7"><path d="M266.78 329.95L342.62 329.95L266.78 243.35z" fill="#fff"/></mask>
<g mask="url(#c13)">
<path d="M266.78 329.95L342.62 329.95L266.78 243.35z" fill="#7c0177"/>
<path d="M267.8 338.5L350.3 338.5L350.3 235L267.8 235z" fill="#7f0178"/>
<path d="M269 338.5L350.3 338.5L350.3 235L269 235z" fill="#820178"/>
<path d="M270.2 338.5L350.3 338.5L350.3 235L270.2 235z" fill="#850178"/>
<path d="M271.4 338.5L350.3 338.5L350.3 235L271.4 235z" fill="#880179"/>
<path d="M272.6 338.5L350.3 338.5L350.3 235L272.6 235z" fill="#8b0179"/>
<path d="M273.8 338.5L350.3 338.5L350.3 235L273.8 235z" fill="#8e017a"/>
<path d="M275 338.5L350.3 338.5L350.3 235L275 235z" fill="#92017a"/>
<path d="M276.2 338.5L350.3 338.5L350.3 235L276.2 235z" fill="#95007b"/>
<path d="M277.4 338.5L350.3 338.5L350.3 235L277.4 235z" fill="#98007b"/>
<path d="M278.5 338.5L350.3 338.5L350.3 235L278.5 235z" fill="#9b017b"/>
<path d="M279.7 338.5L350.3 338.5L350.3 235L279.7 235z" fill="#9e017c"/>
<path d="M280.9 338.5L350.3 338.5L350.3 235L280.9 235z" fill="#a1017c"/>
<path d="M282.1 338.5L350.3 338.5L350.3 235L282.1 235z" fill="#a4017d"/>
<path d="M283.3 338.5L350.3 338.5L350.3 235L283.3 235z" fill="#a7017d"/>
<path d="M284.5 338.5L350.3 338.5L350.3 235L284.5 235z" fill="#aa017e"/>
<path d="M285.7 338.5L350.3 338.5L350.3 235L285.7 235z" fill="#ad017e"/>
<path d="M286.9 338.5L350.3 338.5L350.3 235L286.9 235z" fill="#b0057f"/>
<path d="M288.1 338.5L350.3 338.5L350.3 235L288.1 235z" fill="#b30a81"/>
<path d="M289.3 338.5L350.3 338.5L350.3 235L289.3 235z" fill="#b60e82"/>
<path d="M290.5 338.5L350.3 338.5L350.3 235L290.5 235z" fill="#b91284"/>
<path d="M291.7 338.5L350.3 338.5L350.3 235L291.7 235z" fill="#bb1685"/>
<path d="M292.8 338.5L350.3 338.5L350.3 235L292.8 235z" fill="#be1987"/>
<path d="M294 338.5L350.3 338.5L350.3 235L294 235z" fill="#c11c88"/>
<path d="M295.2 338.5L350.3 338.5L350.3 235L295.2 235z" fill="#c41f8a"/>
<path d="M296.4 338.5L350.3 338.5L350.3 235L296.4 235z" fill="#c7218b"/>
<path d="M297.6 338.5L350.3 338.5L350.3 235L297.6 235z" fill="#ca248d"/>
<path d="M298.8 338.5L350.3 338.5L350.3 235L298.8 235z" fill="#cc268e"/>
<path d="M300 338.5L350.3 338.5L350.3 235L300 235z" fill="#cf2990"/>
<path d="M301.2 338.5L350.3 338.5L350.3 235L301.2 235z" fill="#d22b91"/>
<path d="M302.4 338.5L350.3 338.5L350.3 235L302.4 235z" fill="#d52e93"/>
<path d="M303.6 338.5L350.3 338.5L350.3 235L303.6 235z" fill="#d83094"/>
<path d="M304.8 338.5L350.3 338.5L350.3 235L304.8 235z" fill="#db3296"/>
<path d="M306 338.5L350.3 338.5L350.3 235L306 235z" fill="#dd3597"/>
<path d="M307.1 338.5L350.3 338.5L350.3 235L307.1 235z" fill="#df3898"/>
<path d="M308.3 338.5L350.3 338.5L350.3 235L308.3 235z" fill="#e03c98"/>
<path d="M309.5 338.5L350.3 338.5L350.3 235L309.5 235z" fill="#e24099"/>
<path d="M310.7 338.5L350.3 338.5L350.3 235L310.7 235z" fill="#e4439a"/>
<path d="M311.9 338.5L350.3 338.5L350.3 235L311.9 235z" fill="#e5469a"/>
<path d="M313.1 338.5L350.3 338.5L350.3 235L313.1 235z" fill="#e7499b"/>
<path d="M314.3 338.5L350.3 338.5L350.3 235L314.3 235z" fill="#e84d9b"/>
<path d="M315.5 338.5L350.3 338.5L350.3 235L315.5 235z" fill="#ea509c"/>
<path d="M316.7 338.5L350.3 338.5L350.3 235L316.7 235z" fill="#eb539d"/>
<path d="M317.9 338.5L350.3 338.5L350.3 235L317.9 235z" fill="#ed569d"/>
<path d="M319.1 338.5L350.3 338.5L350.3 235L319.1 235z" fill="#ef599e"/>
<path d="M320.2 338.5L350.3 338.5L350.3 235L320.2 235z" fill="#f05b9e"/>
<path d="M321.4 338.5L350.3 338.5L350.3 235L321.4 235z" fill="#f25e9f"/>
<path d="M322.6 338.5L350.3 338.5L350.3 235L322.6 235z" fill="#f361a0"/>
<path d="M323.8 338.5L350.3 338.5L350.3 235L323.8 235z" fill="#f564a0"/>
<path d="M325 338.5L350.3 338.5L350.3 235L325 235z" fill="#f667a1"/>
<path d="M326.2 338.5L350.3 338.5L350.3 235L326.2 235z" fill="#f76aa2"/>
<path d="M327.4 338.5L350.3 338.5L350.3 235L327.4 235z" fill="#f76da3"/>
<path d="M328.6 338.5L350.3 338.5L350.3 235L328.6 235z" fill="#f871a4"/>
<path d="M329.8 338.5L350.3 338.5L350.3 235L329.8 235z" fill="#f875a5"/>
<path d="M331 338.5L350.3 338.5L350.3 235L331 235z" fill="#f878a6"/>
<path d="M332.2 338.5L350.3 338.5L350.3 235L332.2 235z" fill="#f87ba8"/>
<path d="M333.4 338.5L350.3 338.5L350.3 235L333.4 235z" fill="#f97fa9"/>
<path d="M334.5 338.5L350.3 338.5L350.3 235L334.5 235z" fill="#f982aa"/>
<path d="M335.7 338.5L350.3 338.5L350.3 235L335.7 235z" fill="#f985ab"/>
<path d="M336.9 338.5L350.3 338.5L350.3 235L336.9 235z" fill="#f989ac"/>
<path d="M338.1 338.5L350.3 338.5L350.3 235L338.1 235z" fill="#f98cae"/>
<path d="M339.3 338.5L350.3 338.5L350.3 235L339.3 235z" fill="#fa8faf"/>
<path d="M340.5 338.5L350.3 338.5L350.3 235L340.5 235z" fill="#fa92b0"/>
<path d="M341.7 338.5L350.3 338.5L350.3 235L341.7 235z" fill="#fa95b1"/>
</g>
<g mask="url(#c13)" stroke="#000" stroke-width="1" fill="none">
<path d="M296.42 329.85L296.42 277.41"/>
<path d="M326.21 329.85L326.21 311.18" stroke-dasharray="3.2 2.8"/>
</g>
<path d="M266.63 334.65v3.1M281.84 334.65v3.1M297.05 334.65v3.1M312.26 334.65v3.1M327.47 334.65v3.1M342.68 334.65v3.1M262.23 329.85h-3.1M262.23 312.61h-3.1M262.23 295.37h-3.1M262.23 278.13h-3.1M262.23 260.89h-3.1M262.23 243.65h-3.1" stroke="#333" stroke-width="1.2" fill="none"/>
<g font-size="5.7" fill="#4d4d4d">
<g text-anchor="middle">
<text x="266.63" y="344.75">0</text>
<text x="281.84" y="344.75">20</text>
<text x="297.05" y="344.75">40</text>
<text x="312.26" y="344.75">60</text>
<text x="327.47" y="344.75">80</text>
<text x="342.68" y="344.75">100</text>
</g><g text-anchor="end">
<text x="257.03" y="331.9">0</text>
<text x="257.03" y="314.66">20</text>
<text x="257.03" y="297.42">40</text>
<text x="257.03" y="280.18">60</text>
<text x="257.03" y="262.94">80</text>
<text x="257.03" y="245.7">100</text>
</g></g>
<rect x="262.73" y="239.45" width="83.65" height="94.7" fill="none" stroke="#333" stroke-width="1.25"/>
</g>
<g>
<path d="M386.78 239.45V334.15M401.99 239.45V334.15M417.19 239.45V334.15M432.41 239.45V334.15M447.62 239.45V334.15M375.27 321.23H458.92M375.27 303.99H458.92M375.27 286.75H458.92M375.27 269.51H458.92M375.27 252.27H458.92" stroke="#e9e9e9" stroke-width=".6" fill="none"/>
<path d="M379.17 239.45V334.15M394.38 239.45V334.15M409.59 239.45V334.15M424.8 239.45V334.15M440.01 239.45V334.15M455.22 239.45V334.15M375.27 329.85H458.92M375.27 312.61H458.92M375.27 295.37H458.92M375.27 278.13H458.92M375.27 260.89H458.92M375.27 243.65H458.92" stroke="#e7e7e7" stroke-width="1.05" fill="none"/>
<mask id="c14" maskUnits="userSpaceOnUse" x="375.27" y="239.45" width="83.65" height="94.7"><path d="M379.32 329.95L455.16 329.95L379.32 243.35z" fill="#fff"/></mask>
<g mask="url(#c14)">
<path d="M379.32 329.95L455.16 329.95L379.32 243.35z" fill="#7f0178"/>
<path d="M383.8 338.5L462.8 338.5L462.8 235L371.6 235L371.6 313.1z" fill="#820178"/>
<path d="M384.7 338.5L462.8 338.5L462.8 235L371.6 235L371.6 311.2z" fill="#850178"/>
<path d="M385.7 338.5L462.8 338.5L462.8 235L371.6 235L371.6 309.3z" fill="#880179"/>
<path d="M386.6 338.5L462.8 338.5L462.8 235L371.6 235L371.6 307.3z" fill="#8b0179"/>
<path d="M387.5 338.5L462.8 338.5L462.8 235L371.6 235L371.6 305.4z" fill="#8e017a"/>
<path d="M388.4 338.5L462.8 338.5L462.8 235L371.6 235L371.6 303.5z" fill="#92017a"/>
<path d="M389.4 338.5L462.8 338.5L462.8 235L371.6 235L371.6 301.6z" fill="#95007b"/>
<path d="M390.3 338.5L462.8 338.5L462.8 235L371.6 235L371.6 299.6z" fill="#98007b"/>
<path d="M391.2 338.5L462.8 338.5L462.8 235L371.6 235L371.6 297.7z" fill="#9b017b"/>
<path d="M392.2 338.5L462.8 338.5L462.8 235L371.6 235L371.6 295.8z" fill="#9e017c"/>
<path d="M393.1 338.5L462.8 338.5L462.8 235L371.6 235L371.6 293.9z" fill="#a1017c"/>
<path d="M394 338.5L462.8 338.5L462.8 235L371.6 235L371.6 291.9z" fill="#a4017d"/>
<path d="M394.9 338.5L462.8 338.5L462.8 235L371.6 235L371.6 290z" fill="#a7017d"/>
<path d="M395.9 338.5L462.8 338.5L462.8 235L371.6 235L371.6 288.1z" fill="#aa017e"/>
<path d="M396.8 338.5L462.8 338.5L462.8 235L371.6 235L371.6 286.2z" fill="#ad017e"/>
<path d="M397.7 338.5L462.8 338.5L462.8 235L371.6 235L371.6 284.2z" fill="#b0057f"/>
<path d="M398.7 338.5L462.8 338.5L462.8 235L371.6 235L371.6 282.3z" fill="#b30a81"/>
<path d="M399.6 338.5L462.8 338.5L462.8 235L371.6 235L371.6 280.4z" fill="#b60e82"/>
<path d="M400.5 338.5L462.8 338.5L462.8 235L371.6 235L371.6 278.5z" fill="#b91284"/>
<path d="M401.4 338.5L462.8 338.5L462.8 235L371.6 235L371.6 276.5z" fill="#bb1685"/>
<path d="M402.4 338.5L462.8 338.5L462.8 235L371.6 235L371.6 274.6z" fill="#be1987"/>
<path d="M403.3 338.5L462.8 338.5L462.8 235L371.6 235L371.6 272.7z" fill="#c11c88"/>
<path d="M404.2 338.5L462.8 338.5L462.8 235L371.6 235L371.6 270.7z" fill="#c41f8a"/>
<path d="M405.2 338.5L462.8 338.5L462.8 235L371.6 235L371.6 268.8z" fill="#c7218b"/>
<path d="M406.1 338.5L462.8 338.5L462.8 235L371.6 235L371.6 266.9z" fill="#ca248d"/>
<path d="M407 338.5L462.8 338.5L462.8 235L371.6 235L371.6 265z" fill="#cc268e"/>
<path d="M408 338.5L462.8 338.5L462.8 235L371.6 235L371.6 263z" fill="#cf2990"/>
<path d="M408.9 338.5L462.8 338.5L462.8 235L371.6 235L371.6 261.1z" fill="#d22b91"/>
<path d="M409.8 338.5L462.8 338.5L462.8 235L371.6 235L371.6 259.2z" fill="#d52e93"/>
<path d="M410.7 338.5L462.8 338.5L462.8 235L371.6 235L371.6 257.3z" fill="#d83094"/>
<path d="M411.7 338.5L462.8 338.5L462.8 235L371.6 235L371.6 255.3z" fill="#db3296"/>
<path d="M412.6 338.5L462.8 338.5L462.8 235L371.6 235L371.6 253.4z" fill="#dd3597"/>
<path d="M413.5 338.5L462.8 338.5L462.8 235L371.6 235L371.6 251.5z" fill="#df3898"/>
<path d="M414.5 338.5L462.8 338.5L462.8 235L371.6 235L371.6 249.6z" fill="#e03c98"/>
<path d="M415.4 338.5L462.8 338.5L462.8 235L371.6 235L371.6 247.6z" fill="#e24099"/>
<path d="M416.3 338.5L462.8 338.5L462.8 235L371.6 235L371.6 245.7z" fill="#e4439a"/>
<path d="M417.2 338.5L462.8 338.5L462.8 235L371.6 235L371.6 243.8z" fill="#e5469a"/>
<path d="M418.2 338.5L462.8 338.5L462.8 235L371.6 235L371.6 241.9z" fill="#e7499b"/>
<path d="M419.1 338.5L462.8 338.5L462.8 235L371.6 235L371.6 239.9z" fill="#e84d9b"/>
<path d="M420 338.5L462.8 338.5L462.8 235L371.6 235L371.6 238z" fill="#ea509c"/>
<path d="M421 338.5L462.8 338.5L462.8 235L371.6 235L371.6 236.1z" fill="#eb539d"/>
<path d="M421.9 338.5L462.8 338.5L462.8 235L372 235z" fill="#ed569d"/>
<path d="M422.8 338.5L462.8 338.5L462.8 235L372.9 235z" fill="#ef599e"/>
<path d="M423.8 338.5L462.8 338.5L462.8 235L373.8 235z" fill="#f05b9e"/>
<path d="M424.7 338.5L462.8 338.5L462.8 235L374.8 235z" fill="#f25e9f"/>
<path d="M425.6 338.5L462.8 338.5L462.8 235L375.7 235z" fill="#f361a0"/>
<path d="M426.5 338.5L462.8 338.5L462.8 235L376.6 235z" fill="#f564a0"/>
<path d="M427.5 338.5L462.8 338.5L462.8 235L377.6 235z" fill="#f667a1"/>
<path d="M428.4 338.5L462.8 338.5L462.8 235L378.5 235z" fill="#f76aa2"/>
<path d="M429.3 338.5L462.8 338.5L462.8 235L379.4 235z" fill="#f76da3"/>
<path d="M430.3 338.5L462.8 338.5L462.8 235L380.4 235z" fill="#f871a4"/>
<path d="M431.2 338.5L462.8 338.5L462.8 235L381.3 235z" fill="#f875a5"/>
<path d="M432.1 338.5L462.8 338.5L462.8 235L382.2 235z" fill="#f878a6"/>
<path d="M433 338.5L462.8 338.5L462.8 235L383.1 235z" fill="#f87ba8"/>
<path d="M434 338.5L462.8 338.5L462.8 235L384.1 235z" fill="#f97fa9"/>
<path d="M434.9 338.5L462.8 338.5L462.8 235L385 235z" fill="#f982aa"/>
<path d="M435.8 338.5L462.8 338.5L462.8 235L385.9 235z" fill="#f985ab"/>
<path d="M436.8 338.5L462.8 338.5L462.8 235L386.9 235z" fill="#f989ac"/>
<path d="M437.7 338.5L462.8 338.5L462.8 235L387.8 235z" fill="#f98cae"/>
<path d="M438.6 338.5L462.8 338.5L462.8 235L388.7 235z" fill="#fa8faf"/>
<path d="M439.6 338.5L462.8 338.5L462.8 235L389.6 235z" fill="#fa92b0"/>
<path d="M440.5 338.5L462.8 338.5L462.8 235L390.6 235z" fill="#fa95b1"/>
<path d="M441.4 338.5L462.8 338.5L462.8 235L391.5 235z" fill="#fa98b2"/>
<path d="M442.3 338.5L462.8 338.5L462.8 235L392.4 235z" fill="#fa9bb4"/>
<path d="M443.3 338.5L462.8 338.5L462.8 235L393.4 235z" fill="#fa9eb5"/>
<path d="M444.2 338.5L462.8 338.5L462.8 235L394.3 235z" fill="#faa1b6"/>
<path d="M445.1 338.5L462.8 338.5L462.8 235L395.2 235z" fill="#faa3b6"/>
<path d="M446.1 338.5L462.8 338.5L462.8 235L396.2 235z" fill="#fba6b7"/>
<path d="M447 338.5L462.8 338.5L462.8 235L397.1 235z" fill="#fba8b8"/>
<path d="M447.9 338.5L462.8 338.5L462.8 235L398 235z" fill="#fbaab8"/>
<path d="M448.8 338.5L462.8 338.5L462.8 235L398.9 235z" fill="#fbadb9"/>
<path d="M449.8 338.5L462.8 338.5L462.8 235L399.9 235z" fill="#fbafba"/>
<path d="M450.7 338.5L462.8 338.5L462.8 235L400.8 235z" fill="#fbb1ba"/>
<path d="M451.6 338.5L462.8 338.5L462.8 235L401.7 235z" fill="#fbb3bb"/>
<path d="M452.6 338.5L462.8 338.5L462.8 235L402.7 235z" fill="#fbb6bc"/>
<path d="M453.5 338.5L462.8 338.5L462.8 235L403.6 235z" fill="#fcb8bc"/>
<path d="M454.4 338.5L462.8 338.5L462.8 235L404.5 235z" fill="#fcbabd"/>
<path d="M455.3 338.5L462.8 338.5L462.8 235L405.4 235z" fill="#fcbcbd"/>
<path d="M456.3 338.5L462.8 338.5L462.8 235L406.4 235z" fill="#fcbfbe"/>
<path d="M457.2 338.5L462.8 338.5L462.8 235L407.3 235z" fill="#fcc1bf"/>
<path d="M458.1 338.5L462.8 338.5L462.8 235L408.2 235z" fill="#fcc3bf"/>
<path d="M459.1 338.5L462.8 338.5L462.8 235L409.2 235z" fill="#fcc5c0"/>
</g>
<g mask="url(#c14)" stroke="#000" stroke-width="1" fill="none">
<path d="M401.01 329.85L379.17 284.58"/>
<path d="M424.24 329.85L386.86 252.37" stroke-dasharray="3.2 2.8"/>
<path d="M447.47 329.85L438.12 310.47" stroke-dasharray="1.05 2.1"/>
</g>
<path d="M379.17 334.65v3.1M394.38 334.65v3.1M409.59 334.65v3.1M424.8 334.65v3.1M440.01 334.65v3.1M455.22 334.65v3.1M374.77 329.85h-3.1M374.77 312.61h-3.1M374.77 295.37h-3.1M374.77 278.13h-3.1M374.77 260.89h-3.1M374.77 243.65h-3.1" stroke="#333" stroke-width="1.2" fill="none"/>
<g font-size="5.7" fill="#4d4d4d">
<g text-anchor="middle">
<text x="379.17" y="344.75">0</text>
<text x="394.38" y="344.75">20</text>
<text x="409.59" y="344.75">40</text>
<text x="424.8" y="344.75">60</text>
<text x="440.01" y="344.75">80</text>
<text x="455.22" y="344.75">100</text>
</g><g text-anchor="end">
<text x="369.57" y="331.9">0</text>
<text x="369.57" y="314.66">20</text>
<text x="369.57" y="297.42">40</text>
<text x="369.57" y="280.18">60</text>
<text x="369.57" y="262.94">80</text>
<text x="369.57" y="245.7">100</text>
</g></g>
<rect x="375.27" y="239.45" width="83.65" height="94.7" fill="none" stroke="#333" stroke-width="1.25"/>
</g>
<g>
<path d="M499.32 239.45V334.15M514.53 239.45V334.15M529.74 239.45V334.15M544.95 239.45V334.15M560.15 239.45V334.15M487.81 321.23H571.46M487.81 303.99H571.46M487.81 286.75H571.46M487.81 269.51H571.46M487.81 252.27H571.46" stroke="#e9e9e9" stroke-width=".6" fill="none"/>
<path d="M491.71 239.45V334.15M506.92 239.45V334.15M522.13 239.45V334.15M537.34 239.45V334.15M552.55 239.45V334.15M567.76 239.45V334.15M487.81 329.85H571.46M487.81 312.61H571.46M487.81 295.37H571.46M487.81 278.13H571.46M487.81 260.89H571.46M487.81 243.65H571.46" stroke="#e7e7e7" stroke-width="1.05" fill="none"/>
<mask id="c15" maskUnits="userSpaceOnUse" x="487.81" y="239.45" width="83.65" height="94.7"><path d="M491.86 329.95L567.7 329.95L491.86 243.35z" fill="#fff"/></mask>
<g mask="url(#c15)">
<path d="M491.86 329.95L567.7 329.95L491.86 243.35z" fill="#7f0178"/>
<path d="M499.3 338.5L575.4 338.5L575.4 235L484.1 235L484.1 320.3z" fill="#820178"/>
<path d="M500.1 338.5L575.4 338.5L575.4 235L484.1 235L484.1 319.3z" fill="#850178"/>
<path d="M500.9 338.5L575.4 338.5L575.4 235L484.1 235L484.1 318.4z" fill="#880179"/>
<path d="M501.7 338.5L575.4 338.5L575.4 235L484.1 235L484.1 317.4z" fill="#8b0179"/>
<path d="M502.5 338.5L575.4 338.5L575.4 235L484.1 235L484.1 316.5z" fill="#8e017a"/>
<path d="M503.3 338.5L575.4 338.5L575.4 235L484.1 235L484.1 315.5z" fill="#92017a"/>
<path d="M504 338.5L575.4 338.5L575.4 235L484.1 235L484.1 314.6z" fill="#95007b"/>
<path d="M504.8 338.5L575.4 338.5L575.4 235L484.1 235L484.1 313.6z" fill="#98007b"/>
<path d="M505.6 338.5L575.4 338.5L575.4 235L484.1 235L484.1 312.7z" fill="#9b017b"/>
<path d="M506.4 338.5L575.4 338.5L575.4 235L484.1 235L484.1 311.7z" fill="#9e017c"/>
<path d="M507.2 338.5L575.4 338.5L575.4 235L484.1 235L484.1 310.8z" fill="#a1017c"/>
<path d="M508 338.5L575.4 338.5L575.4 235L484.1 235L484.1 309.8z" fill="#a4017d"/>
<path d="M508.8 338.5L575.4 338.5L575.4 235L484.1 235L484.1 308.9z" fill="#a7017d"/>
<path d="M509.6 338.5L575.4 338.5L575.4 235L484.1 235L484.1 308z" fill="#aa017e"/>
<path d="M510.4 338.5L575.4 338.5L575.4 235L484.1 235L484.1 307z" fill="#ad017e"/>
<path d="M511.2 338.5L575.4 338.5L575.4 235L484.1 235L484.1 306.1z" fill="#b0057f"/>
<path d="M512 338.5L575.4 338.5L575.4 235L484.1 235L484.1 305.1z" fill="#b30a81"/>
<path d="M512.7 338.5L575.4 338.5L575.4 235L484.1 235L484.1 304.2z" fill="#b60e82"/>
<path d="M513.5 338.5L575.4 338.5L575.4 235L484.1 235L484.1 303.2z" fill="#b91284"/>
<path d="M514.3 338.5L575.4 338.5L575.4 235L484.1 235L484.1 302.3z" fill="#bb1685"/>
<path d="M515.1 338.5L575.4 338.5L575.4 235L484.1 235L484.1 301.3z" fill="#be1987"/>
<path d="M515.9 338.5L575.4 338.5L575.4 235L484.1 235L484.1 300.4z" fill="#c11c88"/>
<path d="M516.7 338.5L575.4 338.5L575.4 235L484.1 235L484.1 299.4z" fill="#c41f8a"/>
<path d="M517.5 338.5L575.4 338.5L575.4 235L484.1 235L484.1 298.5z" fill="#c7218b"/>
<path d="M518.3 338.5L575.4 338.5L575.4 235L484.1 235L484.1 297.5z" fill="#ca248d"/>
<path d="M519.1 338.5L575.4 338.5L575.4 235L484.1 235L484.1 296.6z" fill="#cc268e"/>
<path d="M519.9 338.5L575.4 338.5L575.4 235L484.1 235L484.1 295.6z" fill="#cf2990"/>
<path d="M520.7 338.5L575.4 338.5L575.4 235L484.1 235L484.1 294.7z" fill="#d22b91"/>
<path d="M521.4 338.5L575.4 338.5L575.4 235L484.1 235L484.1 293.7z" fill="#d52e93"/>
<path d="M522.2 338.5L575.4 338.5L575.4 235L484.1 235L484.1 292.8z" fill="#d83094"/>
<path d="M523 338.5L575.4 338.5L575.4 235L484.1 235L484.1 291.8z" fill="#db3296"/>
<path d="M523.8 338.5L575.4 338.5L575.4 235L484.1 235L484.1 290.9z" fill="#dd3597"/>
<path d="M524.6 338.5L575.4 338.5L575.4 235L484.1 235L484.1 290z" fill="#df3898"/>
<path d="M525.4 338.5L575.4 338.5L575.4 235L484.1 235L484.1 289z" fill="#e03c98"/>
<path d="M526.2 338.5L575.4 338.5L575.4 235L484.1 235L484.1 288.1z" fill="#e24099"/>
<path d="M527 338.5L575.4 338.5L575.4 235L484.1 235L484.1 287.1z" fill="#e4439a"/>
<path d="M527.8 338.5L575.4 338.5L575.4 235L484.1 235L484.1 286.2z" fill="#e5469a"/>
<path d="M528.6 338.5L575.4 338.5L575.4 235L484.1 235L484.1 285.2z" fill="#e7499b"/>
<path d="M529.3 338.5L575.4 338.5L575.4 235L484.1 235L484.1 284.3z" fill="#e84d9b"/>
<path d="M530.1 338.5L575.4 338.5L575.4 235L484.1 235L484.1 283.3z" fill="#ea509c"/>
<path d="M530.9 338.5L575.4 338.5L575.4 235L484.1 235L484.1 282.4z" fill="#eb539d"/>
<path d="M531.7 338.5L575.4 338.5L575.4 235L484.1 235L484.1 281.4z" fill="#ed569d"/>
<path d="M532.5 338.5L575.4 338.5L575.4 235L484.1 235L484.1 280.5z" fill="#ef599e"/>
<path d="M533.3 338.5L575.4 338.5L575.4 235L484.1 235L484.1 279.5z" fill="#f05b9e"/>
<path d="M534.1 338.5L575.4 338.5L575.4 235L484.1 235L484.1 278.6z" fill="#f25e9f"/>
<path d="M534.9 338.5L575.4 338.5L575.4 235L484.1 235L484.1 277.6z" fill="#f361a0"/>
<path d="M535.7 338.5L575.4 338.5L575.4 235L484.1 235L484.1 276.7z" fill="#f564a0"/>
<path d="M536.5 338.5L575.4 338.5L575.4 235L484.1 235L484.1 275.7z" fill="#f667a1"/>
<path d="M537.3 338.5L575.4 338.5L575.4 235L484.1 235L484.1 274.8z" fill="#f76aa2"/>
<path d="M538 338.5L575.4 338.5L575.4 235L484.1 235L484.1 273.9z" fill="#f76da3"/>
<path d="M538.8 338.5L575.4 338.5L575.4 235L484.1 235L484.1 272.9z" fill="#f871a4"/>
<path d="M539.6 338.5L575.4 338.5L575.4 235L484.1 235L484.1 272z" fill="#f875a5"/>
<path d="M540.4 338.5L575.4 338.5L575.4 235L484.1 235L484.1 271z" fill="#f878a6"/>
<path d="M541.2 338.5L575.4 338.5L575.4 235L484.1 235L484.1 270.1z" fill="#f87ba8"/>
<path d="M542 338.5L575.4 338.5L575.4 235L484.1 235L484.1 269.1z" fill="#f97fa9"/>
<path d="M542.8 338.5L575.4 338.5L575.4 235L484.1 235L484.1 268.2z" fill="#f982aa"/>
<path d="M543.6 338.5L575.4 338.5L575.4 235L484.1 235L484.1 267.2z" fill="#f985ab"/>
<path d="M544.4 338.5L575.4 338.5L575.4 235L484.1 235L484.1 266.3z" fill="#f989ac"/>
<path d="M545.2 338.5L575.4 338.5L575.4 235L484.1 235L484.1 265.3z" fill="#f98cae"/>
<path d="M546 338.5L575.4 338.5L575.4 235L484.1 235L484.1 264.4z" fill="#fa8faf"/>
<path d="M546.7 338.5L575.4 338.5L575.4 235L484.1 235L484.1 263.4z" fill="#fa92b0"/>
<path d="M547.5 338.5L575.4 338.5L575.4 235L484.1 235L484.1 262.5z" fill="#fa95b1"/>
<path d="M548.3 338.5L575.4 338.5L575.4 235L484.1 235L484.1 261.5z" fill="#fa98b2"/>
<path d="M549.1 338.5L575.4 338.5L575.4 235L484.1 235L484.1 260.6z" fill="#fa9bb4"/>
<path d="M549.9 338.5L575.4 338.5L575.4 235L484.1 235L484.1 259.6z" fill="#fa9eb5"/>
<path d="M550.7 338.5L575.4 338.5L575.4 235L484.1 235L484.1 258.7z" fill="#faa1b6"/>
<path d="M551.5 338.5L575.4 338.5L575.4 235L484.1 235L484.1 257.7z" fill="#faa3b6"/>
<path d="M552.3 338.5L575.4 338.5L575.4 235L484.1 235L484.1 256.8z" fill="#fba6b7"/>
<path d="M553.1 338.5L575.4 338.5L575.4 235L484.1 235L484.1 255.9z" fill="#fba8b8"/>
<path d="M553.9 338.5L575.4 338.5L575.4 235L484.1 235L484.1 254.9z" fill="#fbaab8"/>
<path d="M554.7 338.5L575.4 338.5L575.4 235L484.1 235L484.1 254z" fill="#fbadb9"/>
<path d="M555.4 338.5L575.4 338.5L575.4 235L484.1 235L484.1 253z" fill="#fbafba"/>
<path d="M556.2 338.5L575.4 338.5L575.4 235L484.1 235L484.1 252.1z" fill="#fbb1ba"/>
<path d="M557 338.5L575.4 338.5L575.4 235L484.1 235L484.1 251.1z" fill="#fbb3bb"/>
<path d="M557.8 338.5L575.4 338.5L575.4 235L484.1 235L484.1 250.2z" fill="#fbb6bc"/>
<path d="M558.6 338.5L575.4 338.5L575.4 235L484.1 235L484.1 249.2z" fill="#fcb8bc"/>
<path d="M559.4 338.5L575.4 338.5L575.4 235L484.1 235L484.1 248.3z" fill="#fcbabd"/>
<path d="M560.2 338.5L575.4 338.5L575.4 235L484.1 235L484.1 247.3z" fill="#fcbcbd"/>
<path d="M561 338.5L575.4 338.5L575.4 235L484.1 235L484.1 246.4z" fill="#fcbfbe"/>
<path d="M561.8 338.5L575.4 338.5L575.4 235L484.1 235L484.1 245.4z" fill="#fcc1bf"/>
<path d="M562.6 338.5L575.4 338.5L575.4 235L484.1 235L484.1 244.5z" fill="#fcc3bf"/>
<path d="M563.4 338.5L575.4 338.5L575.4 235L484.1 235L484.1 243.5z" fill="#fcc5c0"/>
<path d="M564.1 338.5L575.4 338.5L575.4 235L484.1 235L484.1 242.6z" fill="#fcc8c2"/>
<path d="M564.9 338.5L575.4 338.5L575.4 235L484.1 235L484.1 241.6z" fill="#fccac4"/>
<path d="M565.7 338.5L575.4 338.5L575.4 235L484.1 235L484.1 240.7z" fill="#fdccc6"/>
<path d="M566.5 338.5L575.4 338.5L575.4 235L484.1 235L484.1 239.7z" fill="#fdcfc8"/>
<path d="M567.3 338.5L575.4 338.5L575.4 235L484.1 235L484.1 238.8z" fill="#fdd1ca"/>
<path d="M568.1 338.5L575.4 338.5L575.4 235L484.1 235L484.1 237.9z" fill="#fdd3cc"/>
<path d="M568.9 338.5L575.4 338.5L575.4 235L484.1 235L484.1 236.9z" fill="#fdd5ce"/>
<path d="M569.7 338.5L575.4 338.5L575.4 235L484.1 235L484.1 236z" fill="#fdd8d1"/>
<path d="M570.5 338.5L575.4 338.5L575.4 235L484.1 235z" fill="#fedad3"/>
<path d="M571.3 338.5L575.4 338.5L575.4 235L484.9 235z" fill="#fedcd5"/>
<path d="M572 338.5L575.4 338.5L575.4 235L485.7 235z" fill="#feded7"/>
<path d="M572.8 338.5L575.4 338.5L575.4 235L486.5 235z" fill="#fee1d9"/>
<path d="M573.6 338.5L575.4 338.5L575.4 235L487.3 235z" fill="#fee3db"/>
<path d="M574.4 338.5L575.4 338.5L575.4 235L488.1 235z" fill="#fee5dd"/>
</g>
<g mask="url(#c15)" stroke="#000" stroke-width="1" fill="none">
<path d="M510.29 329.85L491.71 307.59"/>
<path d="M530.06 329.85L491.71 283.91" stroke-dasharray="3.2 2.8"/>
<path d="M549.83 329.85L491.71 260.23" stroke-dasharray="1.05 2.1"/>
</g>
<path d="M491.71 334.65v3.1M506.92 334.65v3.1M522.13 334.65v3.1M537.34 334.65v3.1M552.55 334.65v3.1M567.76 334.65v3.1M487.31 329.85h-3.1M487.31 312.61h-3.1M487.31 295.37h-3.1M487.31 278.13h-3.1M487.31 260.89h-3.1M487.31 243.65h-3.1" stroke="#333" stroke-width="1.2" fill="none"/>
<g font-size="5.7" fill="#4d4d4d">
<g text-anchor="middle">
<text x="491.71" y="344.75">0</text>
<text x="506.92" y="344.75">20</text>
<text x="522.13" y="344.75">40</text>
<text x="537.34" y="344.75">60</text>
<text x="552.55" y="344.75">80</text>
<text x="567.76" y="344.75">100</text>
</g><g text-anchor="end">
<text x="482.11" y="331.9">0</text>
<text x="482.11" y="314.66">20</text>
<text x="482.11" y="297.42">40</text>
<text x="482.11" y="280.18">60</text>
<text x="482.11" y="262.94">80</text>
<text x="482.11" y="245.7">100</text>
</g></g>
<rect x="487.81" y="239.45" width="83.65" height="94.7" fill="none" stroke="#333" stroke-width="1.25"/>
</g>
<g>
<path d="M611.86 239.45V334.15M627.07 239.45V334.15M642.27 239.45V334.15M657.49 239.45V334.15M672.69 239.45V334.15M600.35 321.23H684M600.35 303.99H684M600.35 286.75H684M600.35 269.51H684M600.35 252.27H684" stroke="#e9e9e9" stroke-width=".6" fill="none"/>
<path d="M604.25 239.45V334.15M619.46 239.45V334.15M634.67 239.45V334.15M649.88 239.45V334.15M665.09 239.45V334.15M680.3 239.45V334.15M600.35 329.85H684M600.35 312.61H684M600.35 295.37H684M600.35 278.13H684M600.35 260.89H684M600.35 243.65H684" stroke="#e7e7e7" stroke-width="1.05" fill="none"/>
<mask id="c16" maskUnits="userSpaceOnUse" x="600.35" y="239.45" width="83.65" height="94.7"><path d="M604.4 329.95L680.24 329.95L604.4 243.35z" fill="#fff"/></mask>
<g mask="url(#c16)">
<path d="M604.4 329.95L680.24 329.95L604.4 243.35z" fill="#7c0177"/>
<path d="M612.7 338.5L687.9 338.5L687.9 235L596.6 235L596.6 320.3z" fill="#7f0178"/>
<path d="M613.5 338.5L687.9 338.5L687.9 235L596.6 235L596.6 319.4z" fill="#820178"/>
<path d="M614.3 338.5L687.9 338.5L687.9 235L596.6 235L596.6 318.4z" fill="#850178"/>
<path d="M615.1 338.5L687.9 338.5L687.9 235L596.6 235L596.6 317.5z" fill="#880179"/>
<path d="M616 338.5L687.9 338.5L687.9 235L596.6 235L596.6 316.6z" fill="#8b0179"/>
<path d="M616.8 338.5L687.9 338.5L687.9 235L596.6 235L596.6 315.6z" fill="#8e017a"/>
<path d="M617.6 338.5L687.9 338.5L687.9 235L596.6 235L596.6 314.7z" fill="#92017a"/>
<path d="M618.4 338.5L687.9 338.5L687.9 235L596.6 235L596.6 313.8z" fill="#95007b"/>
<path d="M619.3 338.5L687.9 338.5L687.9 235L596.6 235L596.6 312.8z" fill="#98007b"/>
<path d="M620.1 338.5L687.9 338.5L687.9 235L596.6 235L596.6 311.9z" fill="#9b017b"/>
<path d="M620.9 338.5L687.9 338.5L687.9 235L596.6 235L596.6 311z" fill="#9e017c"/>
<path d="M621.7 338.5L687.9 338.5L687.9 235L596.6 235L596.6 310z" fill="#a1017c"/>
<path d="M622.5 338.5L687.9 338.5L687.9 235L596.6 235L596.6 309.1z" fill="#a4017d"/>
<path d="M623.4 338.5L687.9 338.5L687.9 235L596.6 235L596.6 308.2z" fill="#a7017d"/>
<path d="M624.2 338.5L687.9 338.5L687.9 235L596.6 235L596.6 307.3z" fill="#aa017e"/>
<path d="M625 338.5L687.9 338.5L687.9 235L596.6 235L596.6 306.3z" fill="#ad017e"/>
<path d="M625.8 338.5L687.9 338.5L687.9 235L596.6 235L596.6 305.4z" fill="#b0057f"/>
<path d="M626.7 338.5L687.9 338.5L687.9 235L596.6 235L596.6 304.5z" fill="#b30a81"/>
<path d="M627.5 338.5L687.9 338.5L687.9 235L596.6 235L596.6 303.5z" fill="#b60e82"/>
<path d="M628.3 338.5L687.9 338.5L687.9 235L596.6 235L596.6 302.6z" fill="#b91284"/>
<path d="M629.1 338.5L687.9 338.5L687.9 235L596.6 235L596.6 301.7z" fill="#bb1685"/>
<path d="M629.9 338.5L687.9 338.5L687.9 235L596.6 235L596.6 300.7z" fill="#be1987"/>
<path d="M630.8 338.5L687.9 338.5L687.9 235L596.6 235L596.6 299.8z" fill="#c11c88"/>
<path d="M631.6 338.5L687.9 338.5L687.9 235L596.6 235L596.6 298.9z" fill="#c41f8a"/>
<path d="M632.4 338.5L687.9 338.5L687.9 235L596.6 235L596.6 297.9z" fill="#c7218b"/>
<path d="M633.2 338.5L687.9 338.5L687.9 235L596.6 235L596.6 297z" fill="#ca248d"/>
<path d="M634.1 338.5L687.9 338.5L687.9 235L596.6 235L596.6 296.1z" fill="#cc268e"/>
<path d="M634.9 338.5L687.9 338.5L687.9 235L596.6 235L596.6 295.1z" fill="#cf2990"/>
<path d="M635.7 338.5L687.9 338.5L687.9 235L596.6 235L596.6 294.2z" fill="#d22b91"/>
<path d="M636.5 338.5L687.9 338.5L687.9 235L596.6 235L596.6 293.3z" fill="#d52e93"/>
<path d="M637.3 338.5L687.9 338.5L687.9 235L596.6 235L596.6 292.3z" fill="#d83094"/>
<path d="M638.2 338.5L687.9 338.5L687.9 235L596.6 235L596.6 291.4z" fill="#db3296"/>
<path d="M639 338.5L687.9 338.5L687.9 235L596.6 235L596.6 290.5z" fill="#dd3597"/>
<path d="M639.8 338.5L687.9 338.5L687.9 235L596.6 235L596.6 289.5z" fill="#df3898"/>
<path d="M640.6 338.5L687.9 338.5L687.9 235L596.6 235L596.6 288.6z" fill="#e03c98"/>
<path d="M641.5 338.5L687.9 338.5L687.9 235L596.6 235L596.6 287.7z" fill="#e24099"/>
<path d="M642.3 338.5L687.9 338.5L687.9 235L596.6 235L596.6 286.8z" fill="#e4439a"/>
<path d="M643.1 338.5L687.9 338.5L687.9 235L596.6 235L596.6 285.8z" fill="#e5469a"/>
<path d="M643.9 338.5L687.9 338.5L687.9 235L596.6 235L596.6 284.9z" fill="#e7499b"/>
<path d="M644.7 338.5L687.9 338.5L687.9 235L596.6 235L596.6 284z" fill="#e84d9b"/>
<path d="M645.6 338.5L687.9 338.5L687.9 235L596.6 235L596.6 283z" fill="#ea509c"/>
<path d="M646.4 338.5L687.9 338.5L687.9 235L596.6 235L596.6 282.1z" fill="#eb539d"/>
<path d="M647.2 338.5L687.9 338.5L687.9 235L596.6 235L596.6 281.2z" fill="#ed569d"/>
<path d="M648 338.5L687.9 338.5L687.9 235L596.6 235L596.6 280.2z" fill="#ef599e"/>
<path d="M648.9 338.5L687.9 338.5L687.9 235L596.6 235L596.6 279.3z" fill="#f05b9e"/>
<path d="M649.7 338.5L687.9 338.5L687.9 235L596.6 235L596.6 278.4z" fill="#f25e9f"/>
<path d="M650.5 338.5L687.9 338.5L687.9 235L596.6 235L596.6 277.4z" fill="#f361a0"/>
<path d="M651.3 338.5L687.9 338.5L687.9 235L596.6 235L596.6 276.5z" fill="#f564a0"/>
<path d="M652.1 338.5L687.9 338.5L687.9 235L596.6 235L596.6 275.6z" fill="#f667a1"/>
<path d="M653 338.5L687.9 338.5L687.9 235L596.6 235L596.6 274.6z" fill="#f76aa2"/>
<path d="M653.8 338.5L687.9 338.5L687.9 235L596.6 235L596.6 273.7z" fill="#f76da3"/>
<path d="M654.6 338.5L687.9 338.5L687.9 235L596.6 235L596.6 272.8z" fill="#f871a4"/>
<path d="M655.4 338.5L687.9 338.5L687.9 235L596.6 235L596.6 271.8z" fill="#f875a5"/>
<path d="M656.3 338.5L687.9 338.5L687.9 235L596.6 235L596.6 270.9z" fill="#f878a6"/>
<path d="M657.1 338.5L687.9 338.5L687.9 235L596.6 235L596.6 270z" fill="#f87ba8"/>
<path d="M657.9 338.5L687.9 338.5L687.9 235L596.6 235L596.6 269z" fill="#f97fa9"/>
<path d="M658.7 338.5L687.9 338.5L687.9 235L596.6 235L596.6 268.1z" fill="#f982aa"/>
<path d="M659.5 338.5L687.9 338.5L687.9 235L596.6 235L596.6 267.2z" fill="#f985ab"/>
<path d="M660.4 338.5L687.9 338.5L687.9 235L596.6 235L596.6 266.2z" fill="#f989ac"/>
<path d="M661.2 338.5L687.9 338.5L687.9 235L596.6 235L596.6 265.3z" fill="#f98cae"/>
<path d="M662 338.5L687.9 338.5L687.9 235L596.6 235L596.6 264.4z" fill="#fa8faf"/>
<path d="M662.8 338.5L687.9 338.5L687.9 235L596.6 235L596.6 263.5z" fill="#fa92b0"/>
<path d="M663.7 338.5L687.9 338.5L687.9 235L596.6 235L596.6 262.5z" fill="#fa95b1"/>
<path d="M664.5 338.5L687.9 338.5L687.9 235L596.6 235L596.6 261.6z" fill="#fa98b2"/>
<path d="M665.3 338.5L687.9 338.5L687.9 235L596.6 235L596.6 260.7z" fill="#fa9bb4"/>
<path d="M666.1 338.5L687.9 338.5L687.9 235L596.6 235L596.6 259.7z" fill="#fa9eb5"/>
<path d="M666.9 338.5L687.9 338.5L687.9 235L596.6 235L596.6 258.8z" fill="#faa1b6"/>
<path d="M667.8 338.5L687.9 338.5L687.9 235L596.6 235L596.6 257.9z" fill="#faa3b6"/>
<path d="M668.6 338.5L687.9 338.5L687.9 235L596.6 235L596.6 256.9z" fill="#fba6b7"/>
<path d="M669.4 338.5L687.9 338.5L687.9 235L596.6 235L596.6 256z" fill="#fba8b8"/>
<path d="M670.2 338.5L687.9 338.5L687.9 235L596.6 235L596.6 255.1z" fill="#fbaab8"/>
<path d="M671.1 338.5L687.9 338.5L687.9 235L596.6 235L596.6 254.1z" fill="#fbadb9"/>
<path d="M671.9 338.5L687.9 338.5L687.9 235L596.6 235L596.6 253.2z" fill="#fbafba"/>
<path d="M672.7 338.5L687.9 338.5L687.9 235L596.6 235L596.6 252.3z" fill="#fbb1ba"/>
<path d="M673.5 338.5L687.9 338.5L687.9 235L596.6 235L596.6 251.3z" fill="#fbb3bb"/>
<path d="M674.3 338.5L687.9 338.5L687.9 235L596.6 235L596.6 250.4z" fill="#fbb6bc"/>
<path d="M675.2 338.5L687.9 338.5L687.9 235L596.6 235L596.6 249.5z" fill="#fcb8bc"/>
<path d="M676 338.5L687.9 338.5L687.9 235L596.6 235L596.6 248.5z" fill="#fcbabd"/>
<path d="M676.8 338.5L687.9 338.5L687.9 235L596.6 235L596.6 247.6z" fill="#fcbcbd"/>
<path d="M677.6 338.5L687.9 338.5L687.9 235L596.6 235L596.6 246.7z" fill="#fcbfbe"/>
<path d="M678.5 338.5L687.9 338.5L687.9 235L596.6 235L596.6 245.7z" fill="#fcc1bf"/>
<path d="M679.3 338.5L687.9 338.5L687.9 235L596.6 235L596.6 244.8z" fill="#fcc3bf"/>
<path d="M680.1 338.5L687.9 338.5L687.9 235L596.6 235L596.6 243.9z" fill="#fcc5c0"/>
<path d="M680.9 338.5L687.9 338.5L687.9 235L596.6 235L596.6 243z" fill="#fcc8c2"/>
<path d="M681.7 338.5L687.9 338.5L687.9 235L596.6 235L596.6 242z" fill="#fccac4"/>
<path d="M682.6 338.5L687.9 338.5L687.9 235L596.6 235L596.6 241.1z" fill="#fdccc6"/>
<path d="M683.4 338.5L687.9 338.5L687.9 235L596.6 235L596.6 240.2z" fill="#fdcfc8"/>
<path d="M684.2 338.5L687.9 338.5L687.9 235L596.6 235L596.6 239.2z" fill="#fdd1ca"/>
<path d="M685 338.5L687.9 338.5L687.9 235L596.6 235L596.6 238.3z" fill="#fdd3cc"/>
<path d="M685.8 338.5L687.9 338.5L687.9 235L596.6 235L596.6 237.4z" fill="#fdd5ce"/>
<path d="M686.7 338.5L687.9 338.5L687.9 235L596.6 235L596.6 236.4z" fill="#fdd8d1"/>
<path d="M687.5 338.5L687.9 338.5L687.9 235L596.6 235L596.6 235.5z" fill="#fedad3"/>
</g>
<g mask="url(#c16)" stroke="#000" stroke-width="1" fill="none">
<path d="M624.8 329.85L604.25 306.55"/>
<path d="M645.36 329.85L604.25 283.26" stroke-dasharray="3.2 2.8"/>
<path d="M665.91 329.85L604.25 259.96" stroke-dasharray="1.05 2.1"/>
</g>
<path d="M604.25 334.65v3.1M619.46 334.65v3.1M634.67 334.65v3.1M649.88 334.65v3.1M665.09 334.65v3.1M680.3 334.65v3.1M599.85 329.85h-3.1M599.85 312.61h-3.1M599.85 295.37h-3.1M599.85 278.13h-3.1M599.85 260.89h-3.1M599.85 243.65h-3.1" stroke="#333" stroke-width="1.2" fill="none"/>
<g font-size="5.7" fill="#4d4d4d">
<g text-anchor="middle">
<text x="604.25" y="344.75">0</text>
<text x="619.46" y="344.75">20</text>
<text x="634.67" y="344.75">40</text>
<text x="649.88" y="344.75">60</text>
<text x="665.09" y="344.75">80</text>
<text x="680.3" y="344.75">100</text>
</g><g text-anchor="end">
<text x="594.65" y="331.9">0</text>
<text x="594.65" y="314.66">20</text>
<text x="594.65" y="297.42">40</text>
<text x="594.65" y="280.18">60</text>
<text x="594.65" y="262.94">80</text>
<text x="594.65" y="245.7">100</text>
</g></g>
<rect x="600.35" y="239.45" width="83.65" height="94.7" fill="none" stroke="#333" stroke-width="1.25"/>
</g>
<g>
<path d="M49.15 359.05V453.65M64.36 359.05V453.65M79.57 359.05V453.65M94.78 359.05V453.65M109.99 359.05V453.65M37.65 440.83H121.3M37.65 423.59H121.3M37.65 406.35H121.3M37.65 389.11H121.3M37.65 371.87H121.3" stroke="#e9e9e9" stroke-width=".6" fill="none"/>
<path d="M41.55 359.05V453.65M56.76 359.05V453.65M71.97 359.05V453.65M87.18 359.05V453.65M102.39 359.05V453.65M117.6 359.05V453.65M37.65 449.45H121.3M37.65 432.21H121.3M37.65 414.97H121.3M37.65 397.73H121.3M37.65 380.49H121.3M37.65 363.25H121.3" stroke="#e7e7e7" stroke-width="1.05" fill="none"/>
<path d="M41.7 449.55L117.54 449.55L41.7 362.95z" fill="#feebe2"/>
<path d="M41.55 454.15v3.1M56.76 454.15v3.1M71.97 454.15v3.1M87.18 454.15v3.1M102.39 454.15v3.1M117.6 454.15v3.1M37.15 449.45h-3.1M37.15 432.21h-3.1M37.15 414.97h-3.1M37.15 397.73h-3.1M37.15 380.49h-3.1M37.15 363.25h-3.1" stroke="#333" stroke-width="1.2" fill="none"/>
<g font-size="5.7" fill="#4d4d4d">
<g text-anchor="middle">
<text x="41.55" y="464.25">0</text>
<text x="56.76" y="464.25">20</text>
<text x="71.97" y="464.25">40</text>
<text x="87.18" y="464.25">60</text>
<text x="102.39" y="464.25">80</text>
<text x="117.6" y="464.25">100</text>
</g><g text-anchor="end">
<text x="31.95" y="451.5">0</text>
<text x="31.95" y="434.26">20</text>
<text x="31.95" y="417.02">40</text>
<text x="31.95" y="399.78">60</text>
<text x="31.95" y="382.54">80</text>
<text x="31.95" y="365.3">100</text>
</g></g>
<rect x="98.59" y="365.89" width="18.6" height="22.75" fill="#fff"/>
<rect x="98.59" y="391.84" width="22.71" height="37.2" fill="#fff"/>
<g stroke="#000" stroke-width=".9">
<path d="M99.89 374.19h4.2"/>
<path d="M99.89 379.77h4.2" stroke-dasharray="3 3"/>
<path d="M99.89 385.35h4.2" stroke-dasharray=".8 2.3"/>
</g>
<g font-size="5.8">
<text x="108.19" y="376.29">25</text>
<text x="108.19" y="381.87">50</text>
<text x="108.19" y="387.45">75</text>
<text x="99.79" y="397.34" font-size="5.9">Ag %</text>
<text x="108.39" y="403.84">100</text>
<text x="108.39" y="410.19">75</text>
<text x="108.39" y="416.54">50</text>
<text x="108.39" y="422.89">25</text>
<text x="108.39" y="429.24">0</text>
</g>
<rect x="99.59" y="401.74" width="5" height="1.32" fill="#fee6de"/>
<rect x="99.59" y="402.76" width="5" height="1.32" fill="#feddd6"/>
<rect x="99.59" y="403.77" width="5" height="1.32" fill="#fdd4cd"/>
<rect x="99.59" y="404.79" width="5" height="1.32" fill="#fdcbc5"/>
<rect x="99.59" y="405.8" width="5" height="1.32" fill="#fcc2bf"/>
<rect x="99.59" y="406.82" width="5" height="1.32" fill="#fcb9bc"/>
<rect x="99.59" y="407.84" width="5" height="1.32" fill="#fbb0ba"/>
<rect x="99.59" y="408.85" width="5" height="1.32" fill="#fba7b7"/>
<rect x="99.59" y="409.87" width="5" height="1.32" fill="#fa9db4"/>
<rect x="99.59" y="410.88" width="5" height="1.32" fill="#fa91af"/>
<rect x="99.59" y="411.9" width="5" height="1.32" fill="#f984ab"/>
<rect x="99.59" y="412.92" width="5" height="1.32" fill="#f876a6"/>
<rect x="99.59" y="413.93" width="5" height="1.32" fill="#f768a1"/>
<rect x="99.59" y="414.95" width="5" height="1.32" fill="#f15d9f"/>
<rect x="99.59" y="415.96" width="5" height="1.32" fill="#eb519c"/>
<rect x="99.59" y="416.98" width="5" height="1.32" fill="#e4459a"/>
<rect x="99.59" y="418" width="5" height="1.32" fill="#de3797"/>
<rect x="99.59" y="419.01" width="5" height="1.32" fill="#d32c92"/>
<rect x="99.59" y="420.03" width="5" height="1.32" fill="#c8238c"/>
<rect x="99.59" y="421.04" width="5" height="1.32" fill="#bd1786"/>
<rect x="99.59" y="422.06" width="5" height="1.32" fill="#b20780"/>
<rect x="99.59" y="423.08" width="5" height="1.32" fill="#a6017d"/>
<rect x="99.59" y="424.09" width="5" height="1.32" fill="#99017b"/>
<rect x="99.59" y="425.11" width="5" height="1.32" fill="#8d017a"/>
<rect x="99.59" y="426.12" width="5" height="1.02" fill="#800178"/>
<path d="M99.59 408.09h1M103.59 408.09h1M99.59 414.44h1M103.59 414.44h1M99.59 420.79h1M103.59 420.79h1" stroke="#fff" stroke-width=".6"/>
<rect x="37.65" y="359.05" width="83.65" height="94.6" fill="none" stroke="#333" stroke-width="1.25"/>
</g>
<g>
<path d="M161.69 359.05V453.65M176.91 359.05V453.65M192.12 359.05V453.65M207.32 359.05V453.65M222.53 359.05V453.65M150.19 440.83H233.84M150.19 423.59H233.84M150.19 406.35H233.84M150.19 389.11H233.84M150.19 371.87H233.84" stroke="#e9e9e9" stroke-width=".6" fill="none"/>
<path d="M154.09 359.05V453.65M169.3 359.05V453.65M184.51 359.05V453.65M199.72 359.05V453.65M214.93 359.05V453.65M230.14 359.05V453.65M150.19 449.45H233.84M150.19 432.21H233.84M150.19 414.97H233.84M150.19 397.73H233.84M150.19 380.49H233.84M150.19 363.25H233.84" stroke="#e7e7e7" stroke-width="1.05" fill="none"/>
<mask id="c17" maskUnits="userSpaceOnUse" x="150.19" y="359.05" width="83.65" height="94.6"><path d="M154.24 449.55L230.08 449.55L154.24 362.95z" fill="#fff"/></mask>
<g mask="url(#c17)">
<path d="M154.24 449.55L230.08 449.55L154.24 362.95z" fill="#fbb1ba"/>
<path d="M146.5 458.1L227.3 458.1L229.4 354.6L146.5 354.6z" fill="#fbb3bb"/>
<path d="M146.5 458.1L223.4 458.1L225.4 354.6L146.5 354.6z" fill="#fbb6bc"/>
<path d="M146.5 458.1L219.5 458.1L221.6 354.6L146.5 354.6z" fill="#fcb8bc"/>
<path d="M146.5 458.1L215.8 458.1L217.8 354.6L146.5 354.6z" fill="#fcbabd"/>
<path d="M146.5 458.1L212.1 458.1L214.2 354.6L146.5 354.6z" fill="#fcbcbd"/>
<path d="M146.5 458.1L208.6 458.1L210.6 354.6L146.5 354.6z" fill="#fcbfbe"/>
<path d="M146.5 458.1L205.1 458.1L207.1 354.6L146.5 354.6z" fill="#fcc1bf"/>
<path d="M146.5 458.1L201.7 458.1L203.7 354.6L146.5 354.6z" fill="#fcc3bf"/>
<path d="M146.5 458.1L198.4 458.1L200.4 354.6L146.5 354.6z" fill="#fcc5c0"/>
<path d="M146.5 458.1L195.2 458.1L197.2 354.6L146.5 354.6z" fill="#fcc8c2"/>
<path d="M146.5 458.1L192 458.1L194 354.6L146.5 354.6z" fill="#fccac4"/>
<path d="M146.5 458.1L188.9 458.1L190.9 354.6L146.5 354.6z" fill="#fdccc6"/>
<path d="M146.5 458.1L185.9 458.1L187.9 354.6L146.5 354.6z" fill="#fdcfc8"/>
<path d="M146.5 458.1L183 458.1L185 354.6L146.5 354.6z" fill="#fdd1ca"/>
<path d="M146.5 458.1L180.1 458.1L182.1 354.6L146.5 354.6z" fill="#fdd3cc"/>
<path d="M146.5 458.1L177.3 458.1L179.3 354.6L146.5 354.6z" fill="#fdd5ce"/>
<path d="M146.5 458.1L174.5 458.1L176.5 354.6L146.5 354.6z" fill="#fdd8d1"/>
<path d="M146.5 458.1L171.8 458.1L173.9 354.6L146.5 354.6z" fill="#fedad3"/>
<path d="M146.5 458.1L169.2 458.1L171.2 354.6L146.5 354.6z" fill="#fedcd5"/>
<path d="M146.5 458.1L166.6 458.1L168.6 354.6L146.5 354.6z" fill="#feded7"/>
<path d="M146.5 458.1L164.1 458.1L166.1 354.6L146.5 354.6z" fill="#fee1d9"/>
<path d="M146.5 458.1L161.6 458.1L163.6 354.6L146.5 354.6z" fill="#fee3db"/>
<path d="M146.5 458.1L159.2 458.1L161.2 354.6L146.5 354.6z" fill="#fee5dd"/>
<path d="M146.5 458.1L156.8 458.1L158.9 354.6L146.5 354.6z" fill="#fee8df"/>
<path d="M146.5 458.1L154.5 458.1L156.5 354.6L146.5 354.6z" fill="#feeae1"/>
</g>
<g mask="url(#c17)" stroke="#000" stroke-width="1" fill="none">
<path d="M227.51 449.45L227.57 446.54" stroke-dasharray="1.05 2.1"/>
</g>
<path d="M154.09 454.15v3.1M169.3 454.15v3.1M184.51 454.15v3.1M199.72 454.15v3.1M214.93 454.15v3.1M230.14 454.15v3.1M149.69 449.45h-3.1M149.69 432.21h-3.1M149.69 414.97h-3.1M149.69 397.73h-3.1M149.69 380.49h-3.1M149.69 363.25h-3.1" stroke="#333" stroke-width="1.2" fill="none"/>
<g font-size="5.7" fill="#4d4d4d">
<g text-anchor="middle">
<text x="154.09" y="464.25">0</text>
<text x="169.3" y="464.25">20</text>
<text x="184.51" y="464.25">40</text>
<text x="199.72" y="464.25">60</text>
<text x="214.93" y="464.25">80</text>
<text x="230.14" y="464.25">100</text>
</g><g text-anchor="end">
<text x="144.49" y="451.5">0</text>
<text x="144.49" y="434.26">20</text>
<text x="144.49" y="417.02">40</text>
<text x="144.49" y="399.78">60</text>
<text x="144.49" y="382.54">80</text>
<text x="144.49" y="365.3">100</text>
</g></g>
<rect x="150.19" y="359.05" width="83.65" height="94.6" fill="none" stroke="#333" stroke-width="1.25"/>
</g>
<g>
<path d="M274.24 359.05V453.65M289.44 359.05V453.65M304.65 359.05V453.65M319.87 359.05V453.65M335.07 359.05V453.65M262.73 440.83H346.38M262.73 423.59H346.38M262.73 406.35H346.38M262.73 389.11H346.38M262.73 371.87H346.38" stroke="#e9e9e9" stroke-width=".6" fill="none"/>
<path d="M266.63 359.05V453.65M281.84 359.05V453.65M297.05 359.05V453.65M312.26 359.05V453.65M327.47 359.05V453.65M342.68 359.05V453.65M262.73 449.45H346.38M262.73 432.21H346.38M262.73 414.97H346.38M262.73 397.73H346.38M262.73 380.49H346.38M262.73 363.25H346.38" stroke="#e7e7e7" stroke-width="1.05" fill="none"/>
<mask id="c18" maskUnits="userSpaceOnUse" x="262.73" y="359.05" width="83.65" height="94.6"><path d="M266.78 449.55L342.62 449.55L266.78 362.95z" fill="#fff"/></mask>
<g mask="url(#c18)">
<path d="M266.78 449.55L342.62 449.55L266.78 362.95z" fill="#f989ac"/>
<path d="M259 458.1L339.9 458.1L341.9 354.6L259 354.6z" fill="#f98cae"/>
<path d="M259 458.1L336.8 458.1L338.8 354.6L259 354.6z" fill="#fa8faf"/>
<path d="M259 458.1L333.8 458.1L335.9 354.6L259 354.6z" fill="#fa92b0"/>
<path d="M259 458.1L330.9 458.1L333 354.6L259 354.6z" fill="#fa95b1"/>
<path d="M259 458.1L328.1 458.1L330.2 354.6L259 354.6z" fill="#fa98b2"/>
<path d="M259 458.1L325.4 458.1L327.5 354.6L259 354.6z" fill="#fa9bb4"/>
<path d="M259 458.1L322.8 458.1L324.8 354.6L259 354.6z" fill="#fa9eb5"/>
<path d="M259 458.1L320.3 458.1L322.3 354.6L259 354.6z" fill="#faa1b6"/>
<path d="M259 458.1L317.8 458.1L319.8 354.6L259 354.6z" fill="#faa3b6"/>
<path d="M259 458.1L315.4 458.1L317.4 354.6L259 354.6z" fill="#fba6b7"/>
<path d="M259 458.1L313.1 458.1L315.1 354.6L259 354.6z" fill="#fba8b8"/>
<path d="M259 458.1L310.8 458.1L312.8 354.6L259 354.6z" fill="#fbaab8"/>
<path d="M259 458.1L308.6 458.1L310.6 354.6L259 354.6z" fill="#fbadb9"/>
<path d="M259 458.1L306.4 458.1L308.5 354.6L259 354.6z" fill="#fbafba"/>
<path d="M259 458.1L304.4 458.1L306.4 354.6L259 354.6z" fill="#fbb1ba"/>
<path d="M259 458.1L302.3 458.1L304.4 354.6L259 354.6z" fill="#fbb3bb"/>
<path d="M259 458.1L300.3 458.1L302.4 354.6L259 354.6z" fill="#fbb6bc"/>
<path d="M259 458.1L298.4 458.1L300.5 354.6L259 354.6z" fill="#fcb8bc"/>
<path d="M259 458.1L296.5 458.1L298.6 354.6L259 354.6z" fill="#fcbabd"/>
<path d="M259 458.1L294.7 458.1L296.7 354.6L259 354.6z" fill="#fcbcbd"/>
<path d="M259 458.1L292.9 458.1L295 354.6L259 354.6z" fill="#fcbfbe"/>
<path d="M259 458.1L291.2 458.1L293.2 354.6L259 354.6z" fill="#fcc1bf"/>
<path d="M259 458.1L289.5 458.1L291.5 354.6L259 354.6z" fill="#fcc3bf"/>
<path d="M259 458.1L287.8 458.1L289.9 354.6L259 354.6z" fill="#fcc5c0"/>
<path d="M259 458.1L286.2 458.1L288.3 354.6L259 354.6z" fill="#fcc8c2"/>
<path d="M259 458.1L284.7 458.1L286.7 354.6L259 354.6z" fill="#fccac4"/>
<path d="M259 458.1L283.1 458.1L285.1 354.6L259 354.6z" fill="#fdccc6"/>
<path d="M259 458.1L281.6 458.1L283.6 354.6L259 354.6z" fill="#fdcfc8"/>
<path d="M259 458.1L280.1 458.1L282.2 354.6L259 354.6z" fill="#fdd1ca"/>
<path d="M259 458.1L278.7 458.1L280.7 354.6L259 354.6z" fill="#fdd3cc"/>
<path d="M259 458.1L277.3 458.1L279.3 354.6L259 354.6z" fill="#fdd5ce"/>
<path d="M259 458.1L275.9 458.1L277.9 354.6L259 354.6z" fill="#fdd8d1"/>
<path d="M259 458.1L274.6 458.1L276.6 354.6L259 354.6z" fill="#fedad3"/>
<path d="M259 458.1L273.3 458.1L275.3 354.6L259 354.6z" fill="#fedcd5"/>
<path d="M259 458.1L272 458.1L274 354.6L259 354.6z" fill="#feded7"/>
<path d="M259 458.1L270.7 458.1L272.7 354.6L259 354.6z" fill="#fee1d9"/>
<path d="M259 458.1L269.5 458.1L271.5 354.6L259 354.6z" fill="#fee3db"/>
<path d="M259 458.1L268.3 458.1L270.3 354.6L259 354.6z" fill="#fee5dd"/>
<path d="M259 458.1L267.1 458.1L269.1 354.6L259 354.6z" fill="#fee8df"/>
<path d="M259 458.1L265.9 458.1L267.9 354.6L259 354.6z" fill="#feeae1"/>
</g>
<g mask="url(#c18)" stroke="#000" stroke-width="1" fill="none">
<path d="M302.5 449.45L303.37 404.89" stroke-dasharray="1.05 2.1"/>
</g>
<path d="M266.63 454.15v3.1M281.84 454.15v3.1M297.05 454.15v3.1M312.26 454.15v3.1M327.47 454.15v3.1M342.68 454.15v3.1M262.23 449.45h-3.1M262.23 432.21h-3.1M262.23 414.97h-3.1M262.23 397.73h-3.1M262.23 380.49h-3.1M262.23 363.25h-3.1" stroke="#333" stroke-width="1.2" fill="none"/>
<g font-size="5.7" fill="#4d4d4d">
<g text-anchor="middle">
<text x="266.63" y="464.25">0</text>
<text x="281.84" y="464.25">20</text>
<text x="297.05" y="464.25">40</text>
<text x="312.26" y="464.25">60</text>
<text x="327.47" y="464.25">80</text>
<text x="342.68" y="464.25">100</text>
</g><g text-anchor="end">
<text x="257.03" y="451.5">0</text>
<text x="257.03" y="434.26">20</text>
<text x="257.03" y="417.02">40</text>
<text x="257.03" y="399.78">60</text>
<text x="257.03" y="382.54">80</text>
<text x="257.03" y="365.3">100</text>
</g></g>
<rect x="262.73" y="359.05" width="83.65" height="94.6" fill="none" stroke="#333" stroke-width="1.25"/>
</g>
<g>
<path d="M386.78 359.05V453.65M401.99 359.05V453.65M417.19 359.05V453.65M432.41 359.05V453.65M447.62 359.05V453.65M375.27 440.83H458.92M375.27 423.59H458.92M375.27 406.35H458.92M375.27 389.11H458.92M375.27 371.87H458.92" stroke="#e9e9e9" stroke-width=".6" fill="none"/>
<path d="M379.17 359.05V453.65M394.38 359.05V453.65M409.59 359.05V453.65M424.8 359.05V453.65M440.01 359.05V453.65M455.22 359.05V453.65M375.27 449.45H458.92M375.27 432.21H458.92M375.27 414.97H458.92M375.27 397.73H458.92M375.27 380.49H458.92M375.27 363.25H458.92" stroke="#e7e7e7" stroke-width="1.05" fill="none"/>
<mask id="c19" maskUnits="userSpaceOnUse" x="375.27" y="359.05" width="83.65" height="94.6"><path d="M379.32 449.55L455.16 449.55L379.32 362.95z" fill="#fff"/></mask>
<g mask="url(#c19)">
<path d="M379.32 449.55L455.16 449.55L379.32 362.95z" fill="#fa9fb5"/>
<path d="M379 458.1L462.8 458.1L462.8 354.6L381 354.6z" fill="#faa1b6"/>
<path d="M383.9 458.1L462.8 458.1L462.8 354.6L386 354.6z" fill="#faa3b6"/>
<path d="M388.7 458.1L462.8 458.1L462.8 354.6L390.8 354.6z" fill="#fba6b7"/>
<path d="M393.4 458.1L462.8 458.1L462.8 354.6L395.4 354.6z" fill="#fba8b8"/>
<path d="M397.9 458.1L462.8 458.1L462.8 354.6L400 354.6z" fill="#fbaab8"/>
<path d="M402.3 458.1L462.8 458.1L462.8 354.6L404.4 354.6z" fill="#fbadb9"/>
<path d="M406.6 458.1L462.8 458.1L462.8 354.6L408.7 354.6z" fill="#fbafba"/>
<path d="M410.8 458.1L462.8 458.1L462.8 354.6L412.8 354.6z" fill="#fbb1ba"/>
<path d="M414.9 458.1L462.8 458.1L462.8 354.6L416.9 354.6z" fill="#fbb3bb"/>
<path d="M418.8 458.1L462.8 458.1L462.8 354.6L420.8 354.6z" fill="#fbb6bc"/>
<path d="M422.7 458.1L462.8 458.1L462.8 354.6L424.7 354.6z" fill="#fcb8bc"/>
<path d="M426.4 458.1L462.8 458.1L462.8 354.6L428.5 354.6z" fill="#fcbabd"/>
<path d="M430.1 458.1L462.8 458.1L462.8 354.6L432.1 354.6z" fill="#fcbcbd"/>
<path d="M433.6 458.1L462.8 458.1L462.8 354.6L435.7 354.6z" fill="#fcbfbe"/>
<path d="M437.1 458.1L462.8 458.1L462.8 354.6L439.1 354.6z" fill="#fcc1bf"/>
<path d="M440.5 458.1L462.8 458.1L462.8 354.6L442.5 354.6z" fill="#fcc3bf"/>
<path d="M443.8 458.1L462.8 458.1L462.8 354.6L445.9 354.6z" fill="#fcc5c0"/>
<path d="M447.1 458.1L462.8 458.1L462.8 354.6L449.1 354.6z" fill="#fcc8c2"/>
<path d="M450.2 458.1L462.8 458.1L462.8 354.6L452.2 354.6z" fill="#fccac4"/>
<path d="M453.3 458.1L462.8 458.1L462.8 354.6L455.3 354.6z" fill="#fdccc6"/>
</g>
<g mask="url(#c19)" stroke="#000" stroke-width="1" fill="none">
<path d="M415.04 449.45L415.91 404.89" stroke-dasharray="1.05 2.1"/>
</g>
<path d="M379.17 454.15v3.1M394.38 454.15v3.1M409.59 454.15v3.1M424.8 454.15v3.1M440.01 454.15v3.1M455.22 454.15v3.1M374.77 449.45h-3.1M374.77 432.21h-3.1M374.77 414.97h-3.1M374.77 397.73h-3.1M374.77 380.49h-3.1M374.77 363.25h-3.1" stroke="#333" stroke-width="1.2" fill="none"/>
<g font-size="5.7" fill="#4d4d4d">
<g text-anchor="middle">
<text x="379.17" y="464.25">0</text>
<text x="394.38" y="464.25">20</text>
<text x="409.59" y="464.25">40</text>
<text x="424.8" y="464.25">60</text>
<text x="440.01" y="464.25">80</text>
<text x="455.22" y="464.25">100</text>
</g><g text-anchor="end">
<text x="369.57" y="451.5">0</text>
<text x="369.57" y="434.26">20</text>
<text x="369.57" y="417.02">40</text>
<text x="369.57" y="399.78">60</text>
<text x="369.57" y="382.54">80</text>
<text x="369.57" y="365.3">100</text>
</g></g>
<rect x="375.27" y="359.05" width="83.65" height="94.6" fill="none" stroke="#333" stroke-width="1.25"/>
</g>
<g>
<path d="M499.32 359.05V453.65M514.53 359.05V453.65M529.74 359.05V453.65M544.95 359.05V453.65M560.15 359.05V453.65M487.81 440.83H571.46M487.81 423.59H571.46M487.81 406.35H571.46M487.81 389.11H571.46M487.81 371.87H571.46" stroke="#e9e9e9" stroke-width=".6" fill="none"/>
<path d="M491.71 359.05V453.65M506.92 359.05V453.65M522.13 359.05V453.65M537.34 359.05V453.65M552.55 359.05V453.65M567.76 359.05V453.65M487.81 449.45H571.46M487.81 432.21H571.46M487.81 414.97H571.46M487.81 397.73H571.46M487.81 380.49H571.46M487.81 363.25H571.46" stroke="#e7e7e7" stroke-width="1.05" fill="none"/>
<mask id="c20" maskUnits="userSpaceOnUse" x="487.81" y="359.05" width="83.65" height="94.6"><path d="M491.86 449.55L567.7 449.55L491.86 362.95z" fill="#fff"/></mask>
<g mask="url(#c20)">
<path d="M491.86 449.55L567.7 449.55L491.86 362.95z" fill="#f76aa2"/>
<path d="M494.3 458.1L575.4 458.1L575.4 354.6L496.3 354.6z" fill="#f76da3"/>
<path d="M498.5 458.1L575.4 458.1L575.4 354.6L500.5 354.6z" fill="#f871a4"/>
<path d="M502.6 458.1L575.4 458.1L575.4 354.6L504.6 354.6z" fill="#f875a5"/>
<path d="M506.5 458.1L575.4 458.1L575.4 354.6L508.6 354.6z" fill="#f878a6"/>
<path d="M510.3 458.1L575.4 458.1L575.4 354.6L512.4 354.6z" fill="#f87ba8"/>
<path d="M514 458.1L575.4 458.1L575.4 354.6L516 354.6z" fill="#f97fa9"/>
<path d="M517.5 458.1L575.4 458.1L575.4 354.6L519.6 354.6z" fill="#f982aa"/>
<path d="M520.9 458.1L575.4 458.1L575.4 354.6L523 354.6z" fill="#f985ab"/>
<path d="M524.2 458.1L575.4 458.1L575.4 354.6L526.3 354.6z" fill="#f989ac"/>
<path d="M527.4 458.1L575.4 458.1L575.4 354.6L529.4 354.6z" fill="#f98cae"/>
<path d="M530.5 458.1L575.4 458.1L575.4 354.6L532.5 354.6z" fill="#fa8faf"/>
<path d="M533.5 458.1L575.4 458.1L575.4 354.6L535.5 354.6z" fill="#fa92b0"/>
<path d="M536.3 458.1L575.4 458.1L575.4 354.6L538.4 354.6z" fill="#fa95b1"/>
<path d="M539.1 458.1L575.4 458.1L575.4 354.6L541.2 354.6z" fill="#fa98b2"/>
<path d="M541.9 458.1L575.4 458.1L575.4 354.6L543.9 354.6z" fill="#fa9bb4"/>
<path d="M544.5 458.1L575.4 458.1L575.4 354.6L546.5 354.6z" fill="#fa9eb5"/>
<path d="M547 458.1L575.4 458.1L575.4 354.6L549.1 354.6z" fill="#faa1b6"/>
<path d="M549.5 458.1L575.4 458.1L575.4 354.6L551.5 354.6z" fill="#faa3b6"/>
<path d="M551.9 458.1L575.4 458.1L575.4 354.6L553.9 354.6z" fill="#fba6b7"/>
<path d="M554.2 458.1L575.4 458.1L575.4 354.6L556.3 354.6z" fill="#fba8b8"/>
<path d="M556.5 458.1L575.4 458.1L575.4 354.6L558.5 354.6z" fill="#fbaab8"/>
<path d="M558.7 458.1L575.4 458.1L575.4 354.6L560.7 354.6z" fill="#fbadb9"/>
<path d="M560.8 458.1L575.4 458.1L575.4 354.6L562.9 354.6z" fill="#fbafba"/>
<path d="M562.9 458.1L575.4 458.1L575.4 354.6L565 354.6z" fill="#fbb1ba"/>
<path d="M565 458.1L575.4 458.1L575.4 354.6L567 354.6z" fill="#fbb3bb"/>
<path d="M566.9 458.1L575.4 458.1L575.4 354.6L569 354.6z" fill="#fbb5bb"/>
</g>
<g mask="url(#c20)" stroke="#000" stroke-width="1" fill="none">
<path d="M491.71 363.25L491.71 363.25" stroke-dasharray="3.2 2.8"/>
<path d="M565.13 449.45L565.19 446.54" stroke-dasharray="1.05 2.1"/>
</g>
<path d="M491.71 454.15v3.1M506.92 454.15v3.1M522.13 454.15v3.1M537.34 454.15v3.1M552.55 454.15v3.1M567.76 454.15v3.1M487.31 449.45h-3.1M487.31 432.21h-3.1M487.31 414.97h-3.1M487.31 397.73h-3.1M487.31 380.49h-3.1M487.31 363.25h-3.1" stroke="#333" stroke-width="1.2" fill="none"/>
<g font-size="5.7" fill="#4d4d4d">
<g text-anchor="middle">
<text x="491.71" y="464.25">0</text>
<text x="506.92" y="464.25">20</text>
<text x="522.13" y="464.25">40</text>
<text x="537.34" y="464.25">60</text>
<text x="552.55" y="464.25">80</text>
<text x="567.76" y="464.25">100</text>
</g><g text-anchor="end">
<text x="482.11" y="451.5">0</text>
<text x="482.11" y="434.26">20</text>
<text x="482.11" y="417.02">40</text>
<text x="482.11" y="399.78">60</text>
<text x="482.11" y="382.54">80</text>
<text x="482.11" y="365.3">100</text>
</g></g>
<rect x="487.81" y="359.05" width="83.65" height="94.6" fill="none" stroke="#333" stroke-width="1.25"/>
</g>
<g>
<path d="M611.86 359.05V453.65M627.07 359.05V453.65M642.27 359.05V453.65M657.49 359.05V453.65M672.69 359.05V453.65M600.35 440.83H684M600.35 423.59H684M600.35 406.35H684M600.35 389.11H684M600.35 371.87H684" stroke="#e9e9e9" stroke-width=".6" fill="none"/>
<path d="M604.25 359.05V453.65M619.46 359.05V453.65M634.67 359.05V453.65M649.88 359.05V453.65M665.09 359.05V453.65M680.3 359.05V453.65M600.35 449.45H684M600.35 432.21H684M600.35 414.97H684M600.35 397.73H684M600.35 380.49H684M600.35 363.25H684" stroke="#e7e7e7" stroke-width="1.05" fill="none"/>
<path d="M604.4 449.55L680.24 449.55L604.4 362.95z" fill="#7a0177"/>
<path d="M604.25 454.15v3.1M619.46 454.15v3.1M634.67 454.15v3.1M649.88 454.15v3.1M665.09 454.15v3.1M680.3 454.15v3.1M599.85 449.45h-3.1M599.85 432.21h-3.1M599.85 414.97h-3.1M599.85 397.73h-3.1M599.85 380.49h-3.1M599.85 363.25h-3.1" stroke="#333" stroke-width="1.2" fill="none"/>
<g font-size="5.7" fill="#4d4d4d">
<g text-anchor="middle">
<text x="604.25" y="464.25">0</text>
<text x="619.46" y="464.25">20</text>
<text x="634.67" y="464.25">40</text>
<text x="649.88" y="464.25">60</text>
<text x="665.09" y="464.25">80</text>
<text x="680.3" y="464.25">100</text>
</g><g text-anchor="end">
<text x="594.65" y="451.5">0</text>
<text x="594.65" y="434.26">20</text>
<text x="594.65" y="417.02">40</text>
<text x="594.65" y="399.78">60</text>
<text x="594.65" y="382.54">80</text>
<text x="594.65" y="365.3">100</text>
</g></g>
<rect x="600.35" y="359.05" width="83.65" height="94.6" fill="none" stroke="#333" stroke-width="1.25"/>
</g>
<text x="348.2" y="486.7" font-size="8.25" text-anchor="middle">Concordant variant prevalence</text>
<text transform="translate(7.0 244.6) rotate(-90)" font-size="8.25" text-anchor="middle">Discordant variant prevalence</text>
</svg>
</body></html>
